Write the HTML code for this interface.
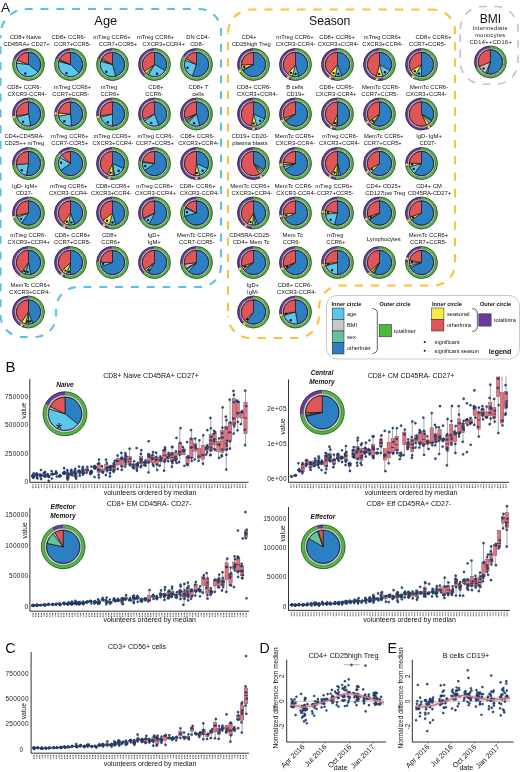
<!DOCTYPE html>
<html><head><meta charset="utf-8"><style>
html,body{margin:0;padding:0;background:#fff;}
svg{display:block;}
.d{fill:#2b4a7c;stroke:#0f2448;stroke-width:.3px}
.tk{stroke:#6a6a6a;stroke-width:1.25px;stroke-dasharray:1.05 .4;fill:none}
.b{fill:#ef6f80;stroke:#3a3a3a;stroke-width:.35px}
.w{stroke:#4a4a4a;stroke-width:.5px}
.m{stroke:#111;stroke-width:.65px}
.pw{stroke:#111;stroke-width:.65px;stroke-linejoin:round}
</style></head><body>
<svg width="520" height="772" viewBox="0 0 520 772" font-family='"Liberation Sans", sans-serif'>
<rect width="520" height="772" fill="#fff"/>
<g style="will-change:transform">
<text x="1" y="11.5" font-size="13.7" text-anchor="start" font-weight="normal" font-style="normal" fill="#111" >A</text><path d="M0.5 35A26 26 0 0 1 26.5 9L199 9A22 22 0 0 1 221 31L221 266A21 21 0 0 1 200 287L78 287A22 22 0 0 0 56 309L56 316A21 21 0 0 1 35 337L22.5 337A22 22 0 0 1 0.5 315Z" fill="none" stroke="#56c2e6" stroke-width="2.1" stroke-dasharray="7.9 7.91" stroke-dashoffset="-7.21"/><text x="94.3" y="24.6" font-size="12.9" text-anchor="start" font-weight="normal" font-style="normal" fill="#111" >Age</text><path d="M228 33A23.5 23.5 0 0 1 251.5 9.5L433 9.5" fill="none" stroke="#fec23a" stroke-width="2.1" stroke-dasharray="8.3 8" stroke-dashoffset="-0.71"/><path d="M433 9.5A22 22 0 0 1 455 31.5L455 264A21.5 21.5 0 0 1 433.5 285.5L341 285.5A22 22 0 0 0 319 307.5L319 316A22 22 0 0 1 297 338L250 338A22 22 0 0 1 228 316" fill="none" stroke="#fec23a" stroke-width="2.1" stroke-dasharray="8.3 8" stroke-dashoffset="-12.36"/><path d="M228 316L228 33" fill="none" stroke="#fec23a" stroke-width="2.1" stroke-dasharray="8.3 8" stroke-dashoffset="-5"/><text x="309" y="24.8" font-size="12.2" text-anchor="start" font-weight="normal" font-style="normal" fill="#111" >Season</text><path d="M460.3 29A22.5 22.5 0 0 1 482.8 6.5L495.5 6.5A22.5 22.5 0 0 1 518 29L518 61.8A22.5 22.5 0 0 1 495.5 84.3L482.8 84.3A22.5 22.5 0 0 1 460.3 61.8Z" fill="none" stroke="#c2c2c2" stroke-width="1.6" stroke-dasharray="7.8 7.8"/><text x="490.3" y="22.5" font-size="12" text-anchor="middle" font-weight="normal" font-style="normal" fill="#111" >BMI</text><text x="490.3" y="30.4" font-size="5.6" text-anchor="middle" font-weight="normal" font-style="normal" fill="#111" letter-spacing="0.35">Intermediate</text><text x="490.3" y="37.4" font-size="5.6" text-anchor="middle" font-weight="normal" font-style="normal" fill="#111" letter-spacing="0.35">monocytes</text><text x="490.8" y="44.4" font-size="5.6" text-anchor="middle" font-weight="normal" font-style="normal" fill="#111" letter-spacing="0.4">CD14++CD16+</text><path d="M490.4 45.7A16.2 16.2 0 1 1 475.49 68.23L477.84 67.23A13.64 13.64 0 1 0 490.4 48.26Z" fill="#4cba3c"/><path d="M475.49 68.23A16.2 16.2 0 0 1 490.4 45.7L490.4 48.26A13.64 13.64 0 0 0 477.84 67.23Z" fill="#6b3a9e"/><circle cx="490.4" cy="61.9" r="16" fill="none" stroke="#1a1a1a" stroke-width="0.55"/><circle cx="490.4" cy="61.9" r="13.64" fill="#fff" stroke="#1a1a1a" stroke-width="0.5"/><circle cx="490.4" cy="61.9" r="12.83" fill="#fff" stroke="#8e8e8e" stroke-width="0.6"/><path class="pw" d="M490.4 61.9L490.4 49.72A12.18 12.18 0 1 1 487.25 73.67Z" fill="#2c7fc1"/><path class="pw" d="M490.4 61.9L487.25 73.67A12.18 12.18 0 0 1 485.64 73.11Z" fill="#5ac8ea"/><path class="pw" d="M490.4 61.9L485.64 73.11A12.18 12.18 0 0 1 479.19 66.66Z" fill="#c6c6c6"/><path class="pw" d="M490.4 61.9L479.19 66.66A12.18 12.18 0 0 1 490.4 49.72Z" fill="#e0555a"/><circle cx="490.4" cy="61.9" r="12.18" fill="none" stroke="#111" stroke-width="0.5"/><circle cx="483.56" cy="68.5" r="1.17" fill="#111"/><text x="25.5" y="39.2" font-size="5.8" text-anchor="middle" font-weight="normal" font-style="normal" fill="#111" >CD8+ Naive</text><text x="26.5" y="46.2" font-size="5.8" text-anchor="middle" font-weight="normal" font-style="normal" fill="#111" >CD45RA+ CD27+</text><path d="M28.5 48.3A16.2 16.2 0 1 1 13.38 58.69L15.77 59.61A13.64 13.64 0 1 0 28.5 50.86Z" fill="#4cba3c"/><path d="M13.38 58.69A16.2 16.2 0 0 1 28.5 48.3L28.5 50.86A13.64 13.64 0 0 0 15.77 59.61Z" fill="#6b3a9e"/><circle cx="28.5" cy="64.5" r="16" fill="none" stroke="#1a1a1a" stroke-width="0.55"/><circle cx="28.5" cy="64.5" r="13.64" fill="#fff" stroke="#1a1a1a" stroke-width="0.5"/><circle cx="28.5" cy="64.5" r="12.83" fill="#fff" stroke="#8e8e8e" stroke-width="0.6"/><path class="pw" d="M28.5 64.5L28.5 52.32A12.18 12.18 0 0 1 38.1 72Z" fill="#2c7fc1"/><path class="pw" d="M28.5 64.5L38.1 72A12.18 12.18 0 0 1 16.41 63.02Z" fill="#5ac8ea"/><path class="pw" d="M28.5 64.5L16.41 63.02A12.18 12.18 0 0 1 17.13 60.13Z" fill="#c6c6c6"/><path class="pw" d="M28.5 64.5L17.13 60.13A12.18 12.18 0 0 1 28.5 52.32Z" fill="#e0555a"/><circle cx="28.5" cy="64.5" r="12.18" fill="none" stroke="#111" stroke-width="0.5"/><circle cx="25.25" cy="73.43" r="1.17" fill="#111"/><text x="68.6" y="39.2" font-size="5.8" text-anchor="middle" font-weight="normal" font-style="normal" fill="#111" >CD8+ CCR6-</text><text x="72.4" y="46.2" font-size="5.8" text-anchor="middle" font-weight="normal" font-style="normal" fill="#111" >CCR7+CCR5-</text><path d="M70.5 48.3A16.2 16.2 0 1 1 55.28 58.96L57.68 59.83A13.64 13.64 0 1 0 70.5 50.86Z" fill="#4cba3c"/><path d="M55.28 58.96A16.2 16.2 0 0 1 70.5 48.3L70.5 50.86A13.64 13.64 0 0 0 57.68 59.83Z" fill="#6b3a9e"/><circle cx="70.5" cy="64.5" r="16" fill="none" stroke="#1a1a1a" stroke-width="0.55"/><circle cx="70.5" cy="64.5" r="13.64" fill="#fff" stroke="#1a1a1a" stroke-width="0.5"/><circle cx="70.5" cy="64.5" r="12.83" fill="#fff" stroke="#8e8e8e" stroke-width="0.6"/><path class="pw" d="M70.5 64.5L70.5 52.32A12.18 12.18 0 0 1 79.11 73.11Z" fill="#2c7fc1"/><path class="pw" d="M70.5 64.5L79.11 73.11A12.18 12.18 0 0 1 58.73 61.35Z" fill="#5ac8ea"/><path class="pw" d="M70.5 64.5L58.73 61.35A12.18 12.18 0 0 1 59.05 60.33Z" fill="#c6c6c6"/><path class="pw" d="M70.5 64.5L59.05 60.33A12.18 12.18 0 0 1 59.46 59.35Z" fill="#f4ea48"/><path class="pw" d="M70.5 64.5L59.46 59.35A12.18 12.18 0 0 1 70.5 52.32Z" fill="#e0555a"/><circle cx="70.5" cy="64.5" r="12.18" fill="none" stroke="#111" stroke-width="0.5"/><circle cx="66.48" cy="73.11" r="1.17" fill="#111"/><text x="111.9" y="39.2" font-size="5.8" text-anchor="middle" font-weight="normal" font-style="normal" fill="#111" >mTreg CCR6+</text><text x="118" y="46.2" font-size="5.8" text-anchor="middle" font-weight="normal" font-style="normal" fill="#111" >CCR7+CCR5+</text><path d="M112.5 48.3A16.2 16.2 0 1 1 97.48 58.43L99.85 59.39A13.64 13.64 0 1 0 112.5 50.86Z" fill="#4cba3c"/><path d="M97.48 58.43A16.2 16.2 0 0 1 112.5 48.3L112.5 50.86A13.64 13.64 0 0 0 99.85 59.39Z" fill="#6b3a9e"/><circle cx="112.5" cy="64.5" r="16" fill="none" stroke="#1a1a1a" stroke-width="0.55"/><circle cx="112.5" cy="64.5" r="13.64" fill="#fff" stroke="#1a1a1a" stroke-width="0.5"/><circle cx="112.5" cy="64.5" r="12.83" fill="#fff" stroke="#8e8e8e" stroke-width="0.6"/><path class="pw" d="M112.5 64.5L112.5 52.32A12.18 12.18 0 0 1 115.65 76.27Z" fill="#2c7fc1"/><path class="pw" d="M112.5 64.5L115.65 76.27A12.18 12.18 0 0 1 100.73 61.35Z" fill="#5ac8ea"/><path class="pw" d="M112.5 64.5L100.73 61.35A12.18 12.18 0 0 1 101.2 59.94Z" fill="#c6c6c6"/><path class="pw" d="M112.5 64.5L101.2 59.94A12.18 12.18 0 0 1 101.74 58.78Z" fill="#f4ea48"/><path class="pw" d="M112.5 64.5L101.74 58.78A12.18 12.18 0 0 1 112.5 52.32Z" fill="#e0555a"/><circle cx="112.5" cy="64.5" r="12.18" fill="none" stroke="#111" stroke-width="0.5"/><circle cx="106.39" cy="71.78" r="1.17" fill="#111"/><text x="155.6" y="39.2" font-size="5.8" text-anchor="middle" font-weight="normal" font-style="normal" fill="#111" >mTreg CCR6+</text><text x="163.7" y="46.2" font-size="5.8" text-anchor="middle" font-weight="normal" font-style="normal" fill="#111" >CXCR3+CCR4+</text><path d="M154.5 48.3A16.2 16.2 0 1 1 143.66 76.54L145.37 74.64A13.64 13.64 0 1 0 154.5 50.86Z" fill="#4cba3c"/><path d="M143.66 76.54A16.2 16.2 0 0 1 154.5 48.3L154.5 50.86A13.64 13.64 0 0 0 145.37 74.64Z" fill="#6b3a9e"/><circle cx="154.5" cy="64.5" r="16" fill="none" stroke="#1a1a1a" stroke-width="0.55"/><circle cx="154.5" cy="64.5" r="13.64" fill="#fff" stroke="#1a1a1a" stroke-width="0.5"/><circle cx="154.5" cy="64.5" r="12.83" fill="#fff" stroke="#8e8e8e" stroke-width="0.6"/><path class="pw" d="M154.5 64.5L154.5 52.32A12.18 12.18 0 0 1 165.05 70.59Z" fill="#2c7fc1"/><path class="pw" d="M154.5 64.5L165.05 70.59A12.18 12.18 0 0 1 148.41 75.05Z" fill="#5ac8ea"/><path class="pw" d="M154.5 64.5L148.41 75.05A12.18 12.18 0 0 1 146.35 73.55Z" fill="#66c49c"/><path class="pw" d="M154.5 64.5L146.35 73.55A12.18 12.18 0 0 1 144.52 71.49Z" fill="#f4ea48"/><path class="pw" d="M154.5 64.5L144.52 71.49A12.18 12.18 0 0 1 154.5 52.32Z" fill="#e0555a"/><circle cx="154.5" cy="64.5" r="12.18" fill="none" stroke="#111" stroke-width="0.5"/><circle cx="156.96" cy="73.68" r="1.17" fill="#111"/><text x="198" y="39.2" font-size="5.8" text-anchor="middle" font-weight="normal" font-style="normal" fill="#111" >DN CD4-</text><text x="196.9" y="46.2" font-size="5.8" text-anchor="middle" font-weight="normal" font-style="normal" fill="#111" >CD8-</text><path d="M196.5 48.3A16.2 16.2 0 1 1 182.47 56.4L184.69 57.68A13.64 13.64 0 1 0 196.5 50.86Z" fill="#4cba3c"/><path d="M182.47 56.4A16.2 16.2 0 0 1 196.5 48.3L196.5 50.86A13.64 13.64 0 0 0 184.69 57.68Z" fill="#6b3a9e"/><circle cx="196.5" cy="64.5" r="16" fill="none" stroke="#1a1a1a" stroke-width="0.55"/><circle cx="196.5" cy="64.5" r="13.64" fill="#fff" stroke="#1a1a1a" stroke-width="0.5"/><circle cx="196.5" cy="64.5" r="12.83" fill="#fff" stroke="#8e8e8e" stroke-width="0.6"/><path class="pw" d="M196.5 64.5L196.5 52.32A12.18 12.18 0 1 1 192.33 75.95Z" fill="#2c7fc1"/><path class="pw" d="M196.5 64.5L192.33 75.95A12.18 12.18 0 0 1 185.05 60.33Z" fill="#5ac8ea"/><path class="pw" d="M196.5 64.5L185.05 60.33A12.18 12.18 0 0 1 185.95 58.41Z" fill="#c6c6c6"/><path class="pw" d="M196.5 64.5L185.95 58.41A12.18 12.18 0 0 1 196.5 52.32Z" fill="#e0555a"/><circle cx="196.5" cy="64.5" r="12.18" fill="none" stroke="#111" stroke-width="0.5"/><circle cx="187.57" cy="67.75" r="1.17" fill="#111"/><text x="24.3" y="88.7" font-size="5.8" text-anchor="middle" font-weight="normal" font-style="normal" fill="#111" >CD8+ CCR6-</text><text x="27.1" y="95.7" font-size="5.8" text-anchor="middle" font-weight="normal" font-style="normal" fill="#111" >CXCR3-CCR4-</text><path d="M28.5 97.8A16.2 16.2 0 1 1 12.85 118.19L15.32 117.53A13.64 13.64 0 1 0 28.5 100.36Z" fill="#4cba3c"/><path d="M12.85 118.19A16.2 16.2 0 0 1 28.5 97.8L28.5 100.36A13.64 13.64 0 0 0 15.32 117.53Z" fill="#6b3a9e"/><circle cx="28.5" cy="114" r="16" fill="none" stroke="#1a1a1a" stroke-width="0.55"/><circle cx="28.5" cy="114" r="13.64" fill="#fff" stroke="#1a1a1a" stroke-width="0.5"/><circle cx="28.5" cy="114" r="12.83" fill="#fff" stroke="#8e8e8e" stroke-width="0.6"/><path class="pw" d="M28.5 114L28.5 101.82A12.18 12.18 0 0 1 30.62 126Z" fill="#2c7fc1"/><path class="pw" d="M28.5 114L30.62 126A12.18 12.18 0 0 1 16.73 117.15Z" fill="#5ac8ea"/><path class="pw" d="M28.5 114L16.73 117.15A12.18 12.18 0 0 1 16.44 115.7Z" fill="#f4ea48"/><path class="pw" d="M28.5 114L16.44 115.7A12.18 12.18 0 0 1 28.5 101.82Z" fill="#e0555a"/><circle cx="28.5" cy="114" r="12.18" fill="none" stroke="#111" stroke-width="0.5"/><circle cx="23.05" cy="121.78" r="1.17" fill="#111"/><circle cx="13.91" cy="117.1" r="1.21" fill="#f3e33a"/><text x="72.5" y="88.7" font-size="5.8" text-anchor="middle" font-weight="normal" font-style="normal" fill="#111" >mTreg CCR6+</text><text x="70.8" y="95.7" font-size="5.8" text-anchor="middle" font-weight="normal" font-style="normal" fill="#111" >CCR7+CCR5-</text><path d="M70.5 97.8A16.2 16.2 0 1 1 54.55 116.81L57.07 116.37A13.64 13.64 0 1 0 70.5 100.36Z" fill="#4cba3c"/><path d="M54.55 116.81A16.2 16.2 0 0 1 70.5 97.8L70.5 100.36A13.64 13.64 0 0 0 57.07 116.37Z" fill="#6b3a9e"/><circle cx="70.5" cy="114" r="16" fill="none" stroke="#1a1a1a" stroke-width="0.55"/><circle cx="70.5" cy="114" r="13.64" fill="#fff" stroke="#1a1a1a" stroke-width="0.5"/><circle cx="70.5" cy="114" r="12.83" fill="#fff" stroke="#8e8e8e" stroke-width="0.6"/><path class="pw" d="M70.5 114L70.5 101.82A12.18 12.18 0 0 1 71.56 126.14Z" fill="#2c7fc1"/><path class="pw" d="M70.5 114L71.56 126.14A12.18 12.18 0 0 1 58.5 116.12Z" fill="#5ac8ea"/><path class="pw" d="M70.5 114L58.5 116.12A12.18 12.18 0 0 1 58.36 112.94Z" fill="#f4ea48"/><path class="pw" d="M70.5 114L58.36 112.94A12.18 12.18 0 0 1 70.5 101.82Z" fill="#e0555a"/><circle cx="70.5" cy="114" r="12.18" fill="none" stroke="#111" stroke-width="0.5"/><circle cx="64.39" cy="121.28" r="1.17" fill="#111"/><circle cx="55.59" cy="113.48" r="1.21" fill="#f3e33a"/><text x="109" y="88.7" font-size="5.8" text-anchor="middle" font-weight="normal" font-style="normal" fill="#111" >mTreg</text><text x="110" y="95.7" font-size="5.8" text-anchor="middle" font-weight="normal" font-style="normal" fill="#111" >CCR6+</text><path d="M112.5 97.8A16.2 16.2 0 1 1 96.85 118.19L99.32 117.53A13.64 13.64 0 1 0 112.5 100.36Z" fill="#4cba3c"/><path d="M96.85 118.19A16.2 16.2 0 0 1 112.5 97.8L112.5 100.36A13.64 13.64 0 0 0 99.32 117.53Z" fill="#6b3a9e"/><circle cx="112.5" cy="114" r="16" fill="none" stroke="#1a1a1a" stroke-width="0.55"/><circle cx="112.5" cy="114" r="13.64" fill="#fff" stroke="#1a1a1a" stroke-width="0.5"/><circle cx="112.5" cy="114" r="12.83" fill="#fff" stroke="#8e8e8e" stroke-width="0.6"/><path class="pw" d="M112.5 114L112.5 101.82A12.18 12.18 0 0 1 112.5 126.18Z" fill="#2c7fc1"/><path class="pw" d="M112.5 114L112.5 126.18A12.18 12.18 0 0 1 100.73 117.15Z" fill="#5ac8ea"/><path class="pw" d="M112.5 114L100.73 117.15A12.18 12.18 0 0 1 100.44 115.7Z" fill="#f4ea48"/><path class="pw" d="M112.5 114L100.44 115.7A12.18 12.18 0 0 1 112.5 101.82Z" fill="#e0555a"/><circle cx="112.5" cy="114" r="12.18" fill="none" stroke="#111" stroke-width="0.5"/><circle cx="107.75" cy="122.23" r="1.17" fill="#111"/><circle cx="97.91" cy="117.1" r="1.21" fill="#f3e33a"/><text x="155.8" y="88.7" font-size="5.8" text-anchor="middle" font-weight="normal" font-style="normal" fill="#111" >CD8+</text><text x="154.2" y="95.7" font-size="5.8" text-anchor="middle" font-weight="normal" font-style="normal" fill="#111" >CCR6-</text><path d="M154.5 97.8A16.2 16.2 0 1 1 139.82 120.85L142.14 119.76A13.64 13.64 0 1 0 154.5 100.36Z" fill="#4cba3c"/><path d="M139.82 120.85A16.2 16.2 0 0 1 154.5 97.8L154.5 100.36A13.64 13.64 0 0 0 142.14 119.76Z" fill="#6b3a9e"/><circle cx="154.5" cy="114" r="16" fill="none" stroke="#1a1a1a" stroke-width="0.55"/><circle cx="154.5" cy="114" r="13.64" fill="#fff" stroke="#1a1a1a" stroke-width="0.5"/><circle cx="154.5" cy="114" r="12.83" fill="#fff" stroke="#8e8e8e" stroke-width="0.6"/><path class="pw" d="M154.5 114L154.5 101.82A12.18 12.18 0 0 1 158.67 125.45Z" fill="#2c7fc1"/><path class="pw" d="M154.5 114L158.67 125.45A12.18 12.18 0 0 1 144.52 120.99Z" fill="#5ac8ea"/><path class="pw" d="M154.5 114L144.52 120.99A12.18 12.18 0 0 1 143.46 119.15Z" fill="#c6c6c6"/><path class="pw" d="M154.5 114L143.46 119.15A12.18 12.18 0 0 1 154.5 101.82Z" fill="#e0555a"/><circle cx="154.5" cy="114" r="12.18" fill="none" stroke="#111" stroke-width="0.5"/><circle cx="151.25" cy="122.93" r="1.17" fill="#111"/><text x="198.5" y="88.7" font-size="5.8" text-anchor="middle" font-weight="normal" font-style="normal" fill="#111" >CD8+ T</text><text x="198" y="95.7" font-size="5.8" text-anchor="middle" font-weight="normal" font-style="normal" fill="#111" >cells</text><path d="M196.5 97.8A16.2 16.2 0 1 1 182.2 121.61L184.46 120.4A13.64 13.64 0 1 0 196.5 100.36Z" fill="#4cba3c"/><path d="M182.2 121.61A16.2 16.2 0 0 1 196.5 97.8L196.5 100.36A13.64 13.64 0 0 0 184.46 120.4Z" fill="#6b3a9e"/><circle cx="196.5" cy="114" r="16" fill="none" stroke="#1a1a1a" stroke-width="0.55"/><circle cx="196.5" cy="114" r="13.64" fill="#fff" stroke="#1a1a1a" stroke-width="0.5"/><circle cx="196.5" cy="114" r="12.83" fill="#fff" stroke="#8e8e8e" stroke-width="0.6"/><path class="pw" d="M196.5 114L196.5 101.82A12.18 12.18 0 0 1 199.65 125.77Z" fill="#2c7fc1"/><path class="pw" d="M196.5 114L199.65 125.77A12.18 12.18 0 0 1 187.89 122.61Z" fill="#5ac8ea"/><path class="pw" d="M196.5 114L187.89 122.61A12.18 12.18 0 0 1 186.52 120.99Z" fill="#66c49c"/><path class="pw" d="M196.5 114L186.52 120.99A12.18 12.18 0 0 1 185.74 119.72Z" fill="#c6c6c6"/><path class="pw" d="M196.5 114L185.74 119.72A12.18 12.18 0 0 1 185.05 118.17Z" fill="#f4ea48"/><path class="pw" d="M196.5 114L185.05 118.17A12.18 12.18 0 0 1 196.5 101.82Z" fill="#e0555a"/><circle cx="196.5" cy="114" r="12.18" fill="none" stroke="#111" stroke-width="0.5"/><circle cx="194.04" cy="123.18" r="1.17" fill="#111"/><text x="24.3" y="138.2" font-size="5.8" text-anchor="middle" font-weight="normal" font-style="normal" fill="#111" >CD4+CD45RA-</text><text x="24.3" y="145.2" font-size="5.8" text-anchor="middle" font-weight="normal" font-style="normal" fill="#111" >CD25++ mTreg</text><path d="M28.5 147.3A16.2 16.2 0 1 1 12.36 164.91L14.91 164.69A13.64 13.64 0 1 0 28.5 149.86Z" fill="#4cba3c"/><path d="M12.36 164.91A16.2 16.2 0 0 1 28.5 147.3L28.5 149.86A13.64 13.64 0 0 0 14.91 164.69Z" fill="#6b3a9e"/><circle cx="28.5" cy="163.5" r="16" fill="none" stroke="#1a1a1a" stroke-width="0.55"/><circle cx="28.5" cy="163.5" r="13.64" fill="#fff" stroke="#1a1a1a" stroke-width="0.5"/><circle cx="28.5" cy="163.5" r="12.83" fill="#fff" stroke="#8e8e8e" stroke-width="0.6"/><path class="pw" d="M28.5 163.5L28.5 151.32A12.18 12.18 0 1 1 26.38 175.5Z" fill="#2c7fc1"/><path class="pw" d="M28.5 163.5L26.38 175.5A12.18 12.18 0 0 1 16.36 164.56Z" fill="#5ac8ea"/><path class="pw" d="M28.5 163.5L16.36 164.56A12.18 12.18 0 0 1 28.5 151.32Z" fill="#e0555a"/><circle cx="28.5" cy="163.5" r="12.18" fill="none" stroke="#111" stroke-width="0.5"/><circle cx="21.78" cy="170.22" r="1.17" fill="#111"/><text x="69.7" y="138.2" font-size="5.8" text-anchor="middle" font-weight="normal" font-style="normal" fill="#111" >mTreg CCR6+</text><text x="69.7" y="145.2" font-size="5.8" text-anchor="middle" font-weight="normal" font-style="normal" fill="#111" >CCR7-CCR5+</text><path d="M70.5 147.3A16.2 16.2 0 1 1 58.46 152.66L60.36 154.37A13.64 13.64 0 1 0 70.5 149.86Z" fill="#4cba3c"/><path d="M58.46 152.66A16.2 16.2 0 0 1 70.5 147.3L70.5 149.86A13.64 13.64 0 0 0 60.36 154.37Z" fill="#6b3a9e"/><circle cx="70.5" cy="163.5" r="16" fill="none" stroke="#1a1a1a" stroke-width="0.55"/><circle cx="70.5" cy="163.5" r="13.64" fill="#fff" stroke="#1a1a1a" stroke-width="0.5"/><circle cx="70.5" cy="163.5" r="12.83" fill="#fff" stroke="#8e8e8e" stroke-width="0.6"/><path class="pw" d="M70.5 163.5L70.5 151.32A12.18 12.18 0 1 1 60.52 170.49Z" fill="#2c7fc1"/><path class="pw" d="M70.5 163.5L60.52 170.49A12.18 12.18 0 0 1 59.95 157.41Z" fill="#5ac8ea"/><path class="pw" d="M70.5 163.5L59.95 157.41A12.18 12.18 0 0 1 61.45 155.35Z" fill="#c6c6c6"/><path class="pw" d="M70.5 163.5L61.45 155.35A12.18 12.18 0 0 1 70.5 151.32Z" fill="#e0555a"/><circle cx="70.5" cy="163.5" r="12.18" fill="none" stroke="#111" stroke-width="0.5"/><circle cx="61.03" cy="162.67" r="1.17" fill="#111"/><text x="112.2" y="138.2" font-size="5.8" text-anchor="middle" font-weight="normal" font-style="normal" fill="#111" >mTreg CCR6+</text><text x="112.8" y="145.2" font-size="5.8" text-anchor="middle" font-weight="normal" font-style="normal" fill="#111" >CXCR3+CCR4-</text><path d="M112.5 147.3A16.2 16.2 0 0 1 113.07 179.69L112.98 177.13A13.64 13.64 0 0 0 112.5 149.86Z" fill="#4cba3c"/><path d="M113.07 179.69A16.2 16.2 0 1 1 112.5 147.3L112.5 149.86A13.64 13.64 0 1 0 112.98 177.13Z" fill="#6b3a9e"/><circle cx="112.5" cy="163.5" r="16" fill="none" stroke="#1a1a1a" stroke-width="0.55"/><circle cx="112.5" cy="163.5" r="13.64" fill="#fff" stroke="#1a1a1a" stroke-width="0.5"/><circle cx="112.5" cy="163.5" r="12.83" fill="#fff" stroke="#8e8e8e" stroke-width="0.6"/><path class="pw" d="M112.5 163.5L112.5 151.32A12.18 12.18 0 0 1 123.54 168.65Z" fill="#2c7fc1"/><path class="pw" d="M112.5 163.5L123.54 168.65A12.18 12.18 0 0 1 114.62 175.5Z" fill="#5ac8ea"/><path class="pw" d="M112.5 163.5L114.62 175.5A12.18 12.18 0 0 1 112.93 175.67Z" fill="#66c49c"/><path class="pw" d="M112.5 163.5L112.93 175.67A12.18 12.18 0 0 1 107.35 174.54Z" fill="#f4ea48"/><path class="pw" d="M112.5 163.5L107.35 174.54A12.18 12.18 0 0 1 112.5 151.32Z" fill="#e0555a"/><circle cx="112.5" cy="163.5" r="12.18" fill="none" stroke="#111" stroke-width="0.5"/><circle cx="118.61" cy="170.78" r="1.17" fill="#111"/><circle cx="110.52" cy="172.79" r="1.17" fill="#111"/><circle cx="109.4" cy="178.09" r="1.21" fill="#f3e33a"/><text x="155.4" y="138.2" font-size="5.8" text-anchor="middle" font-weight="normal" font-style="normal" fill="#111" >mTreg CCR6-</text><text x="154.8" y="145.2" font-size="5.8" text-anchor="middle" font-weight="normal" font-style="normal" fill="#111" >CCR7+CCR5+</text><path d="M154.5 147.3A16.2 16.2 0 1 1 138.55 160.69L141.07 161.13A13.64 13.64 0 1 0 154.5 149.86Z" fill="#4cba3c"/><path d="M138.55 160.69A16.2 16.2 0 0 1 154.5 147.3L154.5 149.86A13.64 13.64 0 0 0 141.07 161.13Z" fill="#6b3a9e"/><circle cx="154.5" cy="163.5" r="16" fill="none" stroke="#1a1a1a" stroke-width="0.55"/><circle cx="154.5" cy="163.5" r="13.64" fill="#fff" stroke="#1a1a1a" stroke-width="0.5"/><circle cx="154.5" cy="163.5" r="12.83" fill="#fff" stroke="#8e8e8e" stroke-width="0.6"/><path class="pw" d="M154.5 163.5L154.5 151.32A12.18 12.18 0 1 1 144.52 170.49Z" fill="#2c7fc1"/><path class="pw" d="M154.5 163.5L144.52 170.49A12.18 12.18 0 0 1 142.36 162.44Z" fill="#5ac8ea"/><path class="pw" d="M154.5 163.5L142.36 162.44A12.18 12.18 0 0 1 142.5 161.38Z" fill="#c6c6c6"/><path class="pw" d="M154.5 163.5L142.5 161.38A12.18 12.18 0 0 1 154.5 151.32Z" fill="#e0555a"/><circle cx="154.5" cy="163.5" r="12.18" fill="none" stroke="#111" stroke-width="0.5"/><circle cx="145.32" cy="165.96" r="1.17" fill="#111"/><text x="197.4" y="138.2" font-size="5.8" text-anchor="middle" font-weight="normal" font-style="normal" fill="#111" >CD8+ CCR6-</text><text x="198.5" y="145.2" font-size="5.8" text-anchor="middle" font-weight="normal" font-style="normal" fill="#111" >CXCR3+CCR4-</text><path d="M196.5 147.3A16.2 16.2 0 0 1 200.69 179.15L200.03 176.68A13.64 13.64 0 0 0 196.5 149.86Z" fill="#4cba3c"/><path d="M200.69 179.15A16.2 16.2 0 1 1 196.5 147.3L196.5 149.86A13.64 13.64 0 1 0 200.03 176.68Z" fill="#6b3a9e"/><circle cx="196.5" cy="163.5" r="16" fill="none" stroke="#1a1a1a" stroke-width="0.55"/><circle cx="196.5" cy="163.5" r="13.64" fill="#fff" stroke="#1a1a1a" stroke-width="0.5"/><circle cx="196.5" cy="163.5" r="12.83" fill="#fff" stroke="#8e8e8e" stroke-width="0.6"/><path class="pw" d="M196.5 163.5L196.5 151.32A12.18 12.18 0 0 1 207.54 168.65Z" fill="#2c7fc1"/><path class="pw" d="M196.5 163.5L207.54 168.65A12.18 12.18 0 0 1 199.65 175.27Z" fill="#5ac8ea"/><path class="pw" d="M196.5 163.5L199.65 175.27A12.18 12.18 0 0 1 194.8 175.56Z" fill="#f4ea48"/><path class="pw" d="M196.5 163.5L194.8 175.56A12.18 12.18 0 0 1 196.5 151.32Z" fill="#e0555a"/><circle cx="196.5" cy="163.5" r="12.18" fill="none" stroke="#111" stroke-width="0.5"/><circle cx="202.61" cy="170.78" r="1.17" fill="#111"/><circle cx="196.83" cy="173" r="1.17" fill="#111"/><circle cx="196.5" cy="178.42" r="1.21" fill="#f3e33a"/><text x="24.9" y="187.7" font-size="5.8" text-anchor="middle" font-weight="normal" font-style="normal" fill="#111" >IgD- IgM+</text><text x="24.3" y="194.7" font-size="5.8" text-anchor="middle" font-weight="normal" font-style="normal" fill="#111" >CD27-</text><path d="M28.5 196.8A16.2 16.2 0 1 1 13.28 218.54L15.68 217.67A13.64 13.64 0 1 0 28.5 199.36Z" fill="#4cba3c"/><path d="M13.28 218.54A16.2 16.2 0 0 1 28.5 196.8L28.5 199.36A13.64 13.64 0 0 0 15.68 217.67Z" fill="#6b3a9e"/><circle cx="28.5" cy="213" r="16" fill="none" stroke="#1a1a1a" stroke-width="0.55"/><circle cx="28.5" cy="213" r="13.64" fill="#fff" stroke="#1a1a1a" stroke-width="0.5"/><circle cx="28.5" cy="213" r="12.83" fill="#fff" stroke="#8e8e8e" stroke-width="0.6"/><path class="pw" d="M28.5 213L28.5 200.82A12.18 12.18 0 1 1 21.51 222.98Z" fill="#2c7fc1"/><path class="pw" d="M28.5 213L21.51 222.98A12.18 12.18 0 0 1 17.05 217.17Z" fill="#5ac8ea"/><path class="pw" d="M28.5 213L17.05 217.17A12.18 12.18 0 0 1 16.58 215.53Z" fill="#f4ea48"/><path class="pw" d="M28.5 213L16.58 215.53A12.18 12.18 0 0 1 28.5 200.82Z" fill="#e0555a"/><circle cx="28.5" cy="213" r="12.18" fill="none" stroke="#111" stroke-width="0.5"/><circle cx="21.01" cy="218.85" r="1.17" fill="#111"/><circle cx="14.16" cy="217.11" r="1.21" fill="#f3e33a"/><text x="68.6" y="187.7" font-size="5.8" text-anchor="middle" font-weight="normal" font-style="normal" fill="#111" >mTreg CCR6+</text><text x="68.6" y="194.7" font-size="5.8" text-anchor="middle" font-weight="normal" font-style="normal" fill="#111" >CXCR3-CCR4-</text><path d="M70.5 196.8A16.2 16.2 0 1 1 67.69 228.95L68.13 226.43A13.64 13.64 0 1 0 70.5 199.36Z" fill="#4cba3c"/><path d="M67.69 228.95A16.2 16.2 0 0 1 70.5 196.8L70.5 199.36A13.64 13.64 0 0 0 68.13 226.43Z" fill="#6b3a9e"/><circle cx="70.5" cy="213" r="16" fill="none" stroke="#1a1a1a" stroke-width="0.55"/><circle cx="70.5" cy="213" r="13.64" fill="#fff" stroke="#1a1a1a" stroke-width="0.5"/><circle cx="70.5" cy="213" r="12.83" fill="#fff" stroke="#8e8e8e" stroke-width="0.6"/><path class="pw" d="M70.5 213L70.5 200.82A12.18 12.18 0 0 1 74.67 224.45Z" fill="#2c7fc1"/><path class="pw" d="M70.5 213L74.67 224.45A12.18 12.18 0 0 1 68.38 225Z" fill="#5ac8ea"/><path class="pw" d="M70.5 213L68.38 225A12.18 12.18 0 0 1 63.51 222.98Z" fill="#f4ea48"/><path class="pw" d="M70.5 213L63.51 222.98A12.18 12.18 0 0 1 70.5 200.82Z" fill="#e0555a"/><circle cx="70.5" cy="213" r="12.18" fill="none" stroke="#111" stroke-width="0.5"/><circle cx="71.33" cy="222.47" r="1.17" fill="#111"/><circle cx="66.79" cy="221.75" r="1.17" fill="#111"/><circle cx="64.19" cy="226.52" r="1.21" fill="#f3e33a"/><text x="112.8" y="187.7" font-size="5.8" text-anchor="middle" font-weight="normal" font-style="normal" fill="#111" >CD8+CCR6+</text><text x="111.4" y="194.7" font-size="5.8" text-anchor="middle" font-weight="normal" font-style="normal" fill="#111" >CXCR3+CCR4-</text><path d="M112.5 196.8A16.2 16.2 0 1 1 108.31 228.65L108.97 226.18A13.64 13.64 0 1 0 112.5 199.36Z" fill="#4cba3c"/><path d="M108.31 228.65A16.2 16.2 0 0 1 112.5 196.8L112.5 199.36A13.64 13.64 0 0 0 108.97 226.18Z" fill="#6b3a9e"/><circle cx="112.5" cy="213" r="16" fill="none" stroke="#1a1a1a" stroke-width="0.55"/><circle cx="112.5" cy="213" r="13.64" fill="#fff" stroke="#1a1a1a" stroke-width="0.5"/><circle cx="112.5" cy="213" r="12.83" fill="#fff" stroke="#8e8e8e" stroke-width="0.6"/><path class="pw" d="M112.5 213L112.5 200.82A12.18 12.18 0 0 1 115.65 224.77Z" fill="#2c7fc1"/><path class="pw" d="M112.5 213L115.65 224.77A12.18 12.18 0 0 1 109.35 224.77Z" fill="#5ac8ea"/><path class="pw" d="M112.5 213L109.35 224.77A12.18 12.18 0 0 1 102.9 220.5Z" fill="#f4ea48"/><path class="pw" d="M112.5 213L102.9 220.5A12.18 12.18 0 0 1 112.5 200.82Z" fill="#e0555a"/><circle cx="112.5" cy="213" r="12.18" fill="none" stroke="#111" stroke-width="0.5"/><circle cx="112.5" cy="222.5" r="1.17" fill="#111"/><circle cx="107.05" cy="220.78" r="1.17" fill="#111"/><circle cx="103.94" cy="225.22" r="1.21" fill="#f3e33a"/><text x="154.8" y="187.7" font-size="5.8" text-anchor="middle" font-weight="normal" font-style="normal" fill="#111" >mTreg CCR6+</text><text x="155.4" y="194.7" font-size="5.8" text-anchor="middle" font-weight="normal" font-style="normal" fill="#111" >CXCR3-CCR4+</text><path d="M154.5 196.8A16.2 16.2 0 1 1 139.82 219.85L142.14 218.76A13.64 13.64 0 1 0 154.5 199.36Z" fill="#4cba3c"/><path d="M139.82 219.85A16.2 16.2 0 0 1 154.5 196.8L154.5 199.36A13.64 13.64 0 0 0 142.14 218.76Z" fill="#6b3a9e"/><circle cx="154.5" cy="213" r="16" fill="none" stroke="#1a1a1a" stroke-width="0.55"/><circle cx="154.5" cy="213" r="13.64" fill="#fff" stroke="#1a1a1a" stroke-width="0.5"/><circle cx="154.5" cy="213" r="12.83" fill="#fff" stroke="#8e8e8e" stroke-width="0.6"/><path class="pw" d="M154.5 213L154.5 200.82A12.18 12.18 0 1 1 149.35 224.04Z" fill="#2c7fc1"/><path class="pw" d="M154.5 213L149.35 224.04A12.18 12.18 0 0 1 143.95 219.09Z" fill="#5ac8ea"/><path class="pw" d="M154.5 213L143.95 219.09A12.18 12.18 0 0 1 143.46 218.15Z" fill="#c6c6c6"/><path class="pw" d="M154.5 213L143.46 218.15A12.18 12.18 0 0 1 154.5 200.82Z" fill="#e0555a"/><circle cx="154.5" cy="213" r="12.18" fill="none" stroke="#111" stroke-width="0.5"/><circle cx="148.14" cy="220.06" r="1.17" fill="#111"/><text x="197.4" y="187.7" font-size="5.8" text-anchor="middle" font-weight="normal" font-style="normal" fill="#111" >CD8+ CCR6+</text><text x="199.5" y="194.7" font-size="5.8" text-anchor="middle" font-weight="normal" font-style="normal" fill="#111" >CXCR3-CCR4-</text><path d="M196.5 196.8A16.2 16.2 0 1 1 182.33 205.15L184.57 206.39A13.64 13.64 0 1 0 196.5 199.36Z" fill="#4cba3c"/><path d="M182.33 205.15A16.2 16.2 0 0 1 196.5 196.8L196.5 199.36A13.64 13.64 0 0 0 184.57 206.39Z" fill="#6b3a9e"/><circle cx="196.5" cy="213" r="16" fill="none" stroke="#1a1a1a" stroke-width="0.55"/><circle cx="196.5" cy="213" r="13.64" fill="#fff" stroke="#1a1a1a" stroke-width="0.5"/><circle cx="196.5" cy="213" r="12.83" fill="#fff" stroke="#8e8e8e" stroke-width="0.6"/><path class="pw" d="M196.5 213L196.5 200.82A12.18 12.18 0 1 1 184.73 216.15Z" fill="#2c7fc1"/><path class="pw" d="M196.5 213L184.73 216.15A12.18 12.18 0 0 1 185.46 207.85Z" fill="#5ac8ea"/><path class="pw" d="M196.5 213L185.46 207.85A12.18 12.18 0 0 1 185.85 207.09Z" fill="#c6c6c6"/><path class="pw" d="M196.5 213L185.85 207.09A12.18 12.18 0 0 1 196.5 200.82Z" fill="#e0555a"/><circle cx="196.5" cy="213" r="12.18" fill="none" stroke="#111" stroke-width="0.5"/><circle cx="187.03" cy="212.17" r="1.17" fill="#111"/><text x="28.2" y="237.2" font-size="5.8" text-anchor="middle" font-weight="normal" font-style="normal" fill="#111" >mTreg CCR6-</text><text x="28.7" y="244.2" font-size="5.8" text-anchor="middle" font-weight="normal" font-style="normal" fill="#111" >CXCR3+CCR4+</text><path d="M28.5 246.3A16.2 16.2 0 1 1 19.21 275.77L20.68 273.67A13.64 13.64 0 1 0 28.5 248.86Z" fill="#4cba3c"/><path d="M19.21 275.77A16.2 16.2 0 0 1 28.5 246.3L28.5 248.86A13.64 13.64 0 0 0 20.68 273.67Z" fill="#6b3a9e"/><circle cx="28.5" cy="262.5" r="16" fill="none" stroke="#1a1a1a" stroke-width="0.55"/><circle cx="28.5" cy="262.5" r="13.64" fill="#fff" stroke="#1a1a1a" stroke-width="0.5"/><circle cx="28.5" cy="262.5" r="12.83" fill="#fff" stroke="#8e8e8e" stroke-width="0.6"/><path class="pw" d="M28.5 262.5L28.5 250.32A12.18 12.18 0 0 1 30.62 274.5Z" fill="#2c7fc1"/><path class="pw" d="M28.5 262.5L30.62 274.5A12.18 12.18 0 0 1 25.35 274.27Z" fill="#5ac8ea"/><path class="pw" d="M28.5 262.5L25.35 274.27A12.18 12.18 0 0 1 21.51 272.48Z" fill="#66c49c"/><path class="pw" d="M28.5 262.5L21.51 272.48A12.18 12.18 0 0 1 28.5 250.32Z" fill="#e0555a"/><circle cx="28.5" cy="262.5" r="12.18" fill="none" stroke="#111" stroke-width="0.5"/><circle cx="27.67" cy="271.97" r="1.17" fill="#111"/><circle cx="24.48" cy="271.11" r="1.17" fill="#111"/><text x="72.5" y="237.2" font-size="5.8" text-anchor="middle" font-weight="normal" font-style="normal" fill="#111" >CD8+ CCR6+</text><text x="72.5" y="244.2" font-size="5.8" text-anchor="middle" font-weight="normal" font-style="normal" fill="#111" >CCR7+CCR5-</text><path d="M70.5 246.3A16.2 16.2 0 1 1 64.96 277.72L65.83 275.32A13.64 13.64 0 1 0 70.5 248.86Z" fill="#4cba3c"/><path d="M64.96 277.72A16.2 16.2 0 0 1 70.5 246.3L70.5 248.86A13.64 13.64 0 0 0 65.83 275.32Z" fill="#6b3a9e"/><circle cx="70.5" cy="262.5" r="16" fill="none" stroke="#1a1a1a" stroke-width="0.55"/><circle cx="70.5" cy="262.5" r="13.64" fill="#fff" stroke="#1a1a1a" stroke-width="0.5"/><circle cx="70.5" cy="262.5" r="12.83" fill="#fff" stroke="#8e8e8e" stroke-width="0.6"/><path class="pw" d="M70.5 262.5L70.5 250.32A12.18 12.18 0 0 1 70.5 274.68Z" fill="#2c7fc1"/><path class="pw" d="M70.5 262.5L70.5 274.68A12.18 12.18 0 0 1 66.33 273.95Z" fill="#5ac8ea"/><path class="pw" d="M70.5 262.5L66.33 273.95A12.18 12.18 0 0 1 61.89 271.11Z" fill="#f4ea48"/><path class="pw" d="M70.5 262.5L61.89 271.11A12.18 12.18 0 0 1 70.5 250.32Z" fill="#e0555a"/><circle cx="70.5" cy="262.5" r="12.18" fill="none" stroke="#111" stroke-width="0.5"/><circle cx="68.85" cy="271.86" r="1.17" fill="#111"/><circle cx="65.46" cy="270.56" r="1.17" fill="#111"/><circle cx="61.94" cy="274.72" r="1.21" fill="#f3e33a"/><text x="109.5" y="237.2" font-size="5.8" text-anchor="middle" font-weight="normal" font-style="normal" fill="#111" >CD8+</text><text x="110.8" y="244.2" font-size="5.8" text-anchor="middle" font-weight="normal" font-style="normal" fill="#111" >CCR6+</text><path d="M112.5 246.3A16.2 16.2 0 1 1 96.31 261.93L98.87 262.02A13.64 13.64 0 1 0 112.5 248.86Z" fill="#4cba3c"/><path d="M96.31 261.93A16.2 16.2 0 0 1 112.5 246.3L112.5 248.86A13.64 13.64 0 0 0 98.87 262.02Z" fill="#6b3a9e"/><circle cx="112.5" cy="262.5" r="16" fill="none" stroke="#1a1a1a" stroke-width="0.55"/><circle cx="112.5" cy="262.5" r="13.64" fill="#fff" stroke="#1a1a1a" stroke-width="0.5"/><circle cx="112.5" cy="262.5" r="12.83" fill="#fff" stroke="#8e8e8e" stroke-width="0.6"/><path class="pw" d="M112.5 262.5L112.5 250.32A12.18 12.18 0 1 1 101.05 266.67Z" fill="#2c7fc1"/><path class="pw" d="M112.5 262.5L101.05 266.67A12.18 12.18 0 0 1 100.33 262.07Z" fill="#5ac8ea"/><path class="pw" d="M112.5 262.5L100.33 262.07A12.18 12.18 0 0 1 112.5 250.32Z" fill="#e0555a"/><circle cx="112.5" cy="262.5" r="12.18" fill="none" stroke="#111" stroke-width="0.5"/><circle cx="103.09" cy="263.82" r="1.17" fill="#111"/><text x="153.6" y="237.2" font-size="5.8" text-anchor="middle" font-weight="normal" font-style="normal" fill="#111" >IgD+</text><text x="154.2" y="244.2" font-size="5.8" text-anchor="middle" font-weight="normal" font-style="normal" fill="#111" >IgM+</text><path d="M154.5 246.3A16.2 16.2 0 1 1 143.04 273.96L144.85 272.15A13.64 13.64 0 1 0 154.5 248.86Z" fill="#4cba3c"/><path d="M143.04 273.96A16.2 16.2 0 0 1 154.5 246.3L154.5 248.86A13.64 13.64 0 0 0 144.85 272.15Z" fill="#6b3a9e"/><circle cx="154.5" cy="262.5" r="16" fill="none" stroke="#1a1a1a" stroke-width="0.55"/><circle cx="154.5" cy="262.5" r="13.64" fill="#fff" stroke="#1a1a1a" stroke-width="0.5"/><circle cx="154.5" cy="262.5" r="12.83" fill="#fff" stroke="#8e8e8e" stroke-width="0.6"/><path class="pw" d="M154.5 262.5L154.5 250.32A12.18 12.18 0 1 1 148.41 273.05Z" fill="#2c7fc1"/><path class="pw" d="M154.5 262.5L148.41 273.05A12.18 12.18 0 0 1 145.89 271.11Z" fill="#5ac8ea"/><path class="pw" d="M154.5 262.5L145.89 271.11A12.18 12.18 0 0 1 144.52 269.49Z" fill="#f4ea48"/><path class="pw" d="M154.5 262.5L144.52 269.49A12.18 12.18 0 0 1 154.5 250.32Z" fill="#e0555a"/><circle cx="154.5" cy="262.5" r="12.18" fill="none" stroke="#111" stroke-width="0.5"/><circle cx="148.65" cy="269.99" r="1.17" fill="#111"/><text x="196.8" y="237.2" font-size="5.8" text-anchor="middle" font-weight="normal" font-style="normal" fill="#111" >MemTc CCR6+</text><text x="196.8" y="244.2" font-size="5.8" text-anchor="middle" font-weight="normal" font-style="normal" fill="#111" >CCR7-CCR5-</text><path d="M196.5 246.3A16.2 16.2 0 1 1 180.46 264.75L182.99 264.4A13.64 13.64 0 1 0 196.5 248.86Z" fill="#4cba3c"/><path d="M180.46 264.75A16.2 16.2 0 0 1 196.5 246.3L196.5 248.86A13.64 13.64 0 0 0 182.99 264.4Z" fill="#6b3a9e"/><circle cx="196.5" cy="262.5" r="16" fill="none" stroke="#1a1a1a" stroke-width="0.55"/><circle cx="196.5" cy="262.5" r="13.64" fill="#fff" stroke="#1a1a1a" stroke-width="0.5"/><circle cx="196.5" cy="262.5" r="12.83" fill="#fff" stroke="#8e8e8e" stroke-width="0.6"/><path class="pw" d="M196.5 262.5L196.5 250.32A12.18 12.18 0 1 1 188.67 271.83Z" fill="#2c7fc1"/><path class="pw" d="M196.5 262.5L188.67 271.83A12.18 12.18 0 0 1 186.52 269.49Z" fill="#5ac8ea"/><path class="pw" d="M196.5 262.5L186.52 269.49A12.18 12.18 0 0 1 185.95 268.59Z" fill="#66c49c"/><path class="pw" d="M196.5 262.5L185.95 268.59A12.18 12.18 0 0 1 184.44 264.2Z" fill="#c6c6c6"/><path class="pw" d="M196.5 262.5L184.44 264.2A12.18 12.18 0 0 1 196.5 250.32Z" fill="#e0555a"/><circle cx="196.5" cy="262.5" r="12.18" fill="none" stroke="#111" stroke-width="0.5"/><text x="30.3" y="286.7" font-size="5.8" text-anchor="middle" font-weight="normal" font-style="normal" fill="#111" >MemTc CCR6+</text><text x="29.7" y="293.7" font-size="5.8" text-anchor="middle" font-weight="normal" font-style="normal" fill="#111" >CXCR3+CCR4-</text><path d="M28.5 295.8A16.2 16.2 0 1 1 24.31 327.65L24.97 325.18A13.64 13.64 0 1 0 28.5 298.36Z" fill="#4cba3c"/><path d="M24.31 327.65A16.2 16.2 0 0 1 28.5 295.8L28.5 298.36A13.64 13.64 0 0 0 24.97 325.18Z" fill="#6b3a9e"/><circle cx="28.5" cy="312" r="16" fill="none" stroke="#1a1a1a" stroke-width="0.55"/><circle cx="28.5" cy="312" r="13.64" fill="#fff" stroke="#1a1a1a" stroke-width="0.5"/><circle cx="28.5" cy="312" r="12.83" fill="#fff" stroke="#8e8e8e" stroke-width="0.6"/><path class="pw" d="M28.5 312L28.5 299.82A12.18 12.18 0 0 1 32.67 323.45Z" fill="#2c7fc1"/><path class="pw" d="M28.5 312L32.67 323.45A12.18 12.18 0 0 1 28.5 324.18Z" fill="#5ac8ea"/><path class="pw" d="M28.5 312L28.5 324.18A12.18 12.18 0 0 1 25.35 323.77Z" fill="#66c49c"/><path class="pw" d="M28.5 312L25.35 323.77A12.18 12.18 0 0 1 21.51 321.98Z" fill="#f4ea48"/><path class="pw" d="M28.5 312L21.51 321.98A12.18 12.18 0 0 1 28.5 299.82Z" fill="#e0555a"/><circle cx="28.5" cy="312" r="12.18" fill="none" stroke="#111" stroke-width="0.5"/><circle cx="30.15" cy="321.36" r="1.17" fill="#111"/><circle cx="27.18" cy="321.41" r="1.17" fill="#111"/><circle cx="21.5" cy="325.17" r="1.21" fill="#f3e33a"/><text x="249" y="39.2" font-size="5.8" text-anchor="middle" font-weight="normal" font-style="normal" fill="#111" >CD4+</text><text x="251.2" y="46.2" font-size="5.8" text-anchor="middle" font-weight="normal" font-style="normal" fill="#111" >CD25high Treg</text><path d="M253.5 48.3A16.2 16.2 0 1 1 238.82 71.35L241.14 70.26A13.64 13.64 0 1 0 253.5 50.86Z" fill="#4cba3c"/><path d="M238.82 71.35A16.2 16.2 0 0 1 253.5 48.3L253.5 50.86A13.64 13.64 0 0 0 241.14 70.26Z" fill="#6b3a9e"/><circle cx="253.5" cy="64.5" r="16" fill="none" stroke="#1a1a1a" stroke-width="0.55"/><circle cx="253.5" cy="64.5" r="13.64" fill="#fff" stroke="#1a1a1a" stroke-width="0.5"/><circle cx="253.5" cy="64.5" r="12.83" fill="#fff" stroke="#8e8e8e" stroke-width="0.6"/><path class="pw" d="M253.5 64.5L253.5 52.32A12.18 12.18 0 1 1 242.95 70.59Z" fill="#2c7fc1"/><path class="pw" d="M253.5 64.5L242.95 70.59A12.18 12.18 0 0 1 242.46 69.65Z" fill="#5ac8ea"/><path class="pw" d="M253.5 64.5L242.46 69.65A12.18 12.18 0 0 1 241.33 64.93Z" fill="#f4ea48"/><path class="pw" d="M253.5 64.5L241.33 64.93A12.18 12.18 0 0 1 253.5 52.32Z" fill="#e0555a"/><circle cx="253.5" cy="64.5" r="12.18" fill="none" stroke="#111" stroke-width="0.5"/><circle cx="244.28" cy="66.8" r="1.17" fill="#111"/><circle cx="239.98" cy="70.81" r="1.21" fill="#f3e33a"/><text x="295" y="39.2" font-size="5.8" text-anchor="middle" font-weight="normal" font-style="normal" fill="#111" >mTreg CCR6+</text><text x="295.5" y="46.2" font-size="5.8" text-anchor="middle" font-weight="normal" font-style="normal" fill="#111" >CXCR3-CCR4-</text><path d="M295.5 48.3A16.2 16.2 0 1 1 291.31 80.15L291.97 77.68A13.64 13.64 0 1 0 295.5 50.86Z" fill="#4cba3c"/><path d="M291.31 80.15A16.2 16.2 0 0 1 295.5 48.3L295.5 50.86A13.64 13.64 0 0 0 291.97 77.68Z" fill="#6b3a9e"/><circle cx="295.5" cy="64.5" r="16" fill="none" stroke="#1a1a1a" stroke-width="0.55"/><circle cx="295.5" cy="64.5" r="13.64" fill="#fff" stroke="#1a1a1a" stroke-width="0.5"/><circle cx="295.5" cy="64.5" r="12.83" fill="#fff" stroke="#8e8e8e" stroke-width="0.6"/><path class="pw" d="M295.5 64.5L295.5 52.32A12.18 12.18 0 0 1 298.65 76.27Z" fill="#2c7fc1"/><path class="pw" d="M295.5 64.5L298.65 76.27A12.18 12.18 0 0 1 292.35 76.27Z" fill="#5ac8ea"/><path class="pw" d="M295.5 64.5L292.35 76.27A12.18 12.18 0 0 1 287.67 73.83Z" fill="#f4ea48"/><path class="pw" d="M295.5 64.5L287.67 73.83A12.18 12.18 0 0 1 295.5 52.32Z" fill="#e0555a"/><circle cx="295.5" cy="64.5" r="12.18" fill="none" stroke="#111" stroke-width="0.5"/><circle cx="295.5" cy="74" r="1.17" fill="#111"/><circle cx="291.04" cy="72.89" r="1.17" fill="#111"/><circle cx="288.04" cy="77.42" r="1.21" fill="#f3e33a"/><text x="337.1" y="39.2" font-size="5.8" text-anchor="middle" font-weight="normal" font-style="normal" fill="#111" >CD8+ CCR6+</text><text x="338.2" y="46.2" font-size="5.8" text-anchor="middle" font-weight="normal" font-style="normal" fill="#111" >CXCR3+CCR4-</text><path d="M337.5 48.3A16.2 16.2 0 1 1 334.69 80.45L335.13 77.93A13.64 13.64 0 1 0 337.5 50.86Z" fill="#4cba3c"/><path d="M334.69 80.45A16.2 16.2 0 0 1 337.5 48.3L337.5 50.86A13.64 13.64 0 0 0 335.13 77.93Z" fill="#6b3a9e"/><circle cx="337.5" cy="64.5" r="16" fill="none" stroke="#1a1a1a" stroke-width="0.55"/><circle cx="337.5" cy="64.5" r="13.64" fill="#fff" stroke="#1a1a1a" stroke-width="0.5"/><circle cx="337.5" cy="64.5" r="12.83" fill="#fff" stroke="#8e8e8e" stroke-width="0.6"/><path class="pw" d="M337.5 64.5L337.5 52.32A12.18 12.18 0 0 1 341.67 75.95Z" fill="#2c7fc1"/><path class="pw" d="M337.5 64.5L341.67 75.95A12.18 12.18 0 0 1 335.38 76.5Z" fill="#5ac8ea"/><path class="pw" d="M337.5 64.5L335.38 76.5A12.18 12.18 0 0 1 329.67 73.83Z" fill="#f4ea48"/><path class="pw" d="M337.5 64.5L329.67 73.83A12.18 12.18 0 0 1 337.5 52.32Z" fill="#e0555a"/><circle cx="337.5" cy="64.5" r="12.18" fill="none" stroke="#111" stroke-width="0.5"/><circle cx="338.33" cy="73.97" r="1.17" fill="#111"/><circle cx="333.48" cy="73.11" r="1.17" fill="#111"/><circle cx="330.04" cy="77.42" r="1.21" fill="#f3e33a"/><text x="382.5" y="39.2" font-size="5.8" text-anchor="middle" font-weight="normal" font-style="normal" fill="#111" >mTreg CCR6+</text><text x="382.6" y="46.2" font-size="5.8" text-anchor="middle" font-weight="normal" font-style="normal" fill="#111" >CXCR3+CCR4-</text><path d="M379.5 48.3A16.2 16.2 0 0 1 383.69 80.15L383.03 77.68A13.64 13.64 0 0 0 379.5 50.86Z" fill="#4cba3c"/><path d="M383.69 80.15A16.2 16.2 0 1 1 379.5 48.3L379.5 50.86A13.64 13.64 0 1 0 383.03 77.68Z" fill="#6b3a9e"/><circle cx="379.5" cy="64.5" r="16" fill="none" stroke="#1a1a1a" stroke-width="0.55"/><circle cx="379.5" cy="64.5" r="13.64" fill="#fff" stroke="#1a1a1a" stroke-width="0.5"/><circle cx="379.5" cy="64.5" r="12.83" fill="#fff" stroke="#8e8e8e" stroke-width="0.6"/><path class="pw" d="M379.5 64.5L379.5 52.32A12.18 12.18 0 0 1 390.05 70.59Z" fill="#2c7fc1"/><path class="pw" d="M379.5 64.5L390.05 70.59A12.18 12.18 0 0 1 382.65 76.27Z" fill="#5ac8ea"/><path class="pw" d="M379.5 64.5L382.65 76.27A12.18 12.18 0 0 1 376.35 76.27Z" fill="#f4ea48"/><path class="pw" d="M379.5 64.5L376.35 76.27A12.18 12.18 0 0 1 379.5 52.32Z" fill="#e0555a"/><circle cx="379.5" cy="64.5" r="12.18" fill="none" stroke="#111" stroke-width="0.5"/><circle cx="384.95" cy="72.28" r="1.17" fill="#111"/><circle cx="379.17" cy="74" r="1.17" fill="#111"/><circle cx="376.91" cy="79.19" r="1.21" fill="#f3e33a"/><text x="433.5" y="39.2" font-size="5.8" text-anchor="middle" font-weight="normal" font-style="normal" fill="#111" >CD8+ CCR6+</text><text x="427.4" y="46.2" font-size="5.8" text-anchor="middle" font-weight="normal" font-style="normal" fill="#111" >CCR7+CCR5-</text><path d="M421.5 48.3A16.2 16.2 0 1 1 413.4 78.53L414.68 76.31A13.64 13.64 0 1 0 421.5 50.86Z" fill="#4cba3c"/><path d="M413.4 78.53A16.2 16.2 0 0 1 421.5 48.3L421.5 50.86A13.64 13.64 0 0 0 414.68 76.31Z" fill="#6b3a9e"/><circle cx="421.5" cy="64.5" r="16" fill="none" stroke="#1a1a1a" stroke-width="0.55"/><circle cx="421.5" cy="64.5" r="13.64" fill="#fff" stroke="#1a1a1a" stroke-width="0.5"/><circle cx="421.5" cy="64.5" r="12.83" fill="#fff" stroke="#8e8e8e" stroke-width="0.6"/><path class="pw" d="M421.5 64.5L421.5 52.32A12.18 12.18 0 0 1 421.5 76.68Z" fill="#2c7fc1"/><path class="pw" d="M421.5 64.5L421.5 76.68A12.18 12.18 0 0 1 415.41 75.05Z" fill="#5ac8ea"/><path class="pw" d="M421.5 64.5L415.41 75.05A12.18 12.18 0 0 1 410.95 70.59Z" fill="#f4ea48"/><path class="pw" d="M421.5 64.5L410.95 70.59A12.18 12.18 0 0 1 421.5 52.32Z" fill="#e0555a"/><circle cx="421.5" cy="64.5" r="12.18" fill="none" stroke="#111" stroke-width="0.5"/><circle cx="419.04" cy="73.68" r="1.17" fill="#111"/><circle cx="414.78" cy="71.22" r="1.17" fill="#111"/><circle cx="412.94" cy="76.72" r="1.21" fill="#f3e33a"/><text x="254" y="88.7" font-size="5.8" text-anchor="middle" font-weight="normal" font-style="normal" fill="#111" >CD8+ CCR6-</text><text x="257.3" y="95.7" font-size="5.8" text-anchor="middle" font-weight="normal" font-style="normal" fill="#111" >CXCR3+CCR4-</text><path d="M253.5 97.8A16.2 16.2 0 0 1 257.69 129.65L257.03 127.18A13.64 13.64 0 0 0 253.5 100.36Z" fill="#4cba3c"/><path d="M257.69 129.65A16.2 16.2 0 1 1 253.5 97.8L253.5 100.36A13.64 13.64 0 1 0 257.03 127.18Z" fill="#6b3a9e"/><circle cx="253.5" cy="114" r="16" fill="none" stroke="#1a1a1a" stroke-width="0.55"/><circle cx="253.5" cy="114" r="13.64" fill="#fff" stroke="#1a1a1a" stroke-width="0.5"/><circle cx="253.5" cy="114" r="12.83" fill="#fff" stroke="#8e8e8e" stroke-width="0.6"/><path class="pw" d="M253.5 114L253.5 101.82A12.18 12.18 0 0 1 264.54 119.15Z" fill="#2c7fc1"/><path class="pw" d="M253.5 114L264.54 119.15A12.18 12.18 0 0 1 256.65 125.77Z" fill="#5ac8ea"/><path class="pw" d="M253.5 114L256.65 125.77A12.18 12.18 0 0 1 251.38 126Z" fill="#f4ea48"/><path class="pw" d="M253.5 114L251.38 126A12.18 12.18 0 0 1 253.5 101.82Z" fill="#e0555a"/><circle cx="253.5" cy="114" r="12.18" fill="none" stroke="#111" stroke-width="0.5"/><circle cx="260.22" cy="120.72" r="1.17" fill="#111"/><circle cx="253.5" cy="123.5" r="1.17" fill="#111"/><circle cx="253.5" cy="128.92" r="1.21" fill="#f3e33a"/><text x="294.9" y="88.7" font-size="5.8" text-anchor="middle" font-weight="normal" font-style="normal" fill="#111" >B cells</text><text x="295.5" y="95.7" font-size="5.8" text-anchor="middle" font-weight="normal" font-style="normal" fill="#111" >CD19+</text><path d="M295.5 97.8A16.2 16.2 0 1 1 281.47 122.1L283.69 120.82A13.64 13.64 0 1 0 295.5 100.36Z" fill="#4cba3c"/><path d="M281.47 122.1A16.2 16.2 0 0 1 295.5 97.8L295.5 100.36A13.64 13.64 0 0 0 283.69 120.82Z" fill="#6b3a9e"/><circle cx="295.5" cy="114" r="16" fill="none" stroke="#1a1a1a" stroke-width="0.55"/><circle cx="295.5" cy="114" r="13.64" fill="#fff" stroke="#1a1a1a" stroke-width="0.5"/><circle cx="295.5" cy="114" r="12.83" fill="#fff" stroke="#8e8e8e" stroke-width="0.6"/><path class="pw" d="M295.5 114L295.5 101.82A12.18 12.18 0 1 1 285.52 120.99Z" fill="#2c7fc1"/><path class="pw" d="M295.5 114L285.52 120.99A12.18 12.18 0 0 1 284.95 120.09Z" fill="#5ac8ea"/><path class="pw" d="M295.5 114L284.95 120.09A12.18 12.18 0 0 1 284.05 118.17Z" fill="#f4ea48"/><path class="pw" d="M295.5 114L284.05 118.17A12.18 12.18 0 0 1 295.5 101.82Z" fill="#e0555a"/><circle cx="295.5" cy="114" r="12.18" fill="none" stroke="#111" stroke-width="0.5"/><circle cx="282.33" cy="121" r="1.21" fill="#f3e33a"/><text x="336.5" y="88.7" font-size="5.8" text-anchor="middle" font-weight="normal" font-style="normal" fill="#111" >CD8+ CCR6-</text><text x="336" y="95.7" font-size="5.8" text-anchor="middle" font-weight="normal" font-style="normal" fill="#111" >CXCR3-CCR4+</text><path d="M337.5 97.8A16.2 16.2 0 1 1 336.09 130.14L336.31 127.59A13.64 13.64 0 1 0 337.5 100.36Z" fill="#4cba3c"/><path d="M336.09 130.14A16.2 16.2 0 0 1 337.5 97.8L337.5 100.36A13.64 13.64 0 0 0 336.31 127.59Z" fill="#6b3a9e"/><circle cx="337.5" cy="114" r="16" fill="none" stroke="#1a1a1a" stroke-width="0.55"/><circle cx="337.5" cy="114" r="13.64" fill="#fff" stroke="#1a1a1a" stroke-width="0.5"/><circle cx="337.5" cy="114" r="12.83" fill="#fff" stroke="#8e8e8e" stroke-width="0.6"/><path class="pw" d="M337.5 114L337.5 101.82A12.18 12.18 0 0 1 337.5 126.18Z" fill="#2c7fc1"/><path class="pw" d="M337.5 114L337.5 126.18A12.18 12.18 0 0 1 336.44 126.14Z" fill="#5ac8ea"/><path class="pw" d="M337.5 114L336.44 126.14A12.18 12.18 0 0 1 332.35 125.04Z" fill="#f4ea48"/><path class="pw" d="M337.5 114L332.35 125.04A12.18 12.18 0 0 1 337.5 101.82Z" fill="#e0555a"/><circle cx="337.5" cy="114" r="12.18" fill="none" stroke="#111" stroke-width="0.5"/><circle cx="335.04" cy="123.18" r="1.17" fill="#111"/><circle cx="331.19" cy="127.52" r="1.21" fill="#f3e33a"/><text x="380.9" y="88.7" font-size="5.8" text-anchor="middle" font-weight="normal" font-style="normal" fill="#111" >MemTc CCR6-</text><text x="379.8" y="95.7" font-size="5.8" text-anchor="middle" font-weight="normal" font-style="normal" fill="#111" >CCR7+CCR5-</text><path d="M379.5 97.8A16.2 16.2 0 1 1 370.21 127.27L371.68 125.17A13.64 13.64 0 1 0 379.5 100.36Z" fill="#4cba3c"/><path d="M370.21 127.27A16.2 16.2 0 0 1 379.5 97.8L379.5 100.36A13.64 13.64 0 0 0 371.68 125.17Z" fill="#6b3a9e"/><circle cx="379.5" cy="114" r="16" fill="none" stroke="#1a1a1a" stroke-width="0.55"/><circle cx="379.5" cy="114" r="13.64" fill="#fff" stroke="#1a1a1a" stroke-width="0.5"/><circle cx="379.5" cy="114" r="12.83" fill="#fff" stroke="#8e8e8e" stroke-width="0.6"/><path class="pw" d="M379.5 114L379.5 101.82A12.18 12.18 0 1 1 373.41 124.55Z" fill="#2c7fc1"/><path class="pw" d="M379.5 114L373.41 124.55A12.18 12.18 0 0 1 372.51 123.98Z" fill="#5ac8ea"/><path class="pw" d="M379.5 114L372.51 123.98A12.18 12.18 0 0 1 369.52 120.99Z" fill="#f4ea48"/><path class="pw" d="M379.5 114L369.52 120.99A12.18 12.18 0 0 1 379.5 101.82Z" fill="#e0555a"/><circle cx="379.5" cy="114" r="12.18" fill="none" stroke="#111" stroke-width="0.5"/><circle cx="372.78" cy="120.72" r="1.17" fill="#111"/><circle cx="367.28" cy="122.56" r="1.21" fill="#f3e33a"/><text x="429" y="88.7" font-size="5.8" text-anchor="middle" font-weight="normal" font-style="normal" fill="#111" >MemTc CCR6-</text><text x="426.3" y="95.7" font-size="5.8" text-anchor="middle" font-weight="normal" font-style="normal" fill="#111" >CXCR3+CCR4-</text><path d="M421.5 97.8A16.2 16.2 0 0 1 431.91 126.41L430.27 124.45A13.64 13.64 0 0 0 421.5 100.36Z" fill="#4cba3c"/><path d="M431.91 126.41A16.2 16.2 0 1 1 421.5 97.8L421.5 100.36A13.64 13.64 0 1 0 430.27 124.45Z" fill="#6b3a9e"/><circle cx="421.5" cy="114" r="16" fill="none" stroke="#1a1a1a" stroke-width="0.55"/><circle cx="421.5" cy="114" r="13.64" fill="#fff" stroke="#1a1a1a" stroke-width="0.5"/><circle cx="421.5" cy="114" r="12.83" fill="#fff" stroke="#8e8e8e" stroke-width="0.6"/><path class="pw" d="M421.5 114L421.5 101.82A12.18 12.18 0 0 1 432.05 120.09Z" fill="#2c7fc1"/><path class="pw" d="M421.5 114L432.05 120.09A12.18 12.18 0 0 1 431.48 120.99Z" fill="#5ac8ea"/><path class="pw" d="M421.5 114L431.48 120.99A12.18 12.18 0 0 1 429.33 123.33Z" fill="#66c49c"/><path class="pw" d="M421.5 114L429.33 123.33A12.18 12.18 0 0 1 426.65 125.04Z" fill="#f4ea48"/><path class="pw" d="M421.5 114L426.65 125.04A12.18 12.18 0 1 1 421.5 101.82Z" fill="#e0555a"/><circle cx="421.5" cy="114" r="12.18" fill="none" stroke="#111" stroke-width="0.5"/><circle cx="428.96" cy="126.92" r="1.21" fill="#f3e33a"/><text x="249.9" y="138.2" font-size="5.8" text-anchor="middle" font-weight="normal" font-style="normal" fill="#111" >CD19+ CD20-</text><text x="249.9" y="145.2" font-size="5.8" text-anchor="middle" font-weight="normal" font-style="normal" fill="#111" >plasma blasts</text><path d="M253.5 147.3A16.2 16.2 0 0 1 263.91 175.91L262.27 173.95A13.64 13.64 0 0 0 253.5 149.86Z" fill="#4cba3c"/><path d="M263.91 175.91A16.2 16.2 0 1 1 253.5 147.3L253.5 149.86A13.64 13.64 0 1 0 262.27 173.95Z" fill="#6b3a9e"/><circle cx="253.5" cy="163.5" r="16" fill="none" stroke="#1a1a1a" stroke-width="0.55"/><circle cx="253.5" cy="163.5" r="13.64" fill="#fff" stroke="#1a1a1a" stroke-width="0.5"/><circle cx="253.5" cy="163.5" r="12.83" fill="#fff" stroke="#8e8e8e" stroke-width="0.6"/><path class="pw" d="M253.5 163.5L253.5 151.32A12.18 12.18 0 0 1 263.83 169.96Z" fill="#2c7fc1"/><path class="pw" d="M253.5 163.5L263.83 169.96A12.18 12.18 0 0 1 262.55 171.65Z" fill="#5ac8ea"/><path class="pw" d="M253.5 163.5L262.55 171.65A12.18 12.18 0 0 1 261.33 172.83Z" fill="#c6c6c6"/><path class="pw" d="M253.5 163.5L261.33 172.83A12.18 12.18 0 0 1 259.59 174.05Z" fill="#f4ea48"/><path class="pw" d="M253.5 163.5L259.59 174.05A12.18 12.18 0 1 1 253.5 151.32Z" fill="#e0555a"/><circle cx="253.5" cy="163.5" r="12.18" fill="none" stroke="#111" stroke-width="0.5"/><circle cx="260.96" cy="176.42" r="1.21" fill="#f3e33a"/><text x="294.6" y="138.2" font-size="5.8" text-anchor="middle" font-weight="normal" font-style="normal" fill="#111" >MemTc CCR6+</text><text x="295.2" y="145.2" font-size="5.8" text-anchor="middle" font-weight="normal" font-style="normal" fill="#111" >CXCR3-CCR4-</text><path d="M295.5 147.3A16.2 16.2 0 1 1 279.36 164.91L281.91 164.69A13.64 13.64 0 1 0 295.5 149.86Z" fill="#4cba3c"/><path d="M279.36 164.91A16.2 16.2 0 0 1 295.5 147.3L295.5 149.86A13.64 13.64 0 0 0 281.91 164.69Z" fill="#6b3a9e"/><circle cx="295.5" cy="163.5" r="16" fill="none" stroke="#1a1a1a" stroke-width="0.55"/><circle cx="295.5" cy="163.5" r="13.64" fill="#fff" stroke="#1a1a1a" stroke-width="0.5"/><circle cx="295.5" cy="163.5" r="12.83" fill="#fff" stroke="#8e8e8e" stroke-width="0.6"/><path class="pw" d="M295.5 163.5L295.5 151.32A12.18 12.18 0 1 1 284.95 169.59Z" fill="#2c7fc1"/><path class="pw" d="M295.5 163.5L284.95 169.59A12.18 12.18 0 0 1 283.73 166.65Z" fill="#5ac8ea"/><path class="pw" d="M295.5 163.5L283.73 166.65A12.18 12.18 0 0 1 283.36 164.56Z" fill="#c6c6c6"/><path class="pw" d="M295.5 163.5L283.36 164.56A12.18 12.18 0 0 1 283.36 162.44Z" fill="#f4ea48"/><path class="pw" d="M295.5 163.5L283.36 162.44A12.18 12.18 0 0 1 295.5 151.32Z" fill="#e0555a"/><circle cx="295.5" cy="163.5" r="12.18" fill="none" stroke="#111" stroke-width="0.5"/><circle cx="280.64" cy="164.8" r="1.21" fill="#f3e33a"/><text x="339.9" y="138.2" font-size="5.8" text-anchor="middle" font-weight="normal" font-style="normal" fill="#111" >mTreg CCR6-</text><text x="339.3" y="145.2" font-size="5.8" text-anchor="middle" font-weight="normal" font-style="normal" fill="#111" >CXCR3+CCR4-</text><path d="M337.5 147.3A16.2 16.2 0 1 1 336.09 179.64L336.31 177.09A13.64 13.64 0 1 0 337.5 149.86Z" fill="#4cba3c"/><path d="M336.09 179.64A16.2 16.2 0 0 1 337.5 147.3L337.5 149.86A13.64 13.64 0 0 0 336.31 177.09Z" fill="#6b3a9e"/><circle cx="337.5" cy="163.5" r="16" fill="none" stroke="#1a1a1a" stroke-width="0.55"/><circle cx="337.5" cy="163.5" r="13.64" fill="#fff" stroke="#1a1a1a" stroke-width="0.5"/><circle cx="337.5" cy="163.5" r="12.83" fill="#fff" stroke="#8e8e8e" stroke-width="0.6"/><path class="pw" d="M337.5 163.5L337.5 151.32A12.18 12.18 0 0 1 340.65 175.27Z" fill="#2c7fc1"/><path class="pw" d="M337.5 163.5L340.65 175.27A12.18 12.18 0 0 1 338.56 175.64Z" fill="#5ac8ea"/><path class="pw" d="M337.5 163.5L338.56 175.64A12.18 12.18 0 0 1 336.44 175.64Z" fill="#66c49c"/><path class="pw" d="M337.5 163.5L336.44 175.64A12.18 12.18 0 0 1 331.41 174.05Z" fill="#f4ea48"/><path class="pw" d="M337.5 163.5L331.41 174.05A12.18 12.18 0 0 1 337.5 151.32Z" fill="#e0555a"/><circle cx="337.5" cy="163.5" r="12.18" fill="none" stroke="#111" stroke-width="0.5"/><circle cx="334.56" cy="172.54" r="1.17" fill="#111"/><circle cx="330.04" cy="176.42" r="1.21" fill="#f3e33a"/><text x="383.7" y="138.2" font-size="5.8" text-anchor="middle" font-weight="normal" font-style="normal" fill="#111" >MemTc CCR6+</text><text x="382.6" y="145.2" font-size="5.8" text-anchor="middle" font-weight="normal" font-style="normal" fill="#111" >CCR7+CCR5+</text><path d="M379.5 147.3A16.2 16.2 0 1 1 368.66 175.54L370.37 173.64A13.64 13.64 0 1 0 379.5 149.86Z" fill="#4cba3c"/><path d="M368.66 175.54A16.2 16.2 0 0 1 379.5 147.3L379.5 149.86A13.64 13.64 0 0 0 370.37 173.64Z" fill="#6b3a9e"/><circle cx="379.5" cy="163.5" r="16" fill="none" stroke="#1a1a1a" stroke-width="0.55"/><circle cx="379.5" cy="163.5" r="13.64" fill="#fff" stroke="#1a1a1a" stroke-width="0.5"/><circle cx="379.5" cy="163.5" r="12.83" fill="#fff" stroke="#8e8e8e" stroke-width="0.6"/><path class="pw" d="M379.5 163.5L379.5 151.32A12.18 12.18 0 1 1 371.35 172.55Z" fill="#2c7fc1"/><path class="pw" d="M379.5 163.5L371.35 172.55A12.18 12.18 0 0 1 368.95 169.59Z" fill="#f4ea48"/><path class="pw" d="M379.5 163.5L368.95 169.59A12.18 12.18 0 0 1 379.5 151.32Z" fill="#e0555a"/><circle cx="379.5" cy="163.5" r="12.18" fill="none" stroke="#111" stroke-width="0.5"/><circle cx="372.01" cy="169.35" r="1.17" fill="#111"/><circle cx="367.28" cy="172.06" r="1.21" fill="#f3e33a"/><text x="429" y="138.2" font-size="5.8" text-anchor="middle" font-weight="normal" font-style="normal" fill="#111" >IgD- IgM+</text><text x="427.9" y="145.2" font-size="5.8" text-anchor="middle" font-weight="normal" font-style="normal" fill="#111" >CD27-</text><path d="M421.5 147.3A16.2 16.2 0 1 1 405.85 167.69L408.32 167.03A13.64 13.64 0 1 0 421.5 149.86Z" fill="#4cba3c"/><path d="M405.85 167.69A16.2 16.2 0 0 1 421.5 147.3L421.5 149.86A13.64 13.64 0 0 0 408.32 167.03Z" fill="#6b3a9e"/><circle cx="421.5" cy="163.5" r="16" fill="none" stroke="#1a1a1a" stroke-width="0.55"/><circle cx="421.5" cy="163.5" r="13.64" fill="#fff" stroke="#1a1a1a" stroke-width="0.5"/><circle cx="421.5" cy="163.5" r="12.83" fill="#fff" stroke="#8e8e8e" stroke-width="0.6"/><path class="pw" d="M421.5 163.5L421.5 151.32A12.18 12.18 0 1 1 414.51 173.48Z" fill="#2c7fc1"/><path class="pw" d="M421.5 163.5L414.51 173.48A12.18 12.18 0 0 1 409.73 166.65Z" fill="#5ac8ea"/><path class="pw" d="M421.5 163.5L409.73 166.65A12.18 12.18 0 0 1 409.33 163.07Z" fill="#f4ea48"/><path class="pw" d="M421.5 163.5L409.33 163.07A12.18 12.18 0 0 1 421.5 151.32Z" fill="#e0555a"/><circle cx="421.5" cy="163.5" r="12.18" fill="none" stroke="#111" stroke-width="0.5"/><circle cx="413.72" cy="168.95" r="1.17" fill="#111"/><circle cx="412.03" cy="164.33" r="1.17" fill="#111"/><circle cx="406.64" cy="164.8" r="1.21" fill="#f3e33a"/><text x="250.1" y="187.7" font-size="5.8" text-anchor="middle" font-weight="normal" font-style="normal" fill="#111" >MemTc CCR6+</text><text x="251.8" y="194.7" font-size="5.8" text-anchor="middle" font-weight="normal" font-style="normal" fill="#111" >CXCR3+CCR4-</text><path d="M253.5 196.8A16.2 16.2 0 1 1 252.09 229.14L252.31 226.59A13.64 13.64 0 1 0 253.5 199.36Z" fill="#4cba3c"/><path d="M252.09 229.14A16.2 16.2 0 0 1 253.5 196.8L253.5 199.36A13.64 13.64 0 0 0 252.31 226.59Z" fill="#6b3a9e"/><circle cx="253.5" cy="213" r="16" fill="none" stroke="#1a1a1a" stroke-width="0.55"/><circle cx="253.5" cy="213" r="13.64" fill="#fff" stroke="#1a1a1a" stroke-width="0.5"/><circle cx="253.5" cy="213" r="12.83" fill="#fff" stroke="#8e8e8e" stroke-width="0.6"/><path class="pw" d="M253.5 213L253.5 200.82A12.18 12.18 0 0 1 257.67 224.45Z" fill="#2c7fc1"/><path class="pw" d="M253.5 213L257.67 224.45A12.18 12.18 0 0 1 255.62 225Z" fill="#5ac8ea"/><path class="pw" d="M253.5 213L255.62 225A12.18 12.18 0 0 1 252.44 225.14Z" fill="#66c49c"/><path class="pw" d="M253.5 213L252.44 225.14A12.18 12.18 0 0 1 247.41 223.55Z" fill="#f4ea48"/><path class="pw" d="M253.5 213L247.41 223.55A12.18 12.18 0 0 1 253.5 200.82Z" fill="#e0555a"/><circle cx="253.5" cy="213" r="12.18" fill="none" stroke="#111" stroke-width="0.5"/><circle cx="250.56" cy="222.04" r="1.17" fill="#111"/><circle cx="245.59" cy="225.65" r="1.21" fill="#f3e33a"/><text x="293.8" y="187.7" font-size="5.8" text-anchor="middle" font-weight="normal" font-style="normal" fill="#111" >MemTc CCR6-</text><text x="296" y="194.7" font-size="5.8" text-anchor="middle" font-weight="normal" font-style="normal" fill="#111" >CXCR3-CCR4-</text><path d="M295.5 196.8A16.2 16.2 0 1 1 280.82 219.85L283.14 218.76A13.64 13.64 0 1 0 295.5 199.36Z" fill="#4cba3c"/><path d="M280.82 219.85A16.2 16.2 0 0 1 295.5 196.8L295.5 199.36A13.64 13.64 0 0 0 283.14 218.76Z" fill="#6b3a9e"/><circle cx="295.5" cy="213" r="16" fill="none" stroke="#1a1a1a" stroke-width="0.55"/><circle cx="295.5" cy="213" r="13.64" fill="#fff" stroke="#1a1a1a" stroke-width="0.5"/><circle cx="295.5" cy="213" r="12.83" fill="#fff" stroke="#8e8e8e" stroke-width="0.6"/><path class="pw" d="M295.5 213L295.5 200.82A12.18 12.18 0 1 1 284.46 218.15Z" fill="#2c7fc1"/><path class="pw" d="M295.5 213L284.46 218.15A12.18 12.18 0 0 1 283.36 214.06Z" fill="#f4ea48"/><path class="pw" d="M295.5 213L283.36 214.06A12.18 12.18 0 0 1 295.5 200.82Z" fill="#e0555a"/><circle cx="295.5" cy="213" r="12.18" fill="none" stroke="#111" stroke-width="0.5"/><circle cx="286.32" cy="215.46" r="1.17" fill="#111"/><circle cx="280.91" cy="216.1" r="1.21" fill="#f3e33a"/><text x="333.9" y="187.7" font-size="5.8" text-anchor="middle" font-weight="normal" font-style="normal" fill="#111" >mTreg CCR6+</text><text x="335.2" y="194.7" font-size="5.8" text-anchor="middle" font-weight="normal" font-style="normal" fill="#111" >CCR7+CCR5-</text><path d="M337.5 196.8A16.2 16.2 0 1 1 321.36 214.41L323.91 214.19A13.64 13.64 0 1 0 337.5 199.36Z" fill="#4cba3c"/><path d="M321.36 214.41A16.2 16.2 0 0 1 337.5 196.8L337.5 199.36A13.64 13.64 0 0 0 323.91 214.19Z" fill="#6b3a9e"/><circle cx="337.5" cy="213" r="16" fill="none" stroke="#1a1a1a" stroke-width="0.55"/><circle cx="337.5" cy="213" r="13.64" fill="#fff" stroke="#1a1a1a" stroke-width="0.5"/><circle cx="337.5" cy="213" r="12.83" fill="#fff" stroke="#8e8e8e" stroke-width="0.6"/><path class="pw" d="M337.5 213L337.5 200.82A12.18 12.18 0 1 1 334.35 224.77Z" fill="#2c7fc1"/><path class="pw" d="M337.5 213L334.35 224.77A12.18 12.18 0 0 1 325.36 214.06Z" fill="#5ac8ea"/><path class="pw" d="M337.5 213L325.36 214.06A12.18 12.18 0 0 1 325.5 210.88Z" fill="#f4ea48"/><path class="pw" d="M337.5 213L325.5 210.88A12.18 12.18 0 0 1 337.5 200.82Z" fill="#e0555a"/><circle cx="337.5" cy="213" r="12.18" fill="none" stroke="#111" stroke-width="0.5"/><circle cx="330.78" cy="219.72" r="1.17" fill="#111"/><circle cx="328" cy="212.67" r="1.17" fill="#111"/><circle cx="322.64" cy="211.7" r="1.21" fill="#f3e33a"/><text x="383.7" y="187.7" font-size="5.8" text-anchor="middle" font-weight="normal" font-style="normal" fill="#111" >CD4+ CD25+</text><text x="385.3" y="194.7" font-size="5.8" text-anchor="middle" font-weight="normal" font-style="normal" fill="#111" >CD127low Treg</text><path d="M379.5 196.8A16.2 16.2 0 1 1 365.47 221.1L367.69 219.82A13.64 13.64 0 1 0 379.5 199.36Z" fill="#4cba3c"/><path d="M365.47 221.1A16.2 16.2 0 0 1 379.5 196.8L379.5 199.36A13.64 13.64 0 0 0 367.69 219.82Z" fill="#6b3a9e"/><circle cx="379.5" cy="213" r="16" fill="none" stroke="#1a1a1a" stroke-width="0.55"/><circle cx="379.5" cy="213" r="13.64" fill="#fff" stroke="#1a1a1a" stroke-width="0.5"/><circle cx="379.5" cy="213" r="12.83" fill="#fff" stroke="#8e8e8e" stroke-width="0.6"/><path class="pw" d="M379.5 213L379.5 200.82A12.18 12.18 0 1 1 369.52 219.99Z" fill="#2c7fc1"/><path class="pw" d="M379.5 213L369.52 219.99A12.18 12.18 0 0 1 368.95 219.09Z" fill="#5ac8ea"/><path class="pw" d="M379.5 213L368.95 219.09A12.18 12.18 0 0 1 367.91 216.76Z" fill="#f4ea48"/><path class="pw" d="M379.5 213L367.91 216.76A12.18 12.18 0 0 1 379.5 200.82Z" fill="#e0555a"/><circle cx="379.5" cy="213" r="12.18" fill="none" stroke="#111" stroke-width="0.5"/><circle cx="370.82" cy="216.86" r="1.17" fill="#111"/><circle cx="365.98" cy="219.31" r="1.21" fill="#f3e33a"/><text x="429" y="187.7" font-size="5.8" text-anchor="middle" font-weight="normal" font-style="normal" fill="#111" >CD4+ CM</text><text x="429.6" y="194.7" font-size="5.8" text-anchor="middle" font-weight="normal" font-style="normal" fill="#111" >CD45RA-CD27+</text><path d="M421.5 196.8A16.2 16.2 0 1 1 408.23 222.29L410.33 220.82A13.64 13.64 0 1 0 421.5 199.36Z" fill="#4cba3c"/><path d="M408.23 222.29A16.2 16.2 0 0 1 421.5 196.8L421.5 199.36A13.64 13.64 0 0 0 410.33 220.82Z" fill="#6b3a9e"/><circle cx="421.5" cy="213" r="16" fill="none" stroke="#1a1a1a" stroke-width="0.55"/><circle cx="421.5" cy="213" r="13.64" fill="#fff" stroke="#1a1a1a" stroke-width="0.5"/><circle cx="421.5" cy="213" r="12.83" fill="#fff" stroke="#8e8e8e" stroke-width="0.6"/><path class="pw" d="M421.5 213L421.5 200.82A12.18 12.18 0 1 1 411.52 219.99Z" fill="#2c7fc1"/><path class="pw" d="M421.5 213L411.52 219.99A12.18 12.18 0 0 1 410.05 217.17Z" fill="#f4ea48"/><path class="pw" d="M421.5 213L410.05 217.17A12.18 12.18 0 0 1 421.5 200.82Z" fill="#e0555a"/><circle cx="421.5" cy="213" r="12.18" fill="none" stroke="#111" stroke-width="0.5"/><circle cx="413.03" cy="217.31" r="1.17" fill="#111"/><circle cx="408.58" cy="220.46" r="1.21" fill="#f3e33a"/><text x="250.1" y="237.2" font-size="5.8" text-anchor="middle" font-weight="normal" font-style="normal" fill="#111" >CD45RA-CD25-</text><text x="251.2" y="244.2" font-size="5.8" text-anchor="middle" font-weight="normal" font-style="normal" fill="#111" >CD4+ Mem Tc</text><path d="M253.5 246.3A16.2 16.2 0 1 1 239.47 270.6L241.69 269.32A13.64 13.64 0 1 0 253.5 248.86Z" fill="#4cba3c"/><path d="M239.47 270.6A16.2 16.2 0 0 1 253.5 246.3L253.5 248.86A13.64 13.64 0 0 0 241.69 269.32Z" fill="#6b3a9e"/><circle cx="253.5" cy="262.5" r="16" fill="none" stroke="#1a1a1a" stroke-width="0.55"/><circle cx="253.5" cy="262.5" r="13.64" fill="#fff" stroke="#1a1a1a" stroke-width="0.5"/><circle cx="253.5" cy="262.5" r="12.83" fill="#fff" stroke="#8e8e8e" stroke-width="0.6"/><path class="pw" d="M253.5 262.5L253.5 250.32A12.18 12.18 0 1 1 244.17 270.33Z" fill="#2c7fc1"/><path class="pw" d="M253.5 262.5L244.17 270.33A12.18 12.18 0 0 1 242.95 268.59Z" fill="#c6c6c6"/><path class="pw" d="M253.5 262.5L242.95 268.59A12.18 12.18 0 0 1 241.91 266.26Z" fill="#f4ea48"/><path class="pw" d="M253.5 262.5L241.91 266.26A12.18 12.18 0 0 1 253.5 250.32Z" fill="#e0555a"/><circle cx="253.5" cy="262.5" r="12.18" fill="none" stroke="#111" stroke-width="0.5"/><circle cx="244.82" cy="266.36" r="1.17" fill="#111"/><circle cx="239.98" cy="268.81" r="1.21" fill="#f3e33a"/><text x="292.7" y="237.2" font-size="5.8" text-anchor="middle" font-weight="normal" font-style="normal" fill="#111" >Mem Tc</text><text x="291.6" y="244.2" font-size="5.8" text-anchor="middle" font-weight="normal" font-style="normal" fill="#111" >CCR6-</text><path d="M295.5 246.3A16.2 16.2 0 1 1 281.47 270.6L283.69 269.32A13.64 13.64 0 1 0 295.5 248.86Z" fill="#4cba3c"/><path d="M281.47 270.6A16.2 16.2 0 0 1 295.5 246.3L295.5 248.86A13.64 13.64 0 0 0 283.69 269.32Z" fill="#6b3a9e"/><circle cx="295.5" cy="262.5" r="16" fill="none" stroke="#1a1a1a" stroke-width="0.55"/><circle cx="295.5" cy="262.5" r="13.64" fill="#fff" stroke="#1a1a1a" stroke-width="0.5"/><circle cx="295.5" cy="262.5" r="12.83" fill="#fff" stroke="#8e8e8e" stroke-width="0.6"/><path class="pw" d="M295.5 262.5L295.5 250.32A12.18 12.18 0 1 1 285.52 269.49Z" fill="#2c7fc1"/><path class="pw" d="M295.5 262.5L285.52 269.49A12.18 12.18 0 0 1 284.95 268.59Z" fill="#c6c6c6"/><path class="pw" d="M295.5 262.5L284.95 268.59A12.18 12.18 0 0 1 284.05 266.67Z" fill="#f4ea48"/><path class="pw" d="M295.5 262.5L284.05 266.67A12.18 12.18 0 0 1 295.5 250.32Z" fill="#e0555a"/><circle cx="295.5" cy="262.5" r="12.18" fill="none" stroke="#111" stroke-width="0.5"/><circle cx="286.89" cy="266.52" r="1.17" fill="#111"/><circle cx="281.98" cy="268.81" r="1.21" fill="#f3e33a"/><text x="335.2" y="237.2" font-size="5.8" text-anchor="middle" font-weight="normal" font-style="normal" fill="#111" >mTreg</text><text x="335.9" y="244.2" font-size="5.8" text-anchor="middle" font-weight="normal" font-style="normal" fill="#111" >CCR6+</text><path d="M337.5 246.3A16.2 16.2 0 1 1 321.85 266.69L324.32 266.03A13.64 13.64 0 1 0 337.5 248.86Z" fill="#4cba3c"/><path d="M321.85 266.69A16.2 16.2 0 0 1 337.5 246.3L337.5 248.86A13.64 13.64 0 0 0 324.32 266.03Z" fill="#6b3a9e"/><circle cx="337.5" cy="262.5" r="16" fill="none" stroke="#1a1a1a" stroke-width="0.55"/><circle cx="337.5" cy="262.5" r="13.64" fill="#fff" stroke="#1a1a1a" stroke-width="0.5"/><circle cx="337.5" cy="262.5" r="12.83" fill="#fff" stroke="#8e8e8e" stroke-width="0.6"/><path class="pw" d="M337.5 262.5L337.5 250.32A12.18 12.18 0 0 1 337.5 274.68Z" fill="#2c7fc1"/><path class="pw" d="M337.5 262.5L337.5 274.68A12.18 12.18 0 0 1 325.73 265.65Z" fill="#5ac8ea"/><path class="pw" d="M337.5 262.5L325.73 265.65A12.18 12.18 0 0 1 325.36 263.56Z" fill="#f4ea48"/><path class="pw" d="M337.5 262.5L325.36 263.56A12.18 12.18 0 0 1 337.5 250.32Z" fill="#e0555a"/><circle cx="337.5" cy="262.5" r="12.18" fill="none" stroke="#111" stroke-width="0.5"/><circle cx="332.05" cy="270.28" r="1.17" fill="#111"/><circle cx="328.14" cy="264.15" r="1.17" fill="#111"/><circle cx="322.81" cy="265.09" r="1.21" fill="#f3e33a"/><text x="383.7" y="241" font-size="5.8" text-anchor="middle" font-weight="normal" font-style="normal" fill="#111" >Lymphocytes</text><path d="M379.5 246.3A16.2 16.2 0 1 1 369.53 275.27L371.1 273.25A13.64 13.64 0 1 0 379.5 248.86Z" fill="#4cba3c"/><path d="M369.53 275.27A16.2 16.2 0 0 1 379.5 246.3L379.5 248.86A13.64 13.64 0 0 0 371.1 273.25Z" fill="#6b3a9e"/><circle cx="379.5" cy="262.5" r="16" fill="none" stroke="#1a1a1a" stroke-width="0.55"/><circle cx="379.5" cy="262.5" r="13.64" fill="#fff" stroke="#1a1a1a" stroke-width="0.5"/><circle cx="379.5" cy="262.5" r="12.83" fill="#fff" stroke="#8e8e8e" stroke-width="0.6"/><path class="pw" d="M379.5 262.5L379.5 250.32A12.18 12.18 0 1 1 374.35 273.54Z" fill="#2c7fc1"/><path class="pw" d="M379.5 262.5L374.35 273.54A12.18 12.18 0 0 1 373.41 273.05Z" fill="#5ac8ea"/><path class="pw" d="M379.5 262.5L373.41 273.05A12.18 12.18 0 0 1 372 272.1Z" fill="#c6c6c6"/><path class="pw" d="M379.5 262.5L372 272.1A12.18 12.18 0 0 1 370.45 270.65Z" fill="#f4ea48"/><path class="pw" d="M379.5 262.5L370.45 270.65A12.18 12.18 0 0 1 379.5 250.32Z" fill="#e0555a"/><circle cx="379.5" cy="262.5" r="12.18" fill="none" stroke="#111" stroke-width="0.5"/><circle cx="369.52" cy="273.59" r="1.21" fill="#f3e33a"/><text x="428.5" y="237.2" font-size="5.8" text-anchor="middle" font-weight="normal" font-style="normal" fill="#111" >MemTc CCR6+</text><text x="428.5" y="244.2" font-size="5.8" text-anchor="middle" font-weight="normal" font-style="normal" fill="#111" >CCR7+CCR5-</text><path d="M421.5 246.3A16.2 16.2 0 1 1 405.31 263.07L407.87 262.98A13.64 13.64 0 1 0 421.5 248.86Z" fill="#4cba3c"/><path d="M405.31 263.07A16.2 16.2 0 0 1 421.5 246.3L421.5 248.86A13.64 13.64 0 0 0 407.87 262.98Z" fill="#6b3a9e"/><circle cx="421.5" cy="262.5" r="16" fill="none" stroke="#1a1a1a" stroke-width="0.55"/><circle cx="421.5" cy="262.5" r="13.64" fill="#fff" stroke="#1a1a1a" stroke-width="0.5"/><circle cx="421.5" cy="262.5" r="12.83" fill="#fff" stroke="#8e8e8e" stroke-width="0.6"/><path class="pw" d="M421.5 262.5L421.5 250.32A12.18 12.18 0 1 1 410.46 267.65Z" fill="#2c7fc1"/><path class="pw" d="M421.5 262.5L410.46 267.65A12.18 12.18 0 0 1 409.73 265.65Z" fill="#5ac8ea"/><path class="pw" d="M421.5 262.5L409.73 265.65A12.18 12.18 0 0 1 409.33 262.93Z" fill="#c6c6c6"/><path class="pw" d="M421.5 262.5L409.33 262.93A12.18 12.18 0 0 1 409.5 260.38Z" fill="#f4ea48"/><path class="pw" d="M421.5 262.5L409.5 260.38A12.18 12.18 0 0 1 421.5 250.32Z" fill="#e0555a"/><circle cx="421.5" cy="262.5" r="12.18" fill="none" stroke="#111" stroke-width="0.5"/><circle cx="412.02" cy="261.84" r="1.17" fill="#111"/><circle cx="407.09" cy="258.64" r="1.21" fill="#f3e33a"/><text x="252.8" y="286.7" font-size="5.8" text-anchor="middle" font-weight="normal" font-style="normal" fill="#111" >IgD+</text><text x="252.9" y="293.7" font-size="5.8" text-anchor="middle" font-weight="normal" font-style="normal" fill="#111" >IgM-</text><path d="M253.5 295.8A16.2 16.2 0 1 1 244.21 325.27L245.68 323.17A13.64 13.64 0 1 0 253.5 298.36Z" fill="#4cba3c"/><path d="M244.21 325.27A16.2 16.2 0 0 1 253.5 295.8L253.5 298.36A13.64 13.64 0 0 0 245.68 323.17Z" fill="#6b3a9e"/><circle cx="253.5" cy="312" r="16" fill="none" stroke="#1a1a1a" stroke-width="0.55"/><circle cx="253.5" cy="312" r="13.64" fill="#fff" stroke="#1a1a1a" stroke-width="0.5"/><circle cx="253.5" cy="312" r="12.83" fill="#fff" stroke="#8e8e8e" stroke-width="0.6"/><path class="pw" d="M253.5 312L253.5 299.82A12.18 12.18 0 1 1 246.51 321.98Z" fill="#2c7fc1"/><path class="pw" d="M253.5 312L246.51 321.98A12.18 12.18 0 0 1 244.89 320.61Z" fill="#f4ea48"/><path class="pw" d="M253.5 312L244.89 320.61A12.18 12.18 0 0 1 253.5 299.82Z" fill="#e0555a"/><circle cx="253.5" cy="312" r="12.18" fill="none" stroke="#111" stroke-width="0.5"/><circle cx="247.39" cy="319.28" r="1.17" fill="#111"/><circle cx="244.31" cy="323.76" r="1.21" fill="#f3e33a"/><text x="295" y="286.7" font-size="5.8" text-anchor="middle" font-weight="normal" font-style="normal" fill="#111" >CD8+ CCR6-</text><text x="296.7" y="293.7" font-size="5.8" text-anchor="middle" font-weight="normal" font-style="normal" fill="#111" >CXCR3-CCR4-</text><path d="M295.5 295.8A16.2 16.2 0 1 1 279.85 316.19L282.32 315.53A13.64 13.64 0 1 0 295.5 298.36Z" fill="#4cba3c"/><path d="M279.85 316.19A16.2 16.2 0 0 1 295.5 295.8L295.5 298.36A13.64 13.64 0 0 0 282.32 315.53Z" fill="#6b3a9e"/><circle cx="295.5" cy="312" r="16" fill="none" stroke="#1a1a1a" stroke-width="0.55"/><circle cx="295.5" cy="312" r="13.64" fill="#fff" stroke="#1a1a1a" stroke-width="0.5"/><circle cx="295.5" cy="312" r="12.83" fill="#fff" stroke="#8e8e8e" stroke-width="0.6"/><path class="pw" d="M295.5 312L295.5 299.82A12.18 12.18 0 0 1 297.62 324Z" fill="#2c7fc1"/><path class="pw" d="M295.5 312L297.62 324A12.18 12.18 0 0 1 283.73 315.15Z" fill="#5ac8ea"/><path class="pw" d="M295.5 312L283.73 315.15A12.18 12.18 0 0 1 283.44 313.7Z" fill="#f4ea48"/><path class="pw" d="M295.5 312L283.44 313.7A12.18 12.18 0 0 1 295.5 299.82Z" fill="#e0555a"/><circle cx="295.5" cy="312" r="12.18" fill="none" stroke="#111" stroke-width="0.5"/><circle cx="290.75" cy="320.23" r="1.17" fill="#111"/><circle cx="286.21" cy="313.98" r="1.17" fill="#111"/><circle cx="280.91" cy="315.1" r="1.21" fill="#f3e33a"/><path d="M326.5 306A10.5 10.5 0 0 1 337 295.5L509 295.5A10.5 10.5 0 0 1 519.5 306L519.5 348.5A10.5 10.5 0 0 1 509 359L337 359A10.5 10.5 0 0 1 326.5 348.5Z" fill="#fff" stroke="#bbb" stroke-width="0.8"/><text x="331.5" y="305.6" font-size="5.6" text-anchor="start" font-weight="bold" font-style="normal" fill="#111" >Inner circle</text><text x="379.5" y="305.6" font-size="5.6" text-anchor="start" font-weight="bold" font-style="normal" fill="#111" >Outer circle</text><text x="432" y="305.6" font-size="5.6" text-anchor="start" font-weight="bold" font-style="normal" fill="#111" >Inner circle</text><text x="480" y="305.6" font-size="5.6" text-anchor="start" font-weight="bold" font-style="normal" fill="#111" >Outer circle</text><rect x="332.2" y="308" width="11.8" height="11.5" fill="#5ac8ea" stroke="#222" stroke-width="0.5"/><text x="347" y="315.7" font-size="5.6" text-anchor="start" font-weight="normal" font-style="normal" fill="#111" >age</text><rect x="332.2" y="319.5" width="11.8" height="11.5" fill="#c6c6c6" stroke="#222" stroke-width="0.5"/><text x="347" y="327.2" font-size="5.6" text-anchor="start" font-weight="normal" font-style="normal" fill="#111" >BMI</text><rect x="332.2" y="331" width="11.8" height="11.5" fill="#66c49c" stroke="#222" stroke-width="0.5"/><text x="347" y="338.7" font-size="5.6" text-anchor="start" font-weight="normal" font-style="normal" fill="#111" >sex</text><rect x="332.2" y="342.5" width="11.8" height="11.5" fill="#2c7fc1" stroke="#222" stroke-width="0.5"/><text x="347" y="350.2" font-size="5.6" text-anchor="start" font-weight="normal" font-style="normal" fill="#111" >otherInter</text><path d="M372.6 308.5Q377.3 309 377.3 313L377.3 349Q377.3 353 372.6 353.5" fill="none" stroke="#222" stroke-width="0.7"/><rect x="379.2" y="324.5" width="12.4" height="12.3" fill="#4cba3c" stroke="#222" stroke-width="0.5"/><text x="394" y="332.6" font-size="5.6" text-anchor="start" font-weight="normal" font-style="normal" fill="#111" >totalInter</text><rect x="431.6" y="308" width="12.3" height="11.5" fill="#f4ea48" stroke="#222" stroke-width="0.5"/><text x="447" y="315.7" font-size="5.6" text-anchor="start" font-weight="normal" font-style="normal" fill="#111" >seasonal</text><rect x="431.6" y="319.5" width="12.3" height="11.5" fill="#e0555a" stroke="#222" stroke-width="0.5"/><text x="447" y="327.2" font-size="5.6" text-anchor="start" font-weight="normal" font-style="normal" fill="#111" >otherIntra</text><path d="M472.3 308.5Q477.3 309 477.3 313L477.3 327Q477.3 331 472.3 331.5" fill="none" stroke="#222" stroke-width="0.7"/><rect x="478.8" y="313.8" width="12.3" height="12.3" fill="#6b3a9e" stroke="#222" stroke-width="0.5"/><text x="494" y="322" font-size="5.6" text-anchor="start" font-weight="normal" font-style="normal" fill="#111" >totalIntra</text><circle cx="424.7" cy="342" r="1" fill="#111"/><text x="434.6" y="344" font-size="5.6" text-anchor="start" font-weight="normal" font-style="normal" fill="#111" >significant</text><circle cx="424.7" cy="350.8" r="1" fill="#111"/><circle cx="428.8" cy="350.8" r="0.9" fill="#f3e33a"/><text x="434.6" y="352.8" font-size="5.6" text-anchor="start" font-weight="normal" font-style="normal" fill="#111" >significant season</text><text x="488.8" y="353.5" font-size="7" text-anchor="start" font-weight="bold" font-style="normal" fill="#111" >legend</text><text x="5.6" y="372.1" font-size="15" text-anchor="start" font-weight="normal" font-style="normal" fill="#111" >B</text><clipPath id="c105"><rect x="29.8" y="376" width="220.7" height="106.3"/></clipPath><g clip-path="url(#c105)"><path class="w" d="M33 473.32V475.23M33 476.99V477.5"/><path class="w" d="M36.86 473.55V474.04M36.86 476.27V478.39"/><path class="w" d="M40.73 474.65V474.74M40.73 476.13V476.41"/><path class="w" d="M44.59 471.97V472.9M44.59 476.3V476.55"/><path class="w" d="M48.45 474.15V475.62M48.45 477.12V477.12"/><path class="w" d="M52.32 471.05V473.15M52.32 475.19V474.07"/><path class="w" d="M56.18 473.12V473.12M56.18 473.77V473.77"/><path class="w" d="M60.05 475.06V475.52M60.05 476.33V476.68"/><path class="w" d="M63.91 471.85V471.99M63.91 473.43V473.66"/><path class="w" d="M67.77 470.21V473.6M67.77 478.04V479.71"/><path class="w" d="M71.64 469.87V470.96M71.64 474.48V475.28"/><path class="w" d="M75.5 468.97V471.62M75.5 476.58V478.71"/><path class="w" d="M79.36 470.73V470.78M79.36 472.79V475.7"/><path class="w" d="M83.23 467V469.27M83.23 473.14V474.63"/><path class="w" d="M87.09 466.9V468.47M87.09 471.4V472.75"/><path class="w" d="M90.95 471.02V471.34M90.95 472.99V474.05"/><path class="w" d="M94.82 465.94V466.74M94.82 468.33V468.47"/><path class="w" d="M98.68 459.6V463.54M98.68 472.56V477.59"/><path class="w" d="M102.55 466.25V468.9M102.55 472.15V472.76"/><path class="w" d="M106.41 459.72V464.14M106.41 470.3V475.14"/><path class="w" d="M110.27 466.09V466.89M110.27 470.86V476.39"/><path class="w" d="M114.14 460.75V463.59M114.14 470.53V471.79"/><path class="w" d="M118 455.51V458.23M118 465.02V469.09"/><path class="w" d="M121.86 452.99V457.56M121.86 466.46V469.95"/><path class="w" d="M125.73 453.03V456.04M125.73 462.46V466.69"/><path class="w" d="M129.59 448.77V456.4M129.59 464.68V465.25"/><path class="w" d="M133.45 461.29V463.95M133.45 467.72V468.27"/><path class="w" d="M137.32 462.93V463.5M137.32 467.45V470.85"/><path class="w" d="M141.18 450.2V456.57M141.18 463.83V467.13"/><path class="w" d="M145.05 460.3V462.2M145.05 464.39V465.66"/><path class="w" d="M148.91 454.1V454.64M148.91 462.26V472.46"/><path class="w" d="M152.77 452.15V455.74M152.77 462.96V466.02"/><path class="w" d="M156.64 452.76V457.06M156.64 464.73V470.06"/><path class="w" d="M160.5 456.51V457.6M160.5 461.9V465.77"/><path class="w" d="M164.36 447.48V449.52M164.36 461.36V470.76"/><path class="w" d="M168.23 452.85V454.35M168.23 458.87V461.27"/><path class="w" d="M172.09 446.83V452.23M172.09 461.75V466.77"/><path class="w" d="M175.95 451.35V452.75M175.95 460.26V462.93"/><path class="w" d="M179.82 428.1V442.92M179.82 454.87V462.22"/><path class="w" d="M183.68 447.12V449.07M183.68 454.91V451.27"/><path class="w" d="M187.55 456.21V456.21M187.55 464.19V465.17"/><path class="w" d="M191.41 430.1V438.73M191.41 457.95V460.94"/><path class="w" d="M195.27 438.56V443.82M195.27 451.11V459.59"/><path class="w" d="M199.14 440.28V448.36M199.14 458.64V460.85"/><path class="w" d="M203 435.31V445.24M203 459.46V463.75"/><path class="w" d="M206.86 445.26V446.15M206.86 450.61V454.58"/><path class="w" d="M210.73 417.87V434.72M210.73 451.28V455.2"/><path class="w" d="M214.59 430.87V432.99M214.59 445.08V449.92"/><path class="w" d="M218.45 438.36V441.53M218.45 451.33V457.96"/><path class="w" d="M222.32 407.39V430.44M222.32 452.54V456.37"/><path class="w" d="M226.18 416.63V426.28M226.18 450.74V469.61"/><path class="w" d="M230.05 399.64V422.6M230.05 441.44V448.69"/><path class="w" d="M233.91 390.9V398.53M233.91 424.97V433.65"/><path class="w" d="M237.77 400.55V401.69M237.77 417.56V430.38"/><path class="w" d="M241.64 411.05V411.64M241.64 418.21V424.18"/><path class="w" d="M245.5 390.63V402.2M245.5 433.65V445.23"/><rect class="b" x="31.35" y="475.23" width="3.3" height="1.76"/><path class="m" d="M31.35 475.75h3.3"/><rect class="b" x="35.21" y="474.04" width="3.3" height="2.23"/><path class="m" d="M35.21 474.27h3.3"/><rect class="b" x="39.08" y="474.74" width="3.3" height="1.39"/><path class="m" d="M39.08 475.63h3.3"/><rect class="b" x="42.94" y="472.9" width="3.3" height="3.4"/><path class="m" d="M42.94 475.27h3.3"/><rect class="b" x="46.8" y="475.62" width="3.3" height="1.5"/><path class="m" d="M46.8 476.09h3.3"/><rect class="b" x="50.67" y="473.15" width="3.3" height="2.04"/><path class="m" d="M50.67 473.96h3.3"/><rect class="b" x="54.53" y="473.12" width="3.3" height="0.8"/><path class="m" d="M54.53 473.19h3.3"/><rect class="b" x="58.4" y="475.52" width="3.3" height="0.81"/><path class="m" d="M58.4 475.98h3.3"/><rect class="b" x="62.26" y="471.99" width="3.3" height="1.44"/><path class="m" d="M62.26 472.84h3.3"/><rect class="b" x="66.12" y="473.6" width="3.3" height="4.43"/><path class="m" d="M66.12 475.61h3.3"/><rect class="b" x="69.99" y="470.96" width="3.3" height="3.52"/><path class="m" d="M69.99 472.82h3.3"/><rect class="b" x="73.85" y="471.62" width="3.3" height="4.96"/><path class="m" d="M73.85 473.56h3.3"/><rect class="b" x="77.71" y="470.78" width="3.3" height="2.01"/><path class="m" d="M77.71 471.31h3.3"/><rect class="b" x="81.58" y="469.27" width="3.3" height="3.86"/><path class="m" d="M81.58 472.26h3.3"/><rect class="b" x="85.44" y="468.47" width="3.3" height="2.93"/><path class="m" d="M85.44 470.05h3.3"/><rect class="b" x="89.3" y="471.34" width="3.3" height="1.65"/><path class="m" d="M89.3 472.15h3.3"/><rect class="b" x="93.17" y="466.74" width="3.3" height="1.6"/><path class="m" d="M93.17 468.19h3.3"/><rect class="b" x="97.03" y="463.54" width="3.3" height="9.02"/><path class="m" d="M97.03 469.8h3.3"/><rect class="b" x="100.9" y="468.9" width="3.3" height="3.26"/><path class="m" d="M100.9 471.54h3.3"/><rect class="b" x="104.76" y="464.14" width="3.3" height="6.15"/><path class="m" d="M104.76 468.2h3.3"/><rect class="b" x="108.62" y="466.89" width="3.3" height="3.97"/><path class="m" d="M108.62 467.39h3.3"/><rect class="b" x="112.49" y="463.59" width="3.3" height="6.94"/><path class="m" d="M112.49 466.66h3.3"/><rect class="b" x="116.35" y="458.23" width="3.3" height="6.79"/><path class="m" d="M116.35 460.95h3.3"/><rect class="b" x="120.21" y="457.56" width="3.3" height="8.9"/><path class="m" d="M120.21 458.94h3.3"/><rect class="b" x="124.08" y="456.04" width="3.3" height="6.41"/><path class="m" d="M124.08 459.53h3.3"/><rect class="b" x="127.94" y="456.4" width="3.3" height="8.27"/><path class="m" d="M127.94 461.72h3.3"/><rect class="b" x="131.8" y="463.95" width="3.3" height="3.77"/><path class="m" d="M131.8 466.18h3.3"/><rect class="b" x="135.67" y="463.5" width="3.3" height="3.95"/><path class="m" d="M135.67 464.77h3.3"/><rect class="b" x="139.53" y="456.57" width="3.3" height="7.26"/><path class="m" d="M139.53 459.69h3.3"/><rect class="b" x="143.4" y="462.2" width="3.3" height="2.19"/><path class="m" d="M143.4 462.55h3.3"/><rect class="b" x="147.26" y="454.64" width="3.3" height="7.62"/><path class="m" d="M147.26 456.71h3.3"/><rect class="b" x="151.12" y="455.74" width="3.3" height="7.23"/><path class="m" d="M151.12 458.51h3.3"/><rect class="b" x="154.99" y="457.06" width="3.3" height="7.67"/><path class="m" d="M154.99 459.78h3.3"/><rect class="b" x="158.85" y="457.6" width="3.3" height="4.3"/><path class="m" d="M158.85 459.29h3.3"/><rect class="b" x="162.71" y="449.52" width="3.3" height="11.84"/><path class="m" d="M162.71 455.25h3.3"/><rect class="b" x="166.58" y="454.35" width="3.3" height="4.52"/><path class="m" d="M166.58 456.46h3.3"/><rect class="b" x="170.44" y="452.23" width="3.3" height="9.52"/><path class="m" d="M170.44 457.59h3.3"/><rect class="b" x="174.3" y="452.75" width="3.3" height="7.51"/><path class="m" d="M174.3 458.57h3.3"/><rect class="b" x="178.17" y="442.92" width="3.3" height="11.95"/><path class="m" d="M178.17 451.95h3.3"/><rect class="b" x="182.03" y="449.07" width="3.3" height="5.84"/><path class="m" d="M182.03 450.5h3.3"/><rect class="b" x="185.9" y="456.21" width="3.3" height="7.99"/><path class="m" d="M185.9 457.73h3.3"/><rect class="b" x="189.76" y="438.73" width="3.3" height="19.21"/><path class="m" d="M189.76 447.51h3.3"/><rect class="b" x="193.62" y="443.82" width="3.3" height="7.29"/><path class="m" d="M193.62 446.92h3.3"/><rect class="b" x="197.49" y="448.36" width="3.3" height="10.28"/><path class="m" d="M197.49 456.44h3.3"/><rect class="b" x="201.35" y="445.24" width="3.3" height="14.22"/><path class="m" d="M201.35 455.17h3.3"/><rect class="b" x="205.21" y="446.15" width="3.3" height="4.46"/><path class="m" d="M205.21 448.15h3.3"/><rect class="b" x="209.08" y="434.72" width="3.3" height="16.56"/><path class="m" d="M209.08 443.95h3.3"/><rect class="b" x="212.94" y="432.99" width="3.3" height="12.09"/><path class="m" d="M212.94 439.39h3.3"/><rect class="b" x="216.8" y="441.53" width="3.3" height="9.8"/><path class="m" d="M216.8 444.7h3.3"/><rect class="b" x="220.67" y="430.44" width="3.3" height="22.11"/><path class="m" d="M220.67 437.56h3.3"/><rect class="b" x="224.53" y="426.28" width="3.3" height="24.46"/><path class="m" d="M224.53 443.19h3.3"/><rect class="b" x="228.4" y="422.6" width="3.3" height="18.84"/><path class="m" d="M228.4 432.37h3.3"/><rect class="b" x="232.26" y="398.53" width="3.3" height="26.44"/><path class="m" d="M232.26 418.49h3.3"/><rect class="b" x="236.12" y="401.69" width="3.3" height="15.87"/><path class="m" d="M236.12 413.09h3.3"/><rect class="b" x="239.99" y="411.64" width="3.3" height="6.57"/><path class="m" d="M239.99 412.24h3.3"/><rect class="b" x="243.85" y="402.2" width="3.3" height="31.45"/><path class="m" d="M243.85 417.92h3.3"/><circle class="d" cx="32.94" cy="477.5" r="1.15"/><circle class="d" cx="33.61" cy="477.27" r="1.15"/><circle class="d" cx="33.67" cy="476.71" r="1.15"/><circle class="d" cx="32.56" cy="475.75" r="1.15"/><circle class="d" cx="33.78" cy="475.58" r="1.15"/><circle class="d" cx="33.18" cy="474.88" r="1.15"/><circle class="d" cx="33.74" cy="473.32" r="1.15"/><circle class="d" cx="37.47" cy="478.39" r="1.15"/><circle class="d" cx="36.97" cy="477.42" r="1.15"/><circle class="d" cx="37.07" cy="475.12" r="1.15"/><circle class="d" cx="36.85" cy="474.27" r="1.15"/><circle class="d" cx="37.06" cy="474.1" r="1.15"/><circle class="d" cx="36.67" cy="473.98" r="1.15"/><circle class="d" cx="36.53" cy="473.55" r="1.15"/><circle class="d" cx="41.09" cy="479.01" r="1.15"/><circle class="d" cx="40.65" cy="476.41" r="1.15"/><circle class="d" cx="40.86" cy="475.84" r="1.15"/><circle class="d" cx="41.29" cy="475.63" r="1.15"/><circle class="d" cx="40.98" cy="474.83" r="1.15"/><circle class="d" cx="40.05" cy="474.65" r="1.15"/><circle class="d" cx="40.94" cy="470.07" r="1.15"/><circle class="d" cx="45.07" cy="476.55" r="1.15"/><circle class="d" cx="44.49" cy="476.3" r="1.15"/><circle class="d" cx="44.79" cy="475.27" r="1.15"/><circle class="d" cx="43.93" cy="472.9" r="1.15"/><circle class="d" cx="45.01" cy="471.97" r="1.15"/><circle class="d" cx="48.75" cy="480.78" r="1.15"/><circle class="d" cx="49" cy="477.12" r="1.15"/><circle class="d" cx="48.51" cy="476.09" r="1.15"/><circle class="d" cx="48.41" cy="475.62" r="1.15"/><circle class="d" cx="47.67" cy="474.15" r="1.15"/><circle class="d" cx="51.89" cy="478.57" r="1.15"/><circle class="d" cx="52.76" cy="474.07" r="1.15"/><circle class="d" cx="52.08" cy="473.85" r="1.15"/><circle class="d" cx="51.54" cy="471.05" r="1.15"/><circle class="d" cx="56.85" cy="476.58" r="1.15"/><circle class="d" cx="55.44" cy="473.77" r="1.15"/><circle class="d" cx="56.48" cy="473.19" r="1.15"/><circle class="d" cx="56.28" cy="473.12" r="1.15"/><circle class="d" cx="55.94" cy="471.47" r="1.15"/><circle class="d" cx="59.29" cy="476.68" r="1.15"/><circle class="d" cx="60.56" cy="475.98" r="1.15"/><circle class="d" cx="59.73" cy="475.06" r="1.15"/><circle class="d" cx="64.37" cy="473.66" r="1.15"/><circle class="d" cx="63.2" cy="473.48" r="1.15"/><circle class="d" cx="64.7" cy="473.28" r="1.15"/><circle class="d" cx="64.29" cy="472.39" r="1.15"/><circle class="d" cx="64.39" cy="471.85" r="1.15"/><circle class="d" cx="64.09" cy="468.26" r="1.15"/><circle class="d" cx="67.72" cy="479.71" r="1.15"/><circle class="d" cx="67.12" cy="478.04" r="1.15"/><circle class="d" cx="67.79" cy="478.04" r="1.15"/><circle class="d" cx="68.03" cy="477.18" r="1.15"/><circle class="d" cx="68.08" cy="474.04" r="1.15"/><circle class="d" cx="68.54" cy="473.98" r="1.15"/><circle class="d" cx="67.39" cy="472.48" r="1.15"/><circle class="d" cx="67.31" cy="470.21" r="1.15"/><circle class="d" cx="72.23" cy="475.28" r="1.15"/><circle class="d" cx="70.96" cy="474.48" r="1.15"/><circle class="d" cx="71.81" cy="472.82" r="1.15"/><circle class="d" cx="71.24" cy="470.96" r="1.15"/><circle class="d" cx="71.32" cy="469.87" r="1.15"/><circle class="d" cx="76.11" cy="478.71" r="1.15"/><circle class="d" cx="76.18" cy="476.79" r="1.15"/><circle class="d" cx="75.14" cy="476.51" r="1.15"/><circle class="d" cx="75.38" cy="474.12" r="1.15"/><circle class="d" cx="74.86" cy="473" r="1.15"/><circle class="d" cx="75.1" cy="472.09" r="1.15"/><circle class="d" cx="74.99" cy="470.22" r="1.15"/><circle class="d" cx="75.15" cy="468.97" r="1.15"/><circle class="d" cx="79.78" cy="475.7" r="1.15"/><circle class="d" cx="79.91" cy="473.17" r="1.15"/><circle class="d" cx="79.29" cy="471.66" r="1.15"/><circle class="d" cx="79.27" cy="470.96" r="1.15"/><circle class="d" cx="78.9" cy="470.73" r="1.15"/><circle class="d" cx="79.09" cy="466.68" r="1.15"/><circle class="d" cx="82.97" cy="474.63" r="1.15"/><circle class="d" cx="83.43" cy="473.28" r="1.15"/><circle class="d" cx="83.37" cy="473" r="1.15"/><circle class="d" cx="82.72" cy="472.26" r="1.15"/><circle class="d" cx="82.63" cy="470.14" r="1.15"/><circle class="d" cx="82.63" cy="468.41" r="1.15"/><circle class="d" cx="82.93" cy="467" r="1.15"/><circle class="d" cx="86.59" cy="472.75" r="1.15"/><circle class="d" cx="87.62" cy="470.05" r="1.15"/><circle class="d" cx="87.28" cy="466.9" r="1.15"/><circle class="d" cx="90.32" cy="474.05" r="1.15"/><circle class="d" cx="90.42" cy="473.46" r="1.15"/><circle class="d" cx="90.88" cy="472.83" r="1.15"/><circle class="d" cx="91.55" cy="472.43" r="1.15"/><circle class="d" cx="91.45" cy="471.88" r="1.15"/><circle class="d" cx="91.71" cy="471.45" r="1.15"/><circle class="d" cx="91.1" cy="471.02" r="1.15"/><circle class="d" cx="91.36" cy="466.63" r="1.15"/><circle class="d" cx="94.55" cy="477.09" r="1.15"/><circle class="d" cx="95" cy="468.47" r="1.15"/><circle class="d" cx="94.65" cy="468.19" r="1.15"/><circle class="d" cx="95.02" cy="468.19" r="1.15"/><circle class="d" cx="95.46" cy="466.93" r="1.15"/><circle class="d" cx="94.13" cy="466.55" r="1.15"/><circle class="d" cx="94.7" cy="465.94" r="1.15"/><circle class="d" cx="98.97" cy="477.59" r="1.15"/><circle class="d" cx="98.67" cy="474.97" r="1.15"/><circle class="d" cx="99.11" cy="470.15" r="1.15"/><circle class="d" cx="98.14" cy="469.8" r="1.15"/><circle class="d" cx="98.25" cy="463.79" r="1.15"/><circle class="d" cx="98.87" cy="463.29" r="1.15"/><circle class="d" cx="99.07" cy="459.6" r="1.15"/><circle class="d" cx="102.97" cy="472.76" r="1.15"/><circle class="d" cx="102.35" cy="471.54" r="1.15"/><circle class="d" cx="101.99" cy="466.25" r="1.15"/><circle class="d" cx="105.87" cy="475.14" r="1.15"/><circle class="d" cx="107.14" cy="470.83" r="1.15"/><circle class="d" cx="106.89" cy="468.7" r="1.15"/><circle class="d" cx="106.97" cy="467.7" r="1.15"/><circle class="d" cx="106.76" cy="462.96" r="1.15"/><circle class="d" cx="106.03" cy="459.72" r="1.15"/><circle class="d" cx="109.93" cy="476.39" r="1.15"/><circle class="d" cx="109.93" cy="473.21" r="1.15"/><circle class="d" cx="110.29" cy="470.08" r="1.15"/><circle class="d" cx="110.17" cy="467.69" r="1.15"/><circle class="d" cx="110.51" cy="467.09" r="1.15"/><circle class="d" cx="109.6" cy="466.98" r="1.15"/><circle class="d" cx="109.89" cy="466.63" r="1.15"/><circle class="d" cx="111.02" cy="466.09" r="1.15"/><circle class="d" cx="113.64" cy="471.79" r="1.15"/><circle class="d" cx="113.75" cy="471.04" r="1.15"/><circle class="d" cx="113.9" cy="470.02" r="1.15"/><circle class="d" cx="113.56" cy="466.66" r="1.15"/><circle class="d" cx="114.09" cy="464.6" r="1.15"/><circle class="d" cx="114.26" cy="462.59" r="1.15"/><circle class="d" cx="114.93" cy="460.75" r="1.15"/><circle class="d" cx="117.67" cy="469.09" r="1.15"/><circle class="d" cx="117.29" cy="460.95" r="1.15"/><circle class="d" cx="117.58" cy="455.51" r="1.15"/><circle class="d" cx="121.75" cy="469.95" r="1.15"/><circle class="d" cx="121.72" cy="466.46" r="1.15"/><circle class="d" cx="121.8" cy="458.94" r="1.15"/><circle class="d" cx="121.64" cy="457.56" r="1.15"/><circle class="d" cx="121.28" cy="452.99" r="1.15"/><circle class="d" cx="125.14" cy="466.69" r="1.15"/><circle class="d" cx="125.64" cy="464.17" r="1.15"/><circle class="d" cx="125.59" cy="461.89" r="1.15"/><circle class="d" cx="125.17" cy="460.37" r="1.15"/><circle class="d" cx="125.21" cy="458.68" r="1.15"/><circle class="d" cx="126.21" cy="456.42" r="1.15"/><circle class="d" cx="125.44" cy="454.9" r="1.15"/><circle class="d" cx="125.38" cy="453.03" r="1.15"/><circle class="d" cx="129.95" cy="465.25" r="1.15"/><circle class="d" cx="130.23" cy="464.49" r="1.15"/><circle class="d" cx="130.17" cy="458.95" r="1.15"/><circle class="d" cx="129.63" cy="448.77" r="1.15"/><circle class="d" cx="133.83" cy="468.27" r="1.15"/><circle class="d" cx="132.97" cy="467.53" r="1.15"/><circle class="d" cx="133.33" cy="464.84" r="1.15"/><circle class="d" cx="134.17" cy="461.29" r="1.15"/><circle class="d" cx="136.97" cy="470.85" r="1.15"/><circle class="d" cx="136.71" cy="468.98" r="1.15"/><circle class="d" cx="137.41" cy="465.91" r="1.15"/><circle class="d" cx="136.79" cy="464.77" r="1.15"/><circle class="d" cx="137.44" cy="464.06" r="1.15"/><circle class="d" cx="137.98" cy="462.93" r="1.15"/><circle class="d" cx="136.58" cy="448.09" r="1.15"/><circle class="d" cx="140.77" cy="467.13" r="1.15"/><circle class="d" cx="141.42" cy="465.75" r="1.15"/><circle class="d" cx="141.04" cy="461.91" r="1.15"/><circle class="d" cx="141" cy="459.69" r="1.15"/><circle class="d" cx="140.85" cy="459.15" r="1.15"/><circle class="d" cx="140.92" cy="453.98" r="1.15"/><circle class="d" cx="141.33" cy="450.2" r="1.15"/><circle class="d" cx="145.52" cy="465.66" r="1.15"/><circle class="d" cx="144.38" cy="464.99" r="1.15"/><circle class="d" cx="145.03" cy="462.61" r="1.15"/><circle class="d" cx="145.76" cy="462.48" r="1.15"/><circle class="d" cx="144.45" cy="462.11" r="1.15"/><circle class="d" cx="145.66" cy="460.3" r="1.15"/><circle class="d" cx="148.5" cy="472.46" r="1.15"/><circle class="d" cx="148.38" cy="462.44" r="1.15"/><circle class="d" cx="148.89" cy="462.09" r="1.15"/><circle class="d" cx="149.46" cy="456.71" r="1.15"/><circle class="d" cx="148.72" cy="455.17" r="1.15"/><circle class="d" cx="148.59" cy="454.1" r="1.15"/><circle class="d" cx="148.73" cy="441.23" r="1.15"/><circle class="d" cx="153.56" cy="466.02" r="1.15"/><circle class="d" cx="152.87" cy="464.34" r="1.15"/><circle class="d" cx="152.37" cy="458.83" r="1.15"/><circle class="d" cx="152.38" cy="458.2" r="1.15"/><circle class="d" cx="152.47" cy="454.92" r="1.15"/><circle class="d" cx="152.98" cy="452.15" r="1.15"/><circle class="d" cx="157.21" cy="470.06" r="1.15"/><circle class="d" cx="157.31" cy="464.73" r="1.15"/><circle class="d" cx="156.2" cy="459.78" r="1.15"/><circle class="d" cx="156.25" cy="457.06" r="1.15"/><circle class="d" cx="156.02" cy="452.76" r="1.15"/><circle class="d" cx="159.7" cy="465.77" r="1.15"/><circle class="d" cx="160.67" cy="460.61" r="1.15"/><circle class="d" cx="161.06" cy="457.97" r="1.15"/><circle class="d" cx="160.32" cy="456.51" r="1.15"/><circle class="d" cx="164.04" cy="470.76" r="1.15"/><circle class="d" cx="164.57" cy="461.8" r="1.15"/><circle class="d" cx="165.08" cy="460.05" r="1.15"/><circle class="d" cx="164.03" cy="450.46" r="1.15"/><circle class="d" cx="165.1" cy="449.2" r="1.15"/><circle class="d" cx="165.03" cy="447.48" r="1.15"/><circle class="d" cx="168.13" cy="461.27" r="1.15"/><circle class="d" cx="167.55" cy="458.07" r="1.15"/><circle class="d" cx="168.98" cy="454.85" r="1.15"/><circle class="d" cx="168.57" cy="452.85" r="1.15"/><circle class="d" cx="171.9" cy="466.77" r="1.15"/><circle class="d" cx="172.48" cy="463.05" r="1.15"/><circle class="d" cx="171.83" cy="461.32" r="1.15"/><circle class="d" cx="172.87" cy="460.62" r="1.15"/><circle class="d" cx="171.46" cy="454.56" r="1.15"/><circle class="d" cx="172.17" cy="453.9" r="1.15"/><circle class="d" cx="172.37" cy="447.21" r="1.15"/><circle class="d" cx="171.98" cy="446.83" r="1.15"/><circle class="d" cx="176.69" cy="462.93" r="1.15"/><circle class="d" cx="175.42" cy="460.3" r="1.15"/><circle class="d" cx="175.81" cy="460.17" r="1.15"/><circle class="d" cx="175.52" cy="456.97" r="1.15"/><circle class="d" cx="175.97" cy="451.35" r="1.15"/><circle class="d" cx="176.45" cy="437.91" r="1.15"/><circle class="d" cx="179.03" cy="462.22" r="1.15"/><circle class="d" cx="179.79" cy="454.87" r="1.15"/><circle class="d" cx="179.37" cy="451.95" r="1.15"/><circle class="d" cx="180.26" cy="442.92" r="1.15"/><circle class="d" cx="180.54" cy="428.1" r="1.15"/><circle class="d" cx="184.37" cy="465.84" r="1.15"/><circle class="d" cx="183.9" cy="451.27" r="1.15"/><circle class="d" cx="183.79" cy="449.72" r="1.15"/><circle class="d" cx="182.92" cy="447.12" r="1.15"/><circle class="d" cx="187.64" cy="465.17" r="1.15"/><circle class="d" cx="187.27" cy="464.19" r="1.15"/><circle class="d" cx="188.24" cy="457.73" r="1.15"/><circle class="d" cx="188.18" cy="456.21" r="1.15"/><circle class="d" cx="187.11" cy="442.15" r="1.15"/><circle class="d" cx="191.79" cy="460.94" r="1.15"/><circle class="d" cx="191.45" cy="457.95" r="1.15"/><circle class="d" cx="191.12" cy="447.51" r="1.15"/><circle class="d" cx="191.33" cy="438.73" r="1.15"/><circle class="d" cx="191.03" cy="430.1" r="1.15"/><circle class="d" cx="194.69" cy="459.59" r="1.15"/><circle class="d" cx="195.92" cy="448.28" r="1.15"/><circle class="d" cx="195.12" cy="445.57" r="1.15"/><circle class="d" cx="195.11" cy="438.56" r="1.15"/><circle class="d" cx="198.52" cy="460.85" r="1.15"/><circle class="d" cx="198.69" cy="456.44" r="1.15"/><circle class="d" cx="199.45" cy="440.28" r="1.15"/><circle class="d" cx="202.95" cy="463.75" r="1.15"/><circle class="d" cx="202.69" cy="455.17" r="1.15"/><circle class="d" cx="203.29" cy="435.31" r="1.15"/><circle class="d" cx="206.18" cy="454.58" r="1.15"/><circle class="d" cx="207.11" cy="452.25" r="1.15"/><circle class="d" cx="206.39" cy="448.96" r="1.15"/><circle class="d" cx="206.36" cy="448.15" r="1.15"/><circle class="d" cx="207.61" cy="447.05" r="1.15"/><circle class="d" cx="207.24" cy="445.26" r="1.15"/><circle class="d" cx="207.33" cy="430.19" r="1.15"/><circle class="d" cx="210.33" cy="455.2" r="1.15"/><circle class="d" cx="210.52" cy="454.92" r="1.15"/><circle class="d" cx="210.86" cy="450.06" r="1.15"/><circle class="d" cx="211.04" cy="447.42" r="1.15"/><circle class="d" cx="210.68" cy="440.49" r="1.15"/><circle class="d" cx="211.22" cy="436.85" r="1.15"/><circle class="d" cx="210.84" cy="428.33" r="1.15"/><circle class="d" cx="210.39" cy="417.87" r="1.15"/><circle class="d" cx="215.3" cy="449.92" r="1.15"/><circle class="d" cx="214.15" cy="448.84" r="1.15"/><circle class="d" cx="214.11" cy="441.33" r="1.15"/><circle class="d" cx="214.09" cy="439.39" r="1.15"/><circle class="d" cx="213.82" cy="433.83" r="1.15"/><circle class="d" cx="215.2" cy="432.15" r="1.15"/><circle class="d" cx="214.07" cy="430.87" r="1.15"/><circle class="d" cx="219.17" cy="457.96" r="1.15"/><circle class="d" cx="219.18" cy="444.7" r="1.15"/><circle class="d" cx="219.13" cy="438.36" r="1.15"/><circle class="d" cx="221.83" cy="456.37" r="1.15"/><circle class="d" cx="221.57" cy="455.52" r="1.15"/><circle class="d" cx="222.31" cy="449.57" r="1.15"/><circle class="d" cx="222.07" cy="437.56" r="1.15"/><circle class="d" cx="221.98" cy="433.1" r="1.15"/><circle class="d" cx="222.41" cy="427.77" r="1.15"/><circle class="d" cx="222.65" cy="407.39" r="1.15"/><circle class="d" cx="226.29" cy="469.61" r="1.15"/><circle class="d" cx="226.36" cy="454.82" r="1.15"/><circle class="d" cx="226.69" cy="449.38" r="1.15"/><circle class="d" cx="226.81" cy="445.52" r="1.15"/><circle class="d" cx="226.92" cy="440.87" r="1.15"/><circle class="d" cx="226.34" cy="428.32" r="1.15"/><circle class="d" cx="226.52" cy="420.18" r="1.15"/><circle class="d" cx="225.74" cy="416.63" r="1.15"/><circle class="d" cx="229.86" cy="448.69" r="1.15"/><circle class="d" cx="229.83" cy="441.44" r="1.15"/><circle class="d" cx="229.35" cy="432.37" r="1.15"/><circle class="d" cx="230.38" cy="422.6" r="1.15"/><circle class="d" cx="229.68" cy="399.64" r="1.15"/><circle class="d" cx="233.67" cy="433.65" r="1.15"/><circle class="d" cx="234.15" cy="426.24" r="1.15"/><circle class="d" cx="234.62" cy="423.7" r="1.15"/><circle class="d" cx="233.28" cy="418.49" r="1.15"/><circle class="d" cx="233.95" cy="402.13" r="1.15"/><circle class="d" cx="233.87" cy="394.92" r="1.15"/><circle class="d" cx="233.49" cy="390.9" r="1.15"/><circle class="d" cx="237.58" cy="430.38" r="1.15"/><circle class="d" cx="237.79" cy="421.96" r="1.15"/><circle class="d" cx="237.87" cy="413.16" r="1.15"/><circle class="d" cx="237.69" cy="413.09" r="1.15"/><circle class="d" cx="238.52" cy="401.85" r="1.15"/><circle class="d" cx="237.1" cy="401.52" r="1.15"/><circle class="d" cx="237.06" cy="400.55" r="1.15"/><circle class="d" cx="240.86" cy="424.18" r="1.15"/><circle class="d" cx="242.06" cy="412.24" r="1.15"/><circle class="d" cx="242.08" cy="411.05" r="1.15"/><circle class="d" cx="245.12" cy="445.23" r="1.15"/><circle class="d" cx="244.87" cy="429.79" r="1.15"/><circle class="d" cx="246.27" cy="406.06" r="1.15"/><circle class="d" cx="245.27" cy="390.63" r="1.15"/></g><path d="M29.8 379V482.3H248.5" fill="none" stroke="#1a1a1a" stroke-width="0.9"/><text x="28.3" y="483.75" font-size="6.5" text-anchor="end" font-weight="normal" font-style="normal" fill="#222" letter-spacing="0.28">0</text><text x="28.3" y="455.52" font-size="6.5" text-anchor="end" font-weight="normal" font-style="normal" fill="#222" letter-spacing="0.28">250000</text><text x="28.3" y="427.28" font-size="6.5" text-anchor="end" font-weight="normal" font-style="normal" fill="#222" letter-spacing="0.28">500000</text><text x="28.3" y="399.05" font-size="6.5" text-anchor="end" font-weight="normal" font-style="normal" fill="#222" letter-spacing="0.28">750000</text><path class="tk" d="M33 484.2v4.3M35.8 484.2v3.9M38.59 484.2v4.3M41.39 484.2v3.4M44.18 484.2v3.4M46.98 484.2v4.3M49.78 484.2v3.4M52.57 484.2v4.3M55.37 484.2v3.9M58.16 484.2v4.3M60.96 484.2v4.3M63.76 484.2v3.9M66.55 484.2v3.4M69.35 484.2v4.3M72.14 484.2v4.3M74.94 484.2v4.3M77.74 484.2v3.4M80.53 484.2v3.4M83.33 484.2v4.3M86.12 484.2v3.9M88.92 484.2v3.4M91.72 484.2v3.4M94.51 484.2v4.3M97.31 484.2v3.9M100.11 484.2v3.4M102.9 484.2v3.9M105.7 484.2v4.3M108.49 484.2v3.9M111.29 484.2v3.9M114.09 484.2v3.9M116.88 484.2v3.4M119.68 484.2v4.3M122.47 484.2v4.3M125.27 484.2v3.9M128.07 484.2v3.4M130.86 484.2v3.9M133.66 484.2v3.4M136.45 484.2v3.9M139.25 484.2v3.9M142.05 484.2v3.4M144.84 484.2v3.4M147.64 484.2v4.3M150.43 484.2v3.9M153.23 484.2v3.4M156.03 484.2v3.9M158.82 484.2v4.3M161.62 484.2v4.3M164.41 484.2v3.9M167.21 484.2v3.4M170.01 484.2v3.9M172.8 484.2v4.3M175.6 484.2v3.4M178.39 484.2v4.3M181.19 484.2v3.9M183.99 484.2v3.4M186.78 484.2v3.4M189.58 484.2v3.9M192.38 484.2v3.4M195.17 484.2v3.4M197.97 484.2v3.9M200.76 484.2v4.3M203.56 484.2v3.4M206.36 484.2v4.3M209.15 484.2v4.3M211.95 484.2v3.9M214.74 484.2v3.4M217.54 484.2v3.9M220.34 484.2v3.4M223.13 484.2v3.9M225.93 484.2v4.3M228.72 484.2v4.3M231.52 484.2v4.3M234.32 484.2v3.4M237.11 484.2v3.9M239.91 484.2v3.9M242.7 484.2v3.9M245.5 484.2v3.9"/><text x="151" y="378.2" font-size="7.0" text-anchor="middle" font-weight="normal" font-style="normal" fill="#111" >CD8+ Naive CD45RA+ CD27+</text><text x="150" y="495" font-size="7.0" text-anchor="middle" font-weight="normal" font-style="normal" fill="#111" >volunteers ordered by median</text><text x="26.5" y="410.6" font-size="6.8" text-anchor="middle" fill="#111"  transform="rotate(-90 26.5 410.6)">value</text><text x="65" y="386.5" font-size="6.6" text-anchor="middle" font-weight="bold" font-style="italic" fill="#111" >Naive</text><path d="M65 391.6A22.2 22.2 0 1 1 45.05 404.07L48.2 405.61A18.69 18.69 0 1 0 65 395.11Z" fill="#4cba3c"/><path d="M45.05 404.07A22.2 22.2 0 0 1 65 391.6L65 395.11A18.69 18.69 0 0 0 48.2 405.61Z" fill="#6b3a9e"/><circle cx="65" cy="413.8" r="22" fill="none" stroke="#1a1a1a" stroke-width="0.55"/><circle cx="65" cy="413.8" r="18.69" fill="#fff" stroke="#1a1a1a" stroke-width="0.5"/><circle cx="65" cy="413.8" r="17.58" fill="#fff" stroke="#8e8e8e" stroke-width="0.6"/><path class="pw" d="M65 413.8L65 397.11A16.69 16.69 0 0 1 77.97 424.31Z" fill="#2c7fc1"/><path class="pw" d="M65 413.8L77.97 424.31A16.69 16.69 0 0 1 49.04 408.92Z" fill="#5ac8ea"/><path class="pw" d="M65 413.8L49.04 408.92A16.69 16.69 0 0 1 50 406.48Z" fill="#c6c6c6"/><path class="pw" d="M65 413.8L50 406.48A16.69 16.69 0 0 1 65 397.11Z" fill="#e0555a"/><circle cx="65" cy="413.8" r="16.69" fill="none" stroke="#111" stroke-width="0.5"/><text x="59.13" y="434.53" font-size="16" text-anchor="middle" fill="#111">*</text><clipPath id="c205"><rect x="288.5" y="376.5" width="222.5" height="105.8"/></clipPath><g clip-path="url(#c205)"><path class="w" d="M294.91 475.06V475.24M294.91 475.5V475.59"/><path class="w" d="M298.82 469.2V469.2M298.82 470.76V471.44"/><path class="w" d="M302.73 463.26V464.16M302.73 471.87V473.24"/><path class="w" d="M306.64 460.05V460.54M306.64 464.13V466.01"/><path class="w" d="M310.55 462.2V462.7M310.55 467.62V469.96"/><path class="w" d="M314.45 458.6V461.01M314.45 465.69V466.09"/><path class="w" d="M318.36 456.45V459.94M318.36 464.68V467.53"/><path class="w" d="M322.27 460.59V461.76M322.27 464.93V463.21"/><path class="w" d="M326.18 453.03V455.55M326.18 466.89V472.89"/><path class="w" d="M330.09 446.76V453.73M330.09 460.3V461.41"/><path class="w" d="M334 454.71V459.4M334 464.07V467.25"/><path class="w" d="M337.91 453.99V454.67M337.91 458.82V460.86"/><path class="w" d="M341.82 456.74V456.74M341.82 458.81V458.81"/><path class="w" d="M345.73 446.08V452.93M345.73 460.95V465.05"/><path class="w" d="M349.64 463.14V463.52M349.64 466.59V471"/><path class="w" d="M353.55 447.06V450.19M353.55 456.88V457.28"/><path class="w" d="M357.45 437.84V446.3M357.45 459.63V465.63"/><path class="w" d="M361.36 443.51V448.21M361.36 460.38V464.89"/><path class="w" d="M365.27 442.75V448.32M365.27 452.8V456.64"/><path class="w" d="M369.18 449.15V449.15M369.18 453.05V454.46"/><path class="w" d="M373.09 436.4V444.27M373.09 456.6V457.98"/><path class="w" d="M377 452.95V451.98M377 453.14V453.47"/><path class="w" d="M380.91 435.42V439.58M380.91 446.53V452.98"/><path class="w" d="M384.82 454.54V448.64M384.82 460.02V471.19"/><path class="w" d="M388.73 431.94V442.23M388.73 457.91V463.31"/><path class="w" d="M392.64 428.04V438.53M392.64 453.08V453.51"/><path class="w" d="M396.55 428.16V436.35M396.55 450.94V453.03"/><path class="w" d="M400.45 452.78V452.78M400.45 456.03V459.21"/><path class="w" d="M404.36 429.75V432.11M404.36 444.8V455.13"/><path class="w" d="M408.27 439.52V442.42M408.27 447.78V449.08"/><path class="w" d="M412.18 421.43V438.91M412.18 451.71V457.93"/><path class="w" d="M416.09 435.36V435.85M416.09 442.14V447.72"/><path class="w" d="M420 430.21V432.04M420 443.8V447.53"/><path class="w" d="M423.91 417.62V431.76M423.91 445.3V454.93"/><path class="w" d="M427.82 436.35V439.93M427.82 444.56V448.92"/><path class="w" d="M431.73 413.09V427.84M431.73 443.97V445.35"/><path class="w" d="M435.64 424.88V433.5M435.64 442.7V445.34"/><path class="w" d="M439.55 427.29V429.52M439.55 440.32V454.1"/><path class="w" d="M443.45 438.83V438.83M443.45 441.08V441.08"/><path class="w" d="M447.36 419.01V435.14M447.36 449.28V465.3"/><path class="w" d="M451.27 405.99V424.52M451.27 442.35V444.63"/><path class="w" d="M455.18 425.95V432M455.18 441.48V452.98"/><path class="w" d="M459.09 406.06V418.9M459.09 433.64V436.57"/><path class="w" d="M463 420.84V423.03M463 432.71V441.85"/><path class="w" d="M466.91 419.26V419.41M466.91 423.76V425.05"/><path class="w" d="M470.82 418.02V419.09M470.82 423.6V423.91"/><path class="w" d="M474.73 406.16V406.32M474.73 415.33V424.91"/><path class="w" d="M478.64 407.62V411.5M478.64 429.32V436.56"/><path class="w" d="M482.55 406.1V409.17M482.55 415.21V419.36"/><path class="w" d="M486.45 406.73V411.9M486.45 417.39V417.71"/><path class="w" d="M490.36 384.72V402.53M490.36 415.72V424.21"/><path class="w" d="M494.27 398.99V407.73M494.27 418.5V421.62"/><path class="w" d="M498.18 355.44V362.09M498.18 396.55V433.09"/><path class="w" d="M502.09 364.39V392.48M502.09 422.97V425.38"/><path class="w" d="M506 375.84V391.29M506 408.58V414.77"/><rect class="b" x="293.26" y="475.24" width="3.3" height="0.8"/><path class="m" d="M293.26 475.41h3.3"/><rect class="b" x="297.17" y="469.2" width="3.3" height="1.56"/><path class="m" d="M297.17 470.42h3.3"/><rect class="b" x="301.08" y="464.16" width="3.3" height="7.72"/><path class="m" d="M301.08 467.94h3.3"/><rect class="b" x="304.99" y="460.54" width="3.3" height="3.59"/><path class="m" d="M304.99 463.96h3.3"/><rect class="b" x="308.9" y="462.7" width="3.3" height="4.92"/><path class="m" d="M308.9 464.3h3.3"/><rect class="b" x="312.8" y="461.01" width="3.3" height="4.68"/><path class="m" d="M312.8 463.34h3.3"/><rect class="b" x="316.71" y="459.94" width="3.3" height="4.74"/><path class="m" d="M316.71 462.38h3.3"/><rect class="b" x="320.62" y="461.76" width="3.3" height="3.18"/><path class="m" d="M320.62 462.68h3.3"/><rect class="b" x="324.53" y="455.55" width="3.3" height="11.34"/><path class="m" d="M324.53 458.28h3.3"/><rect class="b" x="328.44" y="453.73" width="3.3" height="6.57"/><path class="m" d="M328.44 457.63h3.3"/><rect class="b" x="332.35" y="459.4" width="3.3" height="4.67"/><path class="m" d="M332.35 460.44h3.3"/><rect class="b" x="336.26" y="454.67" width="3.3" height="4.15"/><path class="m" d="M336.26 457.49h3.3"/><rect class="b" x="340.17" y="456.74" width="3.3" height="2.07"/><path class="m" d="M340.17 457.8h3.3"/><rect class="b" x="344.08" y="452.93" width="3.3" height="8.03"/><path class="m" d="M344.08 455.72h3.3"/><rect class="b" x="347.99" y="463.52" width="3.3" height="3.07"/><path class="m" d="M347.99 464.38h3.3"/><rect class="b" x="351.9" y="450.19" width="3.3" height="6.69"/><path class="m" d="M351.9 454.26h3.3"/><rect class="b" x="355.8" y="446.3" width="3.3" height="13.33"/><path class="m" d="M355.8 450.87h3.3"/><rect class="b" x="359.71" y="448.21" width="3.3" height="12.17"/><path class="m" d="M359.71 455.78h3.3"/><rect class="b" x="363.62" y="448.32" width="3.3" height="4.48"/><path class="m" d="M363.62 451.89h3.3"/><rect class="b" x="367.53" y="449.15" width="3.3" height="3.9"/><path class="m" d="M367.53 450.32h3.3"/><rect class="b" x="371.44" y="444.27" width="3.3" height="12.34"/><path class="m" d="M371.44 449.03h3.3"/><rect class="b" x="375.35" y="451.98" width="3.3" height="1.16"/><path class="m" d="M375.35 452.99h3.3"/><rect class="b" x="379.26" y="439.58" width="3.3" height="6.95"/><path class="m" d="M379.26 442.8h3.3"/><rect class="b" x="383.17" y="448.64" width="3.3" height="11.37"/><path class="m" d="M383.17 455.42h3.3"/><rect class="b" x="387.08" y="442.23" width="3.3" height="15.68"/><path class="m" d="M387.08 452.51h3.3"/><rect class="b" x="390.99" y="438.53" width="3.3" height="14.55"/><path class="m" d="M390.99 447.48h3.3"/><rect class="b" x="394.9" y="436.35" width="3.3" height="14.59"/><path class="m" d="M394.9 444.66h3.3"/><rect class="b" x="398.8" y="452.78" width="3.3" height="3.24"/><path class="m" d="M398.8 455.19h3.3"/><rect class="b" x="402.71" y="432.11" width="3.3" height="12.69"/><path class="m" d="M402.71 434.47h3.3"/><rect class="b" x="406.62" y="442.42" width="3.3" height="5.35"/><path class="m" d="M406.62 444.57h3.3"/><rect class="b" x="410.53" y="438.91" width="3.3" height="12.79"/><path class="m" d="M410.53 444.29h3.3"/><rect class="b" x="414.44" y="435.85" width="3.3" height="6.29"/><path class="m" d="M414.44 438.28h3.3"/><rect class="b" x="418.35" y="432.04" width="3.3" height="11.76"/><path class="m" d="M418.35 442.64h3.3"/><rect class="b" x="422.26" y="431.76" width="3.3" height="13.54"/><path class="m" d="M422.26 439.19h3.3"/><rect class="b" x="426.17" y="439.93" width="3.3" height="4.63"/><path class="m" d="M426.17 442.11h3.3"/><rect class="b" x="430.08" y="427.84" width="3.3" height="16.13"/><path class="m" d="M430.08 442.59h3.3"/><rect class="b" x="433.99" y="433.5" width="3.3" height="9.2"/><path class="m" d="M433.99 437.77h3.3"/><rect class="b" x="437.9" y="429.52" width="3.3" height="10.79"/><path class="m" d="M437.9 437.5h3.3"/><rect class="b" x="441.8" y="438.83" width="3.3" height="2.25"/><path class="m" d="M441.8 438.94h3.3"/><rect class="b" x="445.71" y="435.14" width="3.3" height="14.14"/><path class="m" d="M445.71 443.77h3.3"/><rect class="b" x="449.62" y="424.52" width="3.3" height="17.83"/><path class="m" d="M449.62 437.01h3.3"/><rect class="b" x="453.53" y="432" width="3.3" height="9.48"/><path class="m" d="M453.53 433.6h3.3"/><rect class="b" x="457.44" y="418.9" width="3.3" height="14.74"/><path class="m" d="M457.44 432.54h3.3"/><rect class="b" x="461.35" y="423.03" width="3.3" height="9.68"/><path class="m" d="M461.35 427.33h3.3"/><rect class="b" x="465.26" y="419.41" width="3.3" height="4.35"/><path class="m" d="M465.26 419.88h3.3"/><rect class="b" x="469.17" y="419.09" width="3.3" height="4.51"/><path class="m" d="M469.17 422.49h3.3"/><rect class="b" x="473.08" y="406.32" width="3.3" height="9"/><path class="m" d="M473.08 407.66h3.3"/><rect class="b" x="476.99" y="411.5" width="3.3" height="17.82"/><path class="m" d="M476.99 419.85h3.3"/><rect class="b" x="480.9" y="409.17" width="3.3" height="6.04"/><path class="m" d="M480.9 413.09h3.3"/><rect class="b" x="484.8" y="411.9" width="3.3" height="5.49"/><path class="m" d="M484.8 417.08h3.3"/><rect class="b" x="488.71" y="402.53" width="3.3" height="13.19"/><path class="m" d="M488.71 408.7h3.3"/><rect class="b" x="492.62" y="407.73" width="3.3" height="10.77"/><path class="m" d="M492.62 414.06h3.3"/><rect class="b" x="496.53" y="362.09" width="3.3" height="34.46"/><path class="m" d="M496.53 378.54h3.3"/><rect class="b" x="500.44" y="392.48" width="3.3" height="30.5"/><path class="m" d="M500.44 420.56h3.3"/><rect class="b" x="504.35" y="391.29" width="3.3" height="17.29"/><path class="m" d="M504.35 403.3h3.3"/><circle class="d" cx="291.73" cy="476.81" r="1.15"/><circle class="d" cx="291.13" cy="476.11" r="1.15"/><circle class="d" cx="295.25" cy="475.59" r="1.15"/><circle class="d" cx="295.71" cy="475.41" r="1.15"/><circle class="d" cx="295.68" cy="475.06" r="1.15"/><circle class="d" cx="299.52" cy="471.44" r="1.15"/><circle class="d" cx="299.58" cy="470.76" r="1.15"/><circle class="d" cx="298.9" cy="470.42" r="1.15"/><circle class="d" cx="299.17" cy="469.2" r="1.15"/><circle class="d" cx="298.43" cy="463.35" r="1.15"/><circle class="d" cx="302.34" cy="473.24" r="1.15"/><circle class="d" cx="302.41" cy="471.42" r="1.15"/><circle class="d" cx="302.53" cy="464.45" r="1.15"/><circle class="d" cx="302.58" cy="463.26" r="1.15"/><circle class="d" cx="306.09" cy="466.01" r="1.15"/><circle class="d" cx="306.71" cy="464.13" r="1.15"/><circle class="d" cx="306.27" cy="463.96" r="1.15"/><circle class="d" cx="306.8" cy="460.54" r="1.15"/><circle class="d" cx="306.37" cy="460.05" r="1.15"/><circle class="d" cx="310.62" cy="469.96" r="1.15"/><circle class="d" cx="310.34" cy="467.62" r="1.15"/><circle class="d" cx="311.22" cy="464.3" r="1.15"/><circle class="d" cx="310.49" cy="462.7" r="1.15"/><circle class="d" cx="310.51" cy="462.2" r="1.15"/><circle class="d" cx="314.03" cy="466.09" r="1.15"/><circle class="d" cx="314.97" cy="465.69" r="1.15"/><circle class="d" cx="313.88" cy="463.34" r="1.15"/><circle class="d" cx="315.15" cy="461.01" r="1.15"/><circle class="d" cx="315.22" cy="458.6" r="1.15"/><circle class="d" cx="318.93" cy="467.53" r="1.15"/><circle class="d" cx="317.69" cy="465.02" r="1.15"/><circle class="d" cx="317.83" cy="464.57" r="1.15"/><circle class="d" cx="319.12" cy="463.48" r="1.15"/><circle class="d" cx="318.8" cy="461.28" r="1.15"/><circle class="d" cx="318.38" cy="460.58" r="1.15"/><circle class="d" cx="319.09" cy="458.03" r="1.15"/><circle class="d" cx="318.58" cy="456.45" r="1.15"/><circle class="d" cx="321.57" cy="470.1" r="1.15"/><circle class="d" cx="321.54" cy="463.21" r="1.15"/><circle class="d" cx="322.03" cy="462.15" r="1.15"/><circle class="d" cx="321.92" cy="460.59" r="1.15"/><circle class="d" cx="325.39" cy="472.89" r="1.15"/><circle class="d" cx="326.23" cy="469.09" r="1.15"/><circle class="d" cx="326.72" cy="466.15" r="1.15"/><circle class="d" cx="325.92" cy="460.34" r="1.15"/><circle class="d" cx="326.71" cy="456.21" r="1.15"/><circle class="d" cx="325.54" cy="456.12" r="1.15"/><circle class="d" cx="326.61" cy="453.85" r="1.15"/><circle class="d" cx="325.51" cy="453.03" r="1.15"/><circle class="d" cx="330.54" cy="461.41" r="1.15"/><circle class="d" cx="329.61" cy="460.8" r="1.15"/><circle class="d" cx="329.38" cy="460.13" r="1.15"/><circle class="d" cx="329.54" cy="458.67" r="1.15"/><circle class="d" cx="330.2" cy="456.58" r="1.15"/><circle class="d" cx="329.34" cy="455.12" r="1.15"/><circle class="d" cx="330.4" cy="449.56" r="1.15"/><circle class="d" cx="329.35" cy="446.76" r="1.15"/><circle class="d" cx="333.4" cy="467.25" r="1.15"/><circle class="d" cx="334.04" cy="464.07" r="1.15"/><circle class="d" cx="333.26" cy="460.44" r="1.15"/><circle class="d" cx="334.53" cy="459.4" r="1.15"/><circle class="d" cx="333.9" cy="454.71" r="1.15"/><circle class="d" cx="338.69" cy="460.86" r="1.15"/><circle class="d" cx="338.21" cy="459" r="1.15"/><circle class="d" cx="337.55" cy="458.64" r="1.15"/><circle class="d" cx="337.84" cy="457.49" r="1.15"/><circle class="d" cx="338.19" cy="454.84" r="1.15"/><circle class="d" cx="337.59" cy="454.49" r="1.15"/><circle class="d" cx="338.04" cy="453.99" r="1.15"/><circle class="d" cx="342.03" cy="462" r="1.15"/><circle class="d" cx="341.12" cy="458.81" r="1.15"/><circle class="d" cx="342.41" cy="457.8" r="1.15"/><circle class="d" cx="341.45" cy="456.74" r="1.15"/><circle class="d" cx="342.02" cy="450.32" r="1.15"/><circle class="d" cx="345.49" cy="465.05" r="1.15"/><circle class="d" cx="345.75" cy="461.49" r="1.15"/><circle class="d" cx="346.34" cy="460.41" r="1.15"/><circle class="d" cx="345.43" cy="455.72" r="1.15"/><circle class="d" cx="345.02" cy="453.95" r="1.15"/><circle class="d" cx="346.35" cy="451.9" r="1.15"/><circle class="d" cx="345.91" cy="446.08" r="1.15"/><circle class="d" cx="349.96" cy="471" r="1.15"/><circle class="d" cx="349.53" cy="465.12" r="1.15"/><circle class="d" cx="350.34" cy="463.64" r="1.15"/><circle class="d" cx="348.98" cy="463.14" r="1.15"/><circle class="d" cx="354.03" cy="457.28" r="1.15"/><circle class="d" cx="353.9" cy="457.25" r="1.15"/><circle class="d" cx="353.09" cy="456.76" r="1.15"/><circle class="d" cx="354.05" cy="454.79" r="1.15"/><circle class="d" cx="352.91" cy="453.73" r="1.15"/><circle class="d" cx="352.91" cy="450.26" r="1.15"/><circle class="d" cx="353.61" cy="449.97" r="1.15"/><circle class="d" cx="353.72" cy="447.06" r="1.15"/><circle class="d" cx="357.31" cy="465.63" r="1.15"/><circle class="d" cx="357.08" cy="462.81" r="1.15"/><circle class="d" cx="357.74" cy="458.57" r="1.15"/><circle class="d" cx="356.77" cy="452.44" r="1.15"/><circle class="d" cx="358.02" cy="449.3" r="1.15"/><circle class="d" cx="357.95" cy="448.27" r="1.15"/><circle class="d" cx="357.7" cy="440.39" r="1.15"/><circle class="d" cx="357.81" cy="437.84" r="1.15"/><circle class="d" cx="361.56" cy="464.89" r="1.15"/><circle class="d" cx="360.61" cy="462.94" r="1.15"/><circle class="d" cx="360.92" cy="457.82" r="1.15"/><circle class="d" cx="362.03" cy="455.78" r="1.15"/><circle class="d" cx="360.95" cy="451.62" r="1.15"/><circle class="d" cx="360.98" cy="444.81" r="1.15"/><circle class="d" cx="361.85" cy="443.51" r="1.15"/><circle class="d" cx="365.83" cy="456.64" r="1.15"/><circle class="d" cx="364.75" cy="453.4" r="1.15"/><circle class="d" cx="364.5" cy="452.6" r="1.15"/><circle class="d" cx="365.93" cy="452.24" r="1.15"/><circle class="d" cx="365.27" cy="451.54" r="1.15"/><circle class="d" cx="365.63" cy="448.41" r="1.15"/><circle class="d" cx="364.92" cy="448.06" r="1.15"/><circle class="d" cx="366" cy="442.75" r="1.15"/><circle class="d" cx="369.61" cy="454.46" r="1.15"/><circle class="d" cx="369.72" cy="453.05" r="1.15"/><circle class="d" cx="368.39" cy="450.32" r="1.15"/><circle class="d" cx="368.62" cy="449.15" r="1.15"/><circle class="d" cx="369.44" cy="440.46" r="1.15"/><circle class="d" cx="373.26" cy="457.98" r="1.15"/><circle class="d" cx="373.38" cy="457.84" r="1.15"/><circle class="d" cx="373.24" cy="456.19" r="1.15"/><circle class="d" cx="373.7" cy="449.24" r="1.15"/><circle class="d" cx="373.78" cy="448.83" r="1.15"/><circle class="d" cx="372.83" cy="446.86" r="1.15"/><circle class="d" cx="373.66" cy="436.48" r="1.15"/><circle class="d" cx="372.58" cy="436.4" r="1.15"/><circle class="d" cx="376.74" cy="453.47" r="1.15"/><circle class="d" cx="377.69" cy="453.03" r="1.15"/><circle class="d" cx="377.42" cy="452.95" r="1.15"/><circle class="d" cx="377.64" cy="449.06" r="1.15"/><circle class="d" cx="380.78" cy="452.98" r="1.15"/><circle class="d" cx="381.1" cy="446.53" r="1.15"/><circle class="d" cx="381.2" cy="442.8" r="1.15"/><circle class="d" cx="381.02" cy="439.58" r="1.15"/><circle class="d" cx="381.42" cy="435.42" r="1.15"/><circle class="d" cx="385.5" cy="471.19" r="1.15"/><circle class="d" cx="384.46" cy="456.29" r="1.15"/><circle class="d" cx="384.93" cy="454.54" r="1.15"/><circle class="d" cx="384.73" cy="430.94" r="1.15"/><circle class="d" cx="388.67" cy="463.31" r="1.15"/><circle class="d" cx="389.02" cy="452.51" r="1.15"/><circle class="d" cx="389.34" cy="431.94" r="1.15"/><circle class="d" cx="393.04" cy="453.51" r="1.15"/><circle class="d" cx="393.06" cy="452.94" r="1.15"/><circle class="d" cx="393.4" cy="442.03" r="1.15"/><circle class="d" cx="392.82" cy="428.04" r="1.15"/><circle class="d" cx="397.07" cy="453.03" r="1.15"/><circle class="d" cx="397.15" cy="450.24" r="1.15"/><circle class="d" cx="396.74" cy="439.08" r="1.15"/><circle class="d" cx="396.97" cy="428.16" r="1.15"/><circle class="d" cx="399.81" cy="459.21" r="1.15"/><circle class="d" cx="400.74" cy="456.03" r="1.15"/><circle class="d" cx="400.99" cy="455.19" r="1.15"/><circle class="d" cx="400.71" cy="452.78" r="1.15"/><circle class="d" cx="401.15" cy="425.68" r="1.15"/><circle class="d" cx="403.64" cy="455.13" r="1.15"/><circle class="d" cx="404.23" cy="434.47" r="1.15"/><circle class="d" cx="404.8" cy="429.75" r="1.15"/><circle class="d" cx="407.66" cy="449.08" r="1.15"/><circle class="d" cx="407.68" cy="448.25" r="1.15"/><circle class="d" cx="407.77" cy="446.35" r="1.15"/><circle class="d" cx="407.9" cy="442.8" r="1.15"/><circle class="d" cx="408.45" cy="442.3" r="1.15"/><circle class="d" cx="408.16" cy="439.52" r="1.15"/><circle class="d" cx="411.85" cy="457.93" r="1.15"/><circle class="d" cx="412.16" cy="455.46" r="1.15"/><circle class="d" cx="412.79" cy="447.95" r="1.15"/><circle class="d" cx="412.81" cy="444.29" r="1.15"/><circle class="d" cx="412.05" cy="440.78" r="1.15"/><circle class="d" cx="411.69" cy="437.04" r="1.15"/><circle class="d" cx="412.34" cy="421.43" r="1.15"/><circle class="d" cx="415.4" cy="447.72" r="1.15"/><circle class="d" cx="415.71" cy="443.1" r="1.15"/><circle class="d" cx="416.05" cy="439.24" r="1.15"/><circle class="d" cx="416.87" cy="437.31" r="1.15"/><circle class="d" cx="416.56" cy="435.36" r="1.15"/><circle class="d" cx="415.39" cy="423.23" r="1.15"/><circle class="d" cx="419.31" cy="447.53" r="1.15"/><circle class="d" cx="420.11" cy="444.22" r="1.15"/><circle class="d" cx="419.72" cy="443.37" r="1.15"/><circle class="d" cx="420.57" cy="442.64" r="1.15"/><circle class="d" cx="419.82" cy="432.7" r="1.15"/><circle class="d" cx="420.44" cy="431.37" r="1.15"/><circle class="d" cx="419.62" cy="430.21" r="1.15"/><circle class="d" cx="424.05" cy="454.93" r="1.15"/><circle class="d" cx="423.38" cy="445.63" r="1.15"/><circle class="d" cx="423.64" cy="444.32" r="1.15"/><circle class="d" cx="424.62" cy="434.06" r="1.15"/><circle class="d" cx="424.07" cy="430.99" r="1.15"/><circle class="d" cx="423.28" cy="417.62" r="1.15"/><circle class="d" cx="428.55" cy="448.92" r="1.15"/><circle class="d" cx="427.64" cy="443.1" r="1.15"/><circle class="d" cx="427.55" cy="441.12" r="1.15"/><circle class="d" cx="427.25" cy="436.35" r="1.15"/><circle class="d" cx="432.25" cy="445.35" r="1.15"/><circle class="d" cx="432.52" cy="442.59" r="1.15"/><circle class="d" cx="431.81" cy="413.09" r="1.15"/><circle class="d" cx="435.39" cy="458.71" r="1.15"/><circle class="d" cx="435.27" cy="445.34" r="1.15"/><circle class="d" cx="436.08" cy="441.82" r="1.15"/><circle class="d" cx="435.54" cy="439.58" r="1.15"/><circle class="d" cx="435.44" cy="435.95" r="1.15"/><circle class="d" cx="435.08" cy="435.57" r="1.15"/><circle class="d" cx="436.37" cy="427.29" r="1.15"/><circle class="d" cx="434.89" cy="424.88" r="1.15"/><circle class="d" cx="439.14" cy="454.1" r="1.15"/><circle class="d" cx="438.85" cy="440.83" r="1.15"/><circle class="d" cx="440.24" cy="438.77" r="1.15"/><circle class="d" cx="439.88" cy="436.23" r="1.15"/><circle class="d" cx="439.02" cy="427.29" r="1.15"/><circle class="d" cx="440.01" cy="406.19" r="1.15"/><circle class="d" cx="442.67" cy="446.71" r="1.15"/><circle class="d" cx="442.98" cy="441.08" r="1.15"/><circle class="d" cx="443.73" cy="438.94" r="1.15"/><circle class="d" cx="443.5" cy="438.83" r="1.15"/><circle class="d" cx="443.01" cy="425.75" r="1.15"/><circle class="d" cx="446.9" cy="465.3" r="1.15"/><circle class="d" cx="447.52" cy="450.59" r="1.15"/><circle class="d" cx="446.97" cy="448.85" r="1.15"/><circle class="d" cx="446.94" cy="447.93" r="1.15"/><circle class="d" cx="447.04" cy="439.61" r="1.15"/><circle class="d" cx="446.78" cy="435.44" r="1.15"/><circle class="d" cx="447.29" cy="434.23" r="1.15"/><circle class="d" cx="447.59" cy="419.01" r="1.15"/><circle class="d" cx="451.3" cy="444.63" r="1.15"/><circle class="d" cx="451.47" cy="443.43" r="1.15"/><circle class="d" cx="451.44" cy="439.11" r="1.15"/><circle class="d" cx="450.86" cy="434.9" r="1.15"/><circle class="d" cx="451.42" cy="421.06" r="1.15"/><circle class="d" cx="452.01" cy="405.99" r="1.15"/><circle class="d" cx="455.41" cy="452.98" r="1.15"/><circle class="d" cx="455.3" cy="443.89" r="1.15"/><circle class="d" cx="455.25" cy="434.26" r="1.15"/><circle class="d" cx="455.42" cy="432.95" r="1.15"/><circle class="d" cx="454.5" cy="431.69" r="1.15"/><circle class="d" cx="455.8" cy="425.95" r="1.15"/><circle class="d" cx="458.98" cy="436.57" r="1.15"/><circle class="d" cx="458.96" cy="434.21" r="1.15"/><circle class="d" cx="459.72" cy="433.06" r="1.15"/><circle class="d" cx="459.6" cy="432.54" r="1.15"/><circle class="d" cx="459.41" cy="423.25" r="1.15"/><circle class="d" cx="458.91" cy="414.54" r="1.15"/><circle class="d" cx="458.59" cy="406.06" r="1.15"/><circle class="d" cx="463.14" cy="454.35" r="1.15"/><circle class="d" cx="462.77" cy="441.85" r="1.15"/><circle class="d" cx="463.68" cy="429.66" r="1.15"/><circle class="d" cx="463.21" cy="428.36" r="1.15"/><circle class="d" cx="462.98" cy="426.3" r="1.15"/><circle class="d" cx="463.09" cy="423.75" r="1.15"/><circle class="d" cx="463.79" cy="420.84" r="1.15"/><circle class="d" cx="463.66" cy="398.74" r="1.15"/><circle class="d" cx="466.89" cy="452.17" r="1.15"/><circle class="d" cx="467.49" cy="425.05" r="1.15"/><circle class="d" cx="467.14" cy="419.9" r="1.15"/><circle class="d" cx="466.64" cy="419.87" r="1.15"/><circle class="d" cx="467.1" cy="419.26" r="1.15"/><circle class="d" cx="466.89" cy="403.3" r="1.15"/><circle class="d" cx="470.74" cy="444.8" r="1.15"/><circle class="d" cx="470.1" cy="423.91" r="1.15"/><circle class="d" cx="471.36" cy="422.67" r="1.15"/><circle class="d" cx="470.86" cy="422.3" r="1.15"/><circle class="d" cx="470.56" cy="418.02" r="1.15"/><circle class="d" cx="470.42" cy="405.24" r="1.15"/><circle class="d" cx="474.22" cy="424.91" r="1.15"/><circle class="d" cx="475.49" cy="417.6" r="1.15"/><circle class="d" cx="474.03" cy="408.51" r="1.15"/><circle class="d" cx="474.13" cy="406.82" r="1.15"/><circle class="d" cx="473.98" cy="406.16" r="1.15"/><circle class="d" cx="474.36" cy="390.41" r="1.15"/><circle class="d" cx="478.81" cy="436.56" r="1.15"/><circle class="d" cx="478.12" cy="426.91" r="1.15"/><circle class="d" cx="479.28" cy="412.79" r="1.15"/><circle class="d" cx="478.9" cy="407.62" r="1.15"/><circle class="d" cx="483.03" cy="419.36" r="1.15"/><circle class="d" cx="482.55" cy="415.6" r="1.15"/><circle class="d" cx="482.94" cy="414.82" r="1.15"/><circle class="d" cx="482.99" cy="413.09" r="1.15"/><circle class="d" cx="482.11" cy="409.24" r="1.15"/><circle class="d" cx="483.03" cy="409.1" r="1.15"/><circle class="d" cx="482.46" cy="406.1" r="1.15"/><circle class="d" cx="486.54" cy="417.71" r="1.15"/><circle class="d" cx="486.31" cy="417.08" r="1.15"/><circle class="d" cx="486.67" cy="406.73" r="1.15"/><circle class="d" cx="489.65" cy="424.21" r="1.15"/><circle class="d" cx="490.66" cy="418.54" r="1.15"/><circle class="d" cx="489.91" cy="412.9" r="1.15"/><circle class="d" cx="491.12" cy="408.7" r="1.15"/><circle class="d" cx="490.18" cy="407.08" r="1.15"/><circle class="d" cx="489.61" cy="397.97" r="1.15"/><circle class="d" cx="490.32" cy="384.72" r="1.15"/><circle class="d" cx="494.74" cy="421.62" r="1.15"/><circle class="d" cx="494.09" cy="417.47" r="1.15"/><circle class="d" cx="494.94" cy="410.64" r="1.15"/><circle class="d" cx="494.15" cy="398.99" r="1.15"/><circle class="d" cx="498.3" cy="433.09" r="1.15"/><circle class="d" cx="498.67" cy="405.21" r="1.15"/><circle class="d" cx="497.88" cy="387.9" r="1.15"/><circle class="d" cx="498.15" cy="378.54" r="1.15"/><circle class="d" cx="502.48" cy="425.38" r="1.15"/><circle class="d" cx="502.26" cy="420.56" r="1.15"/><circle class="d" cx="505.31" cy="414.77" r="1.15"/><circle class="d" cx="505.73" cy="413.45" r="1.15"/><circle class="d" cx="506.47" cy="406.96" r="1.15"/><circle class="d" cx="506.67" cy="405.24" r="1.15"/><circle class="d" cx="506.68" cy="401.36" r="1.15"/><circle class="d" cx="506.37" cy="393.34" r="1.15"/><circle class="d" cx="505.54" cy="385.14" r="1.15"/></g><path d="M288.5 379.5V482.3H509" fill="none" stroke="#1a1a1a" stroke-width="0.9"/><text x="286.8" y="480.55" font-size="6.5" text-anchor="end" font-weight="normal" font-style="normal" fill="#222" letter-spacing="0.28">0e+00</text><text x="286.8" y="445.7" font-size="6.5" text-anchor="end" font-weight="normal" font-style="normal" fill="#222" letter-spacing="0.28">1e+05</text><text x="286.8" y="410.85" font-size="6.5" text-anchor="end" font-weight="normal" font-style="normal" fill="#222" letter-spacing="0.28">2e+05</text><path class="tk" d="M291 484.2v3.9M293.79 484.2v3.4M296.58 484.2v3.9M299.38 484.2v3.4M302.17 484.2v3.9M304.96 484.2v3.9M307.75 484.2v3.9M310.55 484.2v4.3M313.34 484.2v4.3M316.13 484.2v3.4M318.92 484.2v4.3M321.71 484.2v3.9M324.51 484.2v3.9M327.3 484.2v4.3M330.09 484.2v3.9M332.88 484.2v3.4M335.68 484.2v4.3M338.47 484.2v3.9M341.26 484.2v4.3M344.05 484.2v4.3M346.84 484.2v4.3M349.64 484.2v3.4M352.43 484.2v3.4M355.22 484.2v3.9M358.01 484.2v4.3M360.81 484.2v4.3M363.6 484.2v3.4M366.39 484.2v4.3M369.18 484.2v3.4M371.97 484.2v4.3M374.77 484.2v4.3M377.56 484.2v3.4M380.35 484.2v4.3M383.14 484.2v4.3M385.94 484.2v4.3M388.73 484.2v4.3M391.52 484.2v4.3M394.31 484.2v4.3M397.1 484.2v4.3M399.9 484.2v3.4M402.69 484.2v3.9M405.48 484.2v3.9M408.27 484.2v4.3M411.06 484.2v3.9M413.86 484.2v3.9M416.65 484.2v3.4M419.44 484.2v4.3M422.23 484.2v3.9M425.03 484.2v3.9M427.82 484.2v3.9M430.61 484.2v4.3M433.4 484.2v3.9M436.19 484.2v4.3M438.99 484.2v3.9M441.78 484.2v3.9M444.57 484.2v3.9M447.36 484.2v4.3M450.16 484.2v4.3M452.95 484.2v4.3M455.74 484.2v3.4M458.53 484.2v3.4M461.32 484.2v3.9M464.12 484.2v3.4M466.91 484.2v3.9M469.7 484.2v3.9M472.49 484.2v3.9M475.29 484.2v3.9M478.08 484.2v3.4M480.87 484.2v3.4M483.66 484.2v4.3M486.45 484.2v3.4M489.25 484.2v3.9M492.04 484.2v4.3M494.83 484.2v3.4M497.62 484.2v3.9M500.42 484.2v4.3M503.21 484.2v3.9M506 484.2v3.9"/><text x="411" y="378.2" font-size="7.0" text-anchor="middle" font-weight="normal" font-style="normal" fill="#111" >CD8+ CM CD45RA- CD27+</text><text x="411" y="495" font-size="7.0" text-anchor="middle" font-weight="normal" font-style="normal" fill="#111" >volunteers ordered by median</text><text x="285.1" y="426.3" font-size="6.8" text-anchor="middle" fill="#111"  transform="rotate(-90 285.1 426.3)">value</text><text x="322" y="374.5" font-size="6.6" text-anchor="middle" font-weight="bold" font-style="italic" fill="#111" >Central</text><text x="322" y="383.7" font-size="6.6" text-anchor="middle" font-weight="bold" font-style="italic" fill="#111" >Memory</text><path d="M322.3 390.1A22.2 22.2 0 1 1 300.22 414.62L303.71 414.25A18.69 18.69 0 1 0 322.3 393.61Z" fill="#4cba3c"/><path d="M300.22 414.62A22.2 22.2 0 0 1 322.3 390.1L322.3 393.61A18.69 18.69 0 0 0 303.71 414.25Z" fill="#6b3a9e"/><circle cx="322.3" cy="412.3" r="22" fill="none" stroke="#1a1a1a" stroke-width="0.55"/><circle cx="322.3" cy="412.3" r="18.69" fill="#fff" stroke="#1a1a1a" stroke-width="0.5"/><circle cx="322.3" cy="412.3" r="17.58" fill="#fff" stroke="#8e8e8e" stroke-width="0.6"/><path class="pw" d="M322.3 412.3L322.3 395.61A16.69 16.69 0 1 1 306.1 416.34Z" fill="#2c7fc1"/><path class="pw" d="M322.3 412.3L306.1 416.34A16.69 16.69 0 0 1 305.91 415.49Z" fill="#5ac8ea"/><path class="pw" d="M322.3 412.3L305.91 415.49A16.69 16.69 0 0 1 305.7 414.05Z" fill="#66c49c"/><path class="pw" d="M322.3 412.3L305.7 414.05A16.69 16.69 0 0 1 305.61 412.59Z" fill="#f4ea48"/><path class="pw" d="M322.3 412.3L305.61 412.59A16.69 16.69 0 0 1 322.3 395.61Z" fill="#e0555a"/><circle cx="322.3" cy="412.3" r="16.69" fill="none" stroke="#111" stroke-width="0.5"/><clipPath id="c301"><rect x="29.9" y="504.8" width="221.1" height="106.4"/></clipPath><g clip-path="url(#c301)"><path class="w" d="M33 604.95V605.33M33 605.62V605.69"/><path class="w" d="M36.87 604.57V605.02M36.87 605.52V605.68"/><path class="w" d="M40.75 605.03V605.1M40.75 605.17V605.17"/><path class="w" d="M44.62 604.58V604.68M44.62 605.02V605.49"/><path class="w" d="M48.49 603.91V604.16M48.49 604.63V604.85"/><path class="w" d="M52.36 604.19V604.28M52.36 604.52V604.76"/><path class="w" d="M56.24 603.93V603.93M56.24 604.36V604.78"/><path class="w" d="M60.11 603.51V603.97M60.11 604.83V604.85"/><path class="w" d="M63.98 602.91V602.92M63.98 604.12V604.13"/><path class="w" d="M67.85 603.44V603.57M67.85 604V604.63"/><path class="w" d="M71.73 601.68V602.45M71.73 604.01V604.43"/><path class="w" d="M75.6 602.22V602.3M75.6 603.25V604.24"/><path class="w" d="M79.47 602.18V602.31M79.47 604.05V604.37"/><path class="w" d="M83.35 601.7V602.17M83.35 603.91V604.18"/><path class="w" d="M87.22 601.68V601.86M87.22 602.08V602.12"/><path class="w" d="M91.09 600.8V601.11M91.09 601.79V601.27"/><path class="w" d="M94.96 601.3V601.55M94.96 602.46V603.55"/><path class="w" d="M98.84 600.87V601.79M98.84 603.27V603.74"/><path class="w" d="M102.71 597.92V598.85M102.71 600.01V600.24"/><path class="w" d="M106.58 597.59V600.26M106.58 602.3V604.25"/><path class="w" d="M110.45 602.36V601.66M110.45 602.8V603.58"/><path class="w" d="M114.33 598.47V599.5M114.33 600.85V601.2"/><path class="w" d="M118.2 600.14V600.14M118.2 600.46V600.85"/><path class="w" d="M122.07 598.13V598.63M122.07 602.86V604.19"/><path class="w" d="M125.95 595.23V597.01M125.95 599.28V599.76"/><path class="w" d="M129.82 598.2V599.15M129.82 600.32V600.55"/><path class="w" d="M133.69 595.7V596.99M133.69 600.35V603.04"/><path class="w" d="M137.56 595.87V597.09M137.56 598.78V598.78"/><path class="w" d="M141.44 598.94V599.43M141.44 601.34V601.48"/><path class="w" d="M145.31 598.35V598.48M145.31 599.68V600.44"/><path class="w" d="M149.18 590.08V595.26M149.18 600.93V601.42"/><path class="w" d="M153.05 594.86V595.54M153.05 597.56V598.9"/><path class="w" d="M156.93 595.96V596.87M156.93 598.49V599.19"/><path class="w" d="M160.8 593.45V593.45M160.8 595.09V597.15"/><path class="w" d="M164.67 589.59V593.38M164.67 596.11V599.88"/><path class="w" d="M168.55 590.74V592.24M168.55 597.48V598.44"/><path class="w" d="M172.42 586.65V591.06M172.42 595.3V596.72"/><path class="w" d="M176.29 592.14V594.21M176.29 597.6V597.6"/><path class="w" d="M180.16 584.75V589.83M180.16 594.3V598.99"/><path class="w" d="M184.04 583.96V591.19M184.04 598.04V604.93"/><path class="w" d="M187.91 582.68V587.68M187.91 596.22V600.38"/><path class="w" d="M191.78 589.67V590.01M191.78 596.2V598.66"/><path class="w" d="M195.65 582V584.62M195.65 591.74V595.53"/><path class="w" d="M199.53 586.31V589.22M199.53 591.22V591.44"/><path class="w" d="M203.4 575.18V576.7M203.4 585.44V592.65"/><path class="w" d="M207.27 573.1V579.38M207.27 593.26V598.71"/><path class="w" d="M211.15 588.15V590.43M211.15 593.3V594.84"/><path class="w" d="M215.02 579.79V579.87M215.02 585.96V591.96"/><path class="w" d="M218.89 574.67V578.82M218.89 585.86V587.38"/><path class="w" d="M222.76 572.23V579.53M222.76 585.81V590.61"/><path class="w" d="M226.64 558.77V562.83M226.64 579.42V591.96"/><path class="w" d="M230.51 567.6V573.59M230.51 583.21V585.47"/><path class="w" d="M234.38 556.34V562.04M234.38 569.16V570.61"/><path class="w" d="M238.25 556.61V557.01M238.25 571.75V577.09"/><path class="w" d="M242.13 563.81V565.65M242.13 575.89V578.21"/><path class="w" d="M246 529.68V530.44M246 537.27V538.18"/><rect class="b" x="31.35" y="605.33" width="3.3" height="0.8"/><path class="m" d="M31.35 605.41h3.3"/><rect class="b" x="35.22" y="605.02" width="3.3" height="0.8"/><path class="m" d="M35.22 605.25h3.3"/><rect class="b" x="39.1" y="605.1" width="3.3" height="0.8"/><path class="m" d="M39.1 605.17h3.3"/><rect class="b" x="42.97" y="604.68" width="3.3" height="0.8"/><path class="m" d="M42.97 604.89h3.3"/><rect class="b" x="46.84" y="604.16" width="3.3" height="0.8"/><path class="m" d="M46.84 604.41h3.3"/><rect class="b" x="50.71" y="604.28" width="3.3" height="0.8"/><path class="m" d="M50.71 604.37h3.3"/><rect class="b" x="54.59" y="603.93" width="3.3" height="0.8"/><path class="m" d="M54.59 603.93h3.3"/><rect class="b" x="58.46" y="603.97" width="3.3" height="0.85"/><path class="m" d="M58.46 604.67h3.3"/><rect class="b" x="62.33" y="602.92" width="3.3" height="1.2"/><path class="m" d="M62.33 603.52h3.3"/><rect class="b" x="66.2" y="603.57" width="3.3" height="0.8"/><path class="m" d="M66.2 603.73h3.3"/><rect class="b" x="70.08" y="602.45" width="3.3" height="1.56"/><path class="m" d="M70.08 602.85h3.3"/><rect class="b" x="73.95" y="602.3" width="3.3" height="0.95"/><path class="m" d="M73.95 602.9h3.3"/><rect class="b" x="77.82" y="602.31" width="3.3" height="1.74"/><path class="m" d="M77.82 603.29h3.3"/><rect class="b" x="81.7" y="602.17" width="3.3" height="1.74"/><path class="m" d="M81.7 603.07h3.3"/><rect class="b" x="85.57" y="601.86" width="3.3" height="0.8"/><path class="m" d="M85.57 602.03h3.3"/><rect class="b" x="89.44" y="601.11" width="3.3" height="0.8"/><path class="m" d="M89.44 601.24h3.3"/><rect class="b" x="93.31" y="601.55" width="3.3" height="0.91"/><path class="m" d="M93.31 602.14h3.3"/><rect class="b" x="97.19" y="601.79" width="3.3" height="1.48"/><path class="m" d="M97.19 602.73h3.3"/><rect class="b" x="101.06" y="598.85" width="3.3" height="1.16"/><path class="m" d="M101.06 599.77h3.3"/><rect class="b" x="104.93" y="600.26" width="3.3" height="2.04"/><path class="m" d="M104.93 602.27h3.3"/><rect class="b" x="108.8" y="601.66" width="3.3" height="1.15"/><path class="m" d="M108.8 602.45h3.3"/><rect class="b" x="112.68" y="599.5" width="3.3" height="1.34"/><path class="m" d="M112.68 600.45h3.3"/><rect class="b" x="116.55" y="600.14" width="3.3" height="0.8"/><path class="m" d="M116.55 600.23h3.3"/><rect class="b" x="120.42" y="598.63" width="3.3" height="4.22"/><path class="m" d="M120.42 599.91h3.3"/><rect class="b" x="124.3" y="597.01" width="3.3" height="2.26"/><path class="m" d="M124.3 598.79h3.3"/><rect class="b" x="128.17" y="599.15" width="3.3" height="1.17"/><path class="m" d="M128.17 600.1h3.3"/><rect class="b" x="132.04" y="596.99" width="3.3" height="3.36"/><path class="m" d="M132.04 598.22h3.3"/><rect class="b" x="135.91" y="597.09" width="3.3" height="1.69"/><path class="m" d="M135.91 597.6h3.3"/><rect class="b" x="139.79" y="599.43" width="3.3" height="1.91"/><path class="m" d="M139.79 600.45h3.3"/><rect class="b" x="143.66" y="598.48" width="3.3" height="1.2"/><path class="m" d="M143.66 598.97h3.3"/><rect class="b" x="147.53" y="595.26" width="3.3" height="5.67"/><path class="m" d="M147.53 600.44h3.3"/><rect class="b" x="151.4" y="595.54" width="3.3" height="2.02"/><path class="m" d="M151.4 596.23h3.3"/><rect class="b" x="155.28" y="596.87" width="3.3" height="1.61"/><path class="m" d="M155.28 597.78h3.3"/><rect class="b" x="159.15" y="593.45" width="3.3" height="1.64"/><path class="m" d="M159.15 594.51h3.3"/><rect class="b" x="163.02" y="593.38" width="3.3" height="2.73"/><path class="m" d="M163.02 595.13h3.3"/><rect class="b" x="166.9" y="592.24" width="3.3" height="5.23"/><path class="m" d="M166.9 595.48h3.3"/><rect class="b" x="170.77" y="591.06" width="3.3" height="4.24"/><path class="m" d="M170.77 593.88h3.3"/><rect class="b" x="174.64" y="594.21" width="3.3" height="3.39"/><path class="m" d="M174.64 596.24h3.3"/><rect class="b" x="178.51" y="589.83" width="3.3" height="4.47"/><path class="m" d="M178.51 591.49h3.3"/><rect class="b" x="182.39" y="591.19" width="3.3" height="6.85"/><path class="m" d="M182.39 594.72h3.3"/><rect class="b" x="186.26" y="587.68" width="3.3" height="8.54"/><path class="m" d="M186.26 593.2h3.3"/><rect class="b" x="190.13" y="590.01" width="3.3" height="6.19"/><path class="m" d="M190.13 591.05h3.3"/><rect class="b" x="194" y="584.62" width="3.3" height="7.13"/><path class="m" d="M194 590.73h3.3"/><rect class="b" x="197.88" y="589.22" width="3.3" height="2"/><path class="m" d="M197.88 589.85h3.3"/><rect class="b" x="201.75" y="576.7" width="3.3" height="8.73"/><path class="m" d="M201.75 578.23h3.3"/><rect class="b" x="205.62" y="579.38" width="3.3" height="13.88"/><path class="m" d="M205.62 585.19h3.3"/><rect class="b" x="209.5" y="590.43" width="3.3" height="2.87"/><path class="m" d="M209.5 592.01h3.3"/><rect class="b" x="213.37" y="579.87" width="3.3" height="6.08"/><path class="m" d="M213.37 579.96h3.3"/><rect class="b" x="217.24" y="578.82" width="3.3" height="7.04"/><path class="m" d="M217.24 581.22h3.3"/><rect class="b" x="221.11" y="579.53" width="3.3" height="6.28"/><path class="m" d="M221.11 581.93h3.3"/><rect class="b" x="224.99" y="562.83" width="3.3" height="16.59"/><path class="m" d="M224.99 566.89h3.3"/><rect class="b" x="228.86" y="573.59" width="3.3" height="9.62"/><path class="m" d="M228.86 576.16h3.3"/><rect class="b" x="232.73" y="562.04" width="3.3" height="7.12"/><path class="m" d="M232.73 566.64h3.3"/><rect class="b" x="236.6" y="557.01" width="3.3" height="14.74"/><path class="m" d="M236.6 564.86h3.3"/><rect class="b" x="240.48" y="565.65" width="3.3" height="10.24"/><path class="m" d="M240.48 571.02h3.3"/><rect class="b" x="244.35" y="530.44" width="3.3" height="6.83"/><path class="m" d="M244.35 533.62h3.3"/><circle class="d" cx="33.34" cy="605.69" r="1.15"/><circle class="d" cx="33.21" cy="605.68" r="1.15"/><circle class="d" cx="33.51" cy="605.42" r="1.15"/><circle class="d" cx="32.26" cy="605.4" r="1.15"/><circle class="d" cx="33.27" cy="605.31" r="1.15"/><circle class="d" cx="33.39" cy="604.95" r="1.15"/><circle class="d" cx="36.53" cy="605.68" r="1.15"/><circle class="d" cx="37.62" cy="605.52" r="1.15"/><circle class="d" cx="36.33" cy="605.25" r="1.15"/><circle class="d" cx="37.58" cy="605.02" r="1.15"/><circle class="d" cx="37.03" cy="604.57" r="1.15"/><circle class="d" cx="40" cy="605.17" r="1.15"/><circle class="d" cx="41.1" cy="605.17" r="1.15"/><circle class="d" cx="41.15" cy="605.03" r="1.15"/><circle class="d" cx="45.25" cy="605.49" r="1.15"/><circle class="d" cx="44.07" cy="605.06" r="1.15"/><circle class="d" cx="44.45" cy="604.92" r="1.15"/><circle class="d" cx="45.05" cy="604.86" r="1.15"/><circle class="d" cx="45.29" cy="604.62" r="1.15"/><circle class="d" cx="43.93" cy="604.58" r="1.15"/><circle class="d" cx="48.35" cy="604.85" r="1.15"/><circle class="d" cx="48.22" cy="604.41" r="1.15"/><circle class="d" cx="48.82" cy="603.91" r="1.15"/><circle class="d" cx="52.95" cy="604.76" r="1.15"/><circle class="d" cx="52.6" cy="604.44" r="1.15"/><circle class="d" cx="52.91" cy="604.31" r="1.15"/><circle class="d" cx="52.63" cy="604.19" r="1.15"/><circle class="d" cx="55.89" cy="604.78" r="1.15"/><circle class="d" cx="56.13" cy="603.93" r="1.15"/><circle class="d" cx="56.63" cy="603.93" r="1.15"/><circle class="d" cx="60.16" cy="604.85" r="1.15"/><circle class="d" cx="59.93" cy="604.83" r="1.15"/><circle class="d" cx="60.28" cy="604.67" r="1.15"/><circle class="d" cx="60.12" cy="603.97" r="1.15"/><circle class="d" cx="59.37" cy="603.51" r="1.15"/><circle class="d" cx="64.37" cy="604.13" r="1.15"/><circle class="d" cx="64.38" cy="604.12" r="1.15"/><circle class="d" cx="64.45" cy="602.92" r="1.15"/><circle class="d" cx="63.4" cy="602.91" r="1.15"/><circle class="d" cx="67.82" cy="604.63" r="1.15"/><circle class="d" cx="67.36" cy="604.02" r="1.15"/><circle class="d" cx="68.17" cy="603.98" r="1.15"/><circle class="d" cx="67.42" cy="603.73" r="1.15"/><circle class="d" cx="68.45" cy="603.7" r="1.15"/><circle class="d" cx="67.96" cy="603.44" r="1.15"/><circle class="d" cx="68.64" cy="602.31" r="1.15"/><circle class="d" cx="71.21" cy="604.43" r="1.15"/><circle class="d" cx="72.5" cy="604.32" r="1.15"/><circle class="d" cx="71.43" cy="603.91" r="1.15"/><circle class="d" cx="71.6" cy="602.88" r="1.15"/><circle class="d" cx="71.44" cy="602.82" r="1.15"/><circle class="d" cx="72.51" cy="602.48" r="1.15"/><circle class="d" cx="71.71" cy="602.35" r="1.15"/><circle class="d" cx="71.88" cy="601.68" r="1.15"/><circle class="d" cx="76.34" cy="604.24" r="1.15"/><circle class="d" cx="75.28" cy="603.38" r="1.15"/><circle class="d" cx="74.96" cy="603.12" r="1.15"/><circle class="d" cx="76.21" cy="602.9" r="1.15"/><circle class="d" cx="76.05" cy="602.38" r="1.15"/><circle class="d" cx="76.38" cy="602.22" r="1.15"/><circle class="d" cx="75.31" cy="600.79" r="1.15"/><circle class="d" cx="78.96" cy="604.37" r="1.15"/><circle class="d" cx="78.76" cy="604.06" r="1.15"/><circle class="d" cx="79.85" cy="604.05" r="1.15"/><circle class="d" cx="78.95" cy="603.41" r="1.15"/><circle class="d" cx="79.88" cy="603.18" r="1.15"/><circle class="d" cx="80.11" cy="602.32" r="1.15"/><circle class="d" cx="78.75" cy="602.29" r="1.15"/><circle class="d" cx="79.16" cy="602.18" r="1.15"/><circle class="d" cx="83.4" cy="604.18" r="1.15"/><circle class="d" cx="83.31" cy="603.82" r="1.15"/><circle class="d" cx="83.29" cy="602.33" r="1.15"/><circle class="d" cx="83.1" cy="601.7" r="1.15"/><circle class="d" cx="86.47" cy="602.47" r="1.15"/><circle class="d" cx="86.9" cy="602.12" r="1.15"/><circle class="d" cx="87.46" cy="602.04" r="1.15"/><circle class="d" cx="86.96" cy="602.03" r="1.15"/><circle class="d" cx="86.49" cy="601.93" r="1.15"/><circle class="d" cx="87.85" cy="601.8" r="1.15"/><circle class="d" cx="87.51" cy="601.68" r="1.15"/><circle class="d" cx="91.29" cy="603.37" r="1.15"/><circle class="d" cx="90.92" cy="601.27" r="1.15"/><circle class="d" cx="90.55" cy="601.22" r="1.15"/><circle class="d" cx="90.34" cy="600.8" r="1.15"/><circle class="d" cx="94.25" cy="603.55" r="1.15"/><circle class="d" cx="95.59" cy="602.53" r="1.15"/><circle class="d" cx="95.19" cy="602.25" r="1.15"/><circle class="d" cx="95.15" cy="602.02" r="1.15"/><circle class="d" cx="95.26" cy="601.39" r="1.15"/><circle class="d" cx="94.47" cy="601.3" r="1.15"/><circle class="d" cx="98.09" cy="603.74" r="1.15"/><circle class="d" cx="99.1" cy="603.4" r="1.15"/><circle class="d" cx="99.37" cy="603.23" r="1.15"/><circle class="d" cx="98.8" cy="603.01" r="1.15"/><circle class="d" cx="98.46" cy="602.45" r="1.15"/><circle class="d" cx="99.45" cy="602.09" r="1.15"/><circle class="d" cx="99.14" cy="600.87" r="1.15"/><circle class="d" cx="98.08" cy="599.47" r="1.15"/><circle class="d" cx="103.15" cy="600.24" r="1.15"/><circle class="d" cx="102.34" cy="599.77" r="1.15"/><circle class="d" cx="102.71" cy="597.92" r="1.15"/><circle class="d" cx="106.32" cy="604.25" r="1.15"/><circle class="d" cx="106.62" cy="602.3" r="1.15"/><circle class="d" cx="106.63" cy="602.27" r="1.15"/><circle class="d" cx="105.93" cy="600.26" r="1.15"/><circle class="d" cx="106.66" cy="597.59" r="1.15"/><circle class="d" cx="109.95" cy="603.58" r="1.15"/><circle class="d" cx="111.21" cy="602.54" r="1.15"/><circle class="d" cx="109.66" cy="602.36" r="1.15"/><circle class="d" cx="109.83" cy="599.54" r="1.15"/><circle class="d" cx="115.09" cy="601.2" r="1.15"/><circle class="d" cx="115.03" cy="600.85" r="1.15"/><circle class="d" cx="114.41" cy="600.45" r="1.15"/><circle class="d" cx="114.79" cy="599.5" r="1.15"/><circle class="d" cx="113.92" cy="598.47" r="1.15"/><circle class="d" cx="117.41" cy="600.85" r="1.15"/><circle class="d" cx="118.63" cy="600.52" r="1.15"/><circle class="d" cx="118.13" cy="600.31" r="1.15"/><circle class="d" cx="118.45" cy="600.15" r="1.15"/><circle class="d" cx="118.16" cy="600.14" r="1.15"/><circle class="d" cx="117.79" cy="598.94" r="1.15"/><circle class="d" cx="122.81" cy="604.19" r="1.15"/><circle class="d" cx="122.41" cy="603.54" r="1.15"/><circle class="d" cx="122.02" cy="600.82" r="1.15"/><circle class="d" cx="122.82" cy="599" r="1.15"/><circle class="d" cx="122.05" cy="598.51" r="1.15"/><circle class="d" cx="122.66" cy="598.13" r="1.15"/><circle class="d" cx="125.4" cy="599.76" r="1.15"/><circle class="d" cx="125.16" cy="598.79" r="1.15"/><circle class="d" cx="126.14" cy="595.23" r="1.15"/><circle class="d" cx="130.57" cy="600.55" r="1.15"/><circle class="d" cx="129.03" cy="600.1" r="1.15"/><circle class="d" cx="130.05" cy="598.2" r="1.15"/><circle class="d" cx="133.88" cy="603.04" r="1.15"/><circle class="d" cx="133.57" cy="601.9" r="1.15"/><circle class="d" cx="134.45" cy="598.8" r="1.15"/><circle class="d" cx="134.45" cy="598.22" r="1.15"/><circle class="d" cx="133.94" cy="597.48" r="1.15"/><circle class="d" cx="133.04" cy="596.5" r="1.15"/><circle class="d" cx="133.85" cy="595.7" r="1.15"/><circle class="d" cx="137.75" cy="601.81" r="1.15"/><circle class="d" cx="137.08" cy="598.78" r="1.15"/><circle class="d" cx="138.36" cy="597.6" r="1.15"/><circle class="d" cx="137.3" cy="597.09" r="1.15"/><circle class="d" cx="137.28" cy="595.87" r="1.15"/><circle class="d" cx="141.46" cy="601.48" r="1.15"/><circle class="d" cx="141.92" cy="601.3" r="1.15"/><circle class="d" cx="140.98" cy="599.59" r="1.15"/><circle class="d" cx="141.64" cy="598.94" r="1.15"/><circle class="d" cx="145.35" cy="600.44" r="1.15"/><circle class="d" cx="145.81" cy="599.43" r="1.15"/><circle class="d" cx="145.08" cy="598.52" r="1.15"/><circle class="d" cx="145.76" cy="598.35" r="1.15"/><circle class="d" cx="148.56" cy="601.42" r="1.15"/><circle class="d" cx="148.8" cy="600.44" r="1.15"/><circle class="d" cx="149.47" cy="590.08" r="1.15"/><circle class="d" cx="153.53" cy="598.9" r="1.15"/><circle class="d" cx="153.79" cy="596.23" r="1.15"/><circle class="d" cx="153.07" cy="594.86" r="1.15"/><circle class="d" cx="156.93" cy="599.19" r="1.15"/><circle class="d" cx="156.58" cy="597.78" r="1.15"/><circle class="d" cx="156.82" cy="595.96" r="1.15"/><circle class="d" cx="160.54" cy="597.15" r="1.15"/><circle class="d" cx="160.58" cy="595.09" r="1.15"/><circle class="d" cx="161" cy="594.51" r="1.15"/><circle class="d" cx="160.42" cy="593.45" r="1.15"/><circle class="d" cx="161.07" cy="590.45" r="1.15"/><circle class="d" cx="164.43" cy="599.88" r="1.15"/><circle class="d" cx="164.27" cy="596.94" r="1.15"/><circle class="d" cx="163.94" cy="595.83" r="1.15"/><circle class="d" cx="164.93" cy="595.16" r="1.15"/><circle class="d" cx="164.29" cy="595.1" r="1.15"/><circle class="d" cx="164.15" cy="594.64" r="1.15"/><circle class="d" cx="164.94" cy="589.59" r="1.15"/><circle class="d" cx="165.14" cy="587.19" r="1.15"/><circle class="d" cx="168.03" cy="598.44" r="1.15"/><circle class="d" cx="168.96" cy="597.87" r="1.15"/><circle class="d" cx="169.3" cy="596.28" r="1.15"/><circle class="d" cx="169.01" cy="594.69" r="1.15"/><circle class="d" cx="168.5" cy="591.42" r="1.15"/><circle class="d" cx="169.3" cy="590.74" r="1.15"/><circle class="d" cx="171.75" cy="596.72" r="1.15"/><circle class="d" cx="171.83" cy="596.66" r="1.15"/><circle class="d" cx="173.2" cy="593.95" r="1.15"/><circle class="d" cx="171.84" cy="593.88" r="1.15"/><circle class="d" cx="171.69" cy="593.54" r="1.15"/><circle class="d" cx="172.03" cy="588.59" r="1.15"/><circle class="d" cx="172.11" cy="586.65" r="1.15"/><circle class="d" cx="176.54" cy="597.6" r="1.15"/><circle class="d" cx="176.27" cy="597.6" r="1.15"/><circle class="d" cx="176.2" cy="594.89" r="1.15"/><circle class="d" cx="176.97" cy="592.14" r="1.15"/><circle class="d" cx="180.44" cy="598.99" r="1.15"/><circle class="d" cx="180.71" cy="595.72" r="1.15"/><circle class="d" cx="179.52" cy="593.83" r="1.15"/><circle class="d" cx="179.98" cy="591.96" r="1.15"/><circle class="d" cx="180.83" cy="591.02" r="1.15"/><circle class="d" cx="180.47" cy="590.99" r="1.15"/><circle class="d" cx="180.76" cy="586.36" r="1.15"/><circle class="d" cx="180.44" cy="584.75" r="1.15"/><circle class="d" cx="183.35" cy="604.93" r="1.15"/><circle class="d" cx="184.53" cy="598.78" r="1.15"/><circle class="d" cx="184.41" cy="595.81" r="1.15"/><circle class="d" cx="184.49" cy="593.63" r="1.15"/><circle class="d" cx="184.61" cy="590.37" r="1.15"/><circle class="d" cx="184.39" cy="583.96" r="1.15"/><circle class="d" cx="188.28" cy="600.38" r="1.15"/><circle class="d" cx="188.52" cy="596.83" r="1.15"/><circle class="d" cx="187.52" cy="596.01" r="1.15"/><circle class="d" cx="187.88" cy="594.81" r="1.15"/><circle class="d" cx="187.51" cy="591.6" r="1.15"/><circle class="d" cx="187.36" cy="588.13" r="1.15"/><circle class="d" cx="188.58" cy="586.34" r="1.15"/><circle class="d" cx="187.87" cy="582.68" r="1.15"/><circle class="d" cx="191.09" cy="598.66" r="1.15"/><circle class="d" cx="192.02" cy="596.2" r="1.15"/><circle class="d" cx="191.19" cy="591.05" r="1.15"/><circle class="d" cx="191.38" cy="590.01" r="1.15"/><circle class="d" cx="191.67" cy="589.67" r="1.15"/><circle class="d" cx="195.27" cy="595.53" r="1.15"/><circle class="d" cx="195.89" cy="591.74" r="1.15"/><circle class="d" cx="195.92" cy="590.73" r="1.15"/><circle class="d" cx="195.28" cy="584.62" r="1.15"/><circle class="d" cx="195.9" cy="582" r="1.15"/><circle class="d" cx="200" cy="596.28" r="1.15"/><circle class="d" cx="200.27" cy="591.44" r="1.15"/><circle class="d" cx="199.41" cy="591" r="1.15"/><circle class="d" cx="199.98" cy="589.85" r="1.15"/><circle class="d" cx="198.89" cy="589.29" r="1.15"/><circle class="d" cx="198.89" cy="589.15" r="1.15"/><circle class="d" cx="200.1" cy="586.31" r="1.15"/><circle class="d" cx="202.75" cy="592.65" r="1.15"/><circle class="d" cx="203.62" cy="578.23" r="1.15"/><circle class="d" cx="203.84" cy="575.18" r="1.15"/><circle class="d" cx="207.57" cy="598.71" r="1.15"/><circle class="d" cx="207.42" cy="595.09" r="1.15"/><circle class="d" cx="206.54" cy="587.77" r="1.15"/><circle class="d" cx="207.56" cy="582.62" r="1.15"/><circle class="d" cx="207.67" cy="578.3" r="1.15"/><circle class="d" cx="206.58" cy="573.1" r="1.15"/><circle class="d" cx="210.46" cy="594.84" r="1.15"/><circle class="d" cx="211.22" cy="593.3" r="1.15"/><circle class="d" cx="211.66" cy="592.01" r="1.15"/><circle class="d" cx="210.79" cy="590.43" r="1.15"/><circle class="d" cx="210.76" cy="588.15" r="1.15"/><circle class="d" cx="214.8" cy="591.96" r="1.15"/><circle class="d" cx="215.57" cy="579.96" r="1.15"/><circle class="d" cx="214.86" cy="579.79" r="1.15"/><circle class="d" cx="218.96" cy="587.38" r="1.15"/><circle class="d" cx="218.19" cy="587.03" r="1.15"/><circle class="d" cx="218.25" cy="582.37" r="1.15"/><circle class="d" cx="218.39" cy="580.07" r="1.15"/><circle class="d" cx="218.89" cy="578.41" r="1.15"/><circle class="d" cx="219.26" cy="574.67" r="1.15"/><circle class="d" cx="221.98" cy="590.61" r="1.15"/><circle class="d" cx="223.22" cy="587.05" r="1.15"/><circle class="d" cx="222.39" cy="584.57" r="1.15"/><circle class="d" cx="223.36" cy="581.93" r="1.15"/><circle class="d" cx="223.21" cy="581.12" r="1.15"/><circle class="d" cx="222.83" cy="577.95" r="1.15"/><circle class="d" cx="222.57" cy="572.23" r="1.15"/><circle class="d" cx="226.35" cy="591.96" r="1.15"/><circle class="d" cx="226.49" cy="566.89" r="1.15"/><circle class="d" cx="227.3" cy="558.77" r="1.15"/><circle class="d" cx="231.11" cy="585.47" r="1.15"/><circle class="d" cx="229.94" cy="585.04" r="1.15"/><circle class="d" cx="229.98" cy="577.71" r="1.15"/><circle class="d" cx="229.8" cy="574.61" r="1.15"/><circle class="d" cx="231.16" cy="573.25" r="1.15"/><circle class="d" cx="230.65" cy="567.6" r="1.15"/><circle class="d" cx="233.94" cy="587.09" r="1.15"/><circle class="d" cx="234.9" cy="570.61" r="1.15"/><circle class="d" cx="234.22" cy="567.71" r="1.15"/><circle class="d" cx="235" cy="566.64" r="1.15"/><circle class="d" cx="235.06" cy="564.77" r="1.15"/><circle class="d" cx="235.04" cy="559.3" r="1.15"/><circle class="d" cx="234.56" cy="556.34" r="1.15"/><circle class="d" cx="238.13" cy="577.09" r="1.15"/><circle class="d" cx="237.6" cy="571.83" r="1.15"/><circle class="d" cx="238.54" cy="571.51" r="1.15"/><circle class="d" cx="238.21" cy="558.21" r="1.15"/><circle class="d" cx="237.76" cy="556.61" r="1.15"/><circle class="d" cx="237.92" cy="530.54" r="1.15"/><circle class="d" cx="242.38" cy="578.21" r="1.15"/><circle class="d" cx="242.08" cy="578.14" r="1.15"/><circle class="d" cx="242.85" cy="575.14" r="1.15"/><circle class="d" cx="241.91" cy="571.26" r="1.15"/><circle class="d" cx="241.82" cy="570.79" r="1.15"/><circle class="d" cx="241.49" cy="566.27" r="1.15"/><circle class="d" cx="241.62" cy="563.81" r="1.15"/><circle class="d" cx="242.78" cy="538.48" r="1.15"/><circle class="d" cx="246.49" cy="598.3" r="1.15"/><circle class="d" cx="245.84" cy="538.18" r="1.15"/><circle class="d" cx="245.74" cy="534.53" r="1.15"/><circle class="d" cx="245.72" cy="532.71" r="1.15"/><circle class="d" cx="246.7" cy="529.68" r="1.15"/><circle class="d" cx="245.33" cy="512.06" r="1.15"/></g><path d="M29.9 507.8V611.2H249" fill="none" stroke="#1a1a1a" stroke-width="0.9"/><text x="28.5" y="608.55" font-size="6.5" text-anchor="end" font-weight="normal" font-style="normal" fill="#222" letter-spacing="0.28">0</text><text x="28.5" y="578.18" font-size="6.5" text-anchor="end" font-weight="normal" font-style="normal" fill="#222" letter-spacing="0.28">50000</text><text x="28.5" y="547.82" font-size="6.5" text-anchor="end" font-weight="normal" font-style="normal" fill="#222" letter-spacing="0.28">100000</text><text x="28.5" y="517.45" font-size="6.5" text-anchor="end" font-weight="normal" font-style="normal" fill="#222" letter-spacing="0.28">150000</text><path class="tk" d="M33 613.1v4.3M35.8 613.1v4.3M38.61 613.1v4.3M41.41 613.1v3.9M44.21 613.1v3.4M47.01 613.1v4.3M49.82 613.1v3.9M52.62 613.1v3.4M55.42 613.1v3.4M58.22 613.1v4.3M61.03 613.1v4.3M63.83 613.1v3.9M66.63 613.1v3.4M69.43 613.1v4.3M72.24 613.1v4.3M75.04 613.1v3.4M77.84 613.1v3.9M80.64 613.1v3.4M83.45 613.1v3.4M86.25 613.1v3.9M89.05 613.1v3.9M91.86 613.1v3.9M94.66 613.1v4.3M97.46 613.1v4.3M100.26 613.1v3.9M103.07 613.1v3.9M105.87 613.1v3.4M108.67 613.1v4.3M111.47 613.1v4.3M114.28 613.1v4.3M117.08 613.1v3.9M119.88 613.1v4.3M122.68 613.1v3.9M125.49 613.1v3.4M128.29 613.1v3.9M131.09 613.1v4.3M133.89 613.1v3.4M136.7 613.1v3.4M139.5 613.1v3.9M142.3 613.1v3.9M145.11 613.1v3.9M147.91 613.1v4.3M150.71 613.1v3.9M153.51 613.1v3.4M156.32 613.1v3.9M159.12 613.1v3.4M161.92 613.1v3.4M164.72 613.1v4.3M167.53 613.1v4.3M170.33 613.1v4.3M173.13 613.1v3.9M175.93 613.1v4.3M178.74 613.1v3.9M181.54 613.1v3.4M184.34 613.1v3.9M187.14 613.1v3.9M189.95 613.1v3.4M192.75 613.1v4.3M195.55 613.1v3.4M198.36 613.1v4.3M201.16 613.1v3.4M203.96 613.1v4.3M206.76 613.1v3.4M209.57 613.1v3.9M212.37 613.1v3.4M215.17 613.1v4.3M217.97 613.1v3.4M220.78 613.1v3.4M223.58 613.1v3.9M226.38 613.1v3.9M229.18 613.1v3.9M231.99 613.1v4.3M234.79 613.1v4.3M237.59 613.1v3.4M240.39 613.1v3.4M243.2 613.1v3.4M246 613.1v4.3"/><text x="149" y="506.2" font-size="7.0" text-anchor="middle" font-weight="normal" font-style="normal" fill="#111" >CD8+ EM CD45RA- CD27-</text><text x="149.7" y="622.3" font-size="7.0" text-anchor="middle" font-weight="normal" font-style="normal" fill="#111" >volunteers ordered by median</text><text x="26.9" y="530.3" font-size="6.8" text-anchor="middle" fill="#111"  transform="rotate(-90 26.9 530.3)">value</text><text x="63" y="509" font-size="6.6" text-anchor="middle" font-weight="bold" font-style="italic" fill="#111" >Effector</text><text x="63" y="518" font-size="6.6" text-anchor="middle" font-weight="bold" font-style="italic" fill="#111" >Memory</text><path d="M63.2 524.7A22.1 22.1 0 1 1 52.15 527.66L53.9 530.68A18.61 18.61 0 1 0 63.2 528.19Z" fill="#4cba3c"/><path d="M52.15 527.66A22.1 22.1 0 0 1 63.2 524.7L63.2 528.19A18.61 18.61 0 0 0 53.9 530.68Z" fill="#6b3a9e"/><circle cx="63.2" cy="546.8" r="21.9" fill="none" stroke="#1a1a1a" stroke-width="0.55"/><circle cx="63.2" cy="546.8" r="18.61" fill="#fff" stroke="#1a1a1a" stroke-width="0.5"/><circle cx="63.2" cy="546.8" r="17.5" fill="#fff" stroke="#8e8e8e" stroke-width="0.6"/><path class="pw" d="M63.2 546.8L63.2 530.18A16.62 16.62 0 1 1 46.94 543.34Z" fill="#2c7fc1"/><path class="pw" d="M63.2 546.8L46.94 543.34A16.62 16.62 0 0 1 52.97 533.7Z" fill="#66c49c"/><path class="pw" d="M63.2 546.8L52.97 533.7A16.62 16.62 0 0 1 54.89 532.41Z" fill="#c6c6c6"/><path class="pw" d="M63.2 546.8L54.89 532.41A16.62 16.62 0 0 1 63.2 530.18Z" fill="#e0555a"/><circle cx="63.2" cy="546.8" r="16.62" fill="none" stroke="#111" stroke-width="0.5"/><clipPath id="c402"><rect x="288.5" y="504" width="223.5" height="106.4"/></clipPath><g clip-path="url(#c402)"><path class="w" d="M291.5 604.58V604.7M291.5 604.85V604.87"/><path class="w" d="M295.42 604.55V605.01M295.42 605.38V605.4"/><path class="w" d="M299.34 604.17V604.29M299.34 604.93V605.2"/><path class="w" d="M303.25 604.47V604.69M303.25 605.11V605.2"/><path class="w" d="M307.17 604.65V604.37M307.17 604.91V605.17"/><path class="w" d="M311.09 603.24V603.72M311.09 604.84V605.48"/><path class="w" d="M315.01 602.75V603.03M315.01 604.35V605.01"/><path class="w" d="M318.93 603.45V603.82M318.93 604.69V605.63"/><path class="w" d="M322.85 603.44V603.44M322.85 603.49V603.49"/><path class="w" d="M326.76 602.45V603.32M326.76 603.92V604.32"/><path class="w" d="M330.68 602.61V603.42M330.68 604.25V604.26"/><path class="w" d="M334.6 602.15V602.6M334.6 603.86V603.93"/><path class="w" d="M338.52 602.05V602.89M338.52 603.7V604.18"/><path class="w" d="M342.44 601.86V602.13M342.44 602.8V602.8"/><path class="w" d="M346.35 601.05V601.14M346.35 603.28V603.33"/><path class="w" d="M350.27 600.74V601.45M350.27 602V602"/><path class="w" d="M354.19 599.74V600.82M354.19 602.07V602.88"/><path class="w" d="M358.11 600.17V600.49M358.11 601.76V603.43"/><path class="w" d="M362.03 600.65V600.84M362.03 601.78V602.53"/><path class="w" d="M365.95 599.12V599.47M365.95 600.51V600.78"/><path class="w" d="M369.86 597.48V598.11M369.86 601.21V601.56"/><path class="w" d="M373.78 595.14V596.83M373.78 600.69V602.62"/><path class="w" d="M377.7 598.49V598.49M377.7 599.2V599.2"/><path class="w" d="M381.62 592.23V594.32M381.62 599.12V599.68"/><path class="w" d="M385.54 596.06V596.09M385.54 598.98V601.83"/><path class="w" d="M389.45 594.88V594.9M389.45 597.1V597.1"/><path class="w" d="M393.37 595.98V595.98M393.37 598.58V598.87"/><path class="w" d="M397.29 592.26V593.45M397.29 598.5V602.06"/><path class="w" d="M401.21 594.7V594.91M401.21 596.86V599.33"/><path class="w" d="M405.13 591.64V592.34M405.13 595.05V597.47"/><path class="w" d="M409.05 591.94V592.66M409.05 596.72V597.39"/><path class="w" d="M412.96 591.58V592.65M412.96 596.09V598.45"/><path class="w" d="M416.88 590.71V592.02M416.88 596.91V599.81"/><path class="w" d="M420.8 592.61V591.17M420.8 593.35V593.51"/><path class="w" d="M424.72 582.3V587.45M424.72 595.09V596.53"/><path class="w" d="M428.64 592.31V592.31M428.64 593.61V593.76"/><path class="w" d="M432.55 588.83V590.99M432.55 592.76V593.19"/><path class="w" d="M436.47 586.11V589.46M436.47 593.56V596.39"/><path class="w" d="M440.39 585.54V587.85M440.39 591.29V592.42"/><path class="w" d="M444.31 577.66V586.47M444.31 595.37V597.91"/><path class="w" d="M448.23 582.52V585.62M448.23 593.91V595.17"/><path class="w" d="M452.15 586.42V589.46M452.15 593.28V594.97"/><path class="w" d="M456.06 575.77V579.1M456.06 586.11V595.59"/><path class="w" d="M459.98 582.24V584.41M459.98 588.93V595.64"/><path class="w" d="M463.9 579.44V579.44M463.9 583.79V583.79"/><path class="w" d="M467.82 579.31V579.66M467.82 587.16V589.79"/><path class="w" d="M471.74 560.54V576.26M471.74 586.76V590.13"/><path class="w" d="M475.65 575.84V578.95M475.65 585.69V587.56"/><path class="w" d="M479.57 572.59V577.06M479.57 586.57V591.13"/><path class="w" d="M483.49 543.21V562.51M483.49 577.01V581.42"/><path class="w" d="M487.41 554.54V559.2M487.41 571.04V574.79"/><path class="w" d="M491.33 546.42V552.86M491.33 562.61V564.42"/><path class="w" d="M495.25 543.91V544.71M495.25 555.36V565.22"/><path class="w" d="M499.16 540.34V530.27M499.16 547V548.42"/><path class="w" d="M503.08 514.01V516.21M503.08 523.41V528.39"/><path class="w" d="M507 506.14V512.51M507 527.7V546.7"/><rect class="b" x="289.85" y="604.7" width="3.3" height="0.8"/><path class="m" d="M289.85 604.79h3.3"/><rect class="b" x="293.77" y="605.01" width="3.3" height="0.8"/><path class="m" d="M293.77 605.22h3.3"/><rect class="b" x="297.69" y="604.29" width="3.3" height="0.8"/><path class="m" d="M297.69 604.59h3.3"/><rect class="b" x="301.6" y="604.69" width="3.3" height="0.8"/><path class="m" d="M301.6 604.91h3.3"/><rect class="b" x="305.52" y="604.37" width="3.3" height="0.8"/><path class="m" d="M305.52 604.74h3.3"/><rect class="b" x="309.44" y="603.72" width="3.3" height="1.12"/><path class="m" d="M309.44 604.21h3.3"/><rect class="b" x="313.36" y="603.03" width="3.3" height="1.32"/><path class="m" d="M313.36 603.67h3.3"/><rect class="b" x="317.28" y="603.82" width="3.3" height="0.88"/><path class="m" d="M317.28 604.01h3.3"/><rect class="b" x="321.2" y="603.44" width="3.3" height="0.8"/><path class="m" d="M321.2 603.48h3.3"/><rect class="b" x="325.11" y="603.32" width="3.3" height="0.8"/><path class="m" d="M325.11 603.78h3.3"/><rect class="b" x="329.03" y="603.42" width="3.3" height="0.83"/><path class="m" d="M329.03 604.24h3.3"/><rect class="b" x="332.95" y="602.6" width="3.3" height="1.26"/><path class="m" d="M332.95 603.29h3.3"/><rect class="b" x="336.87" y="602.89" width="3.3" height="0.81"/><path class="m" d="M336.87 603.04h3.3"/><rect class="b" x="340.79" y="602.13" width="3.3" height="0.8"/><path class="m" d="M340.79 602.67h3.3"/><rect class="b" x="344.7" y="601.14" width="3.3" height="2.14"/><path class="m" d="M344.7 601.55h3.3"/><rect class="b" x="348.62" y="601.45" width="3.3" height="0.8"/><path class="m" d="M348.62 601.92h3.3"/><rect class="b" x="352.54" y="600.82" width="3.3" height="1.25"/><path class="m" d="M352.54 601.29h3.3"/><rect class="b" x="356.46" y="600.49" width="3.3" height="1.27"/><path class="m" d="M356.46 601.01h3.3"/><rect class="b" x="360.38" y="600.84" width="3.3" height="0.94"/><path class="m" d="M360.38 601.03h3.3"/><rect class="b" x="364.3" y="599.47" width="3.3" height="1.05"/><path class="m" d="M364.3 600.14h3.3"/><rect class="b" x="368.21" y="598.11" width="3.3" height="3.11"/><path class="m" d="M368.21 600.1h3.3"/><rect class="b" x="372.13" y="596.83" width="3.3" height="3.86"/><path class="m" d="M372.13 598.92h3.3"/><rect class="b" x="376.05" y="598.49" width="3.3" height="0.8"/><path class="m" d="M376.05 598.77h3.3"/><rect class="b" x="379.97" y="594.32" width="3.3" height="4.8"/><path class="m" d="M379.97 597.81h3.3"/><rect class="b" x="383.89" y="596.09" width="3.3" height="2.89"/><path class="m" d="M383.89 596.13h3.3"/><rect class="b" x="387.8" y="594.9" width="3.3" height="2.2"/><path class="m" d="M387.8 595.68h3.3"/><rect class="b" x="391.72" y="595.98" width="3.3" height="2.6"/><path class="m" d="M391.72 596.8h3.3"/><rect class="b" x="395.64" y="593.45" width="3.3" height="5.04"/><path class="m" d="M395.64 595.03h3.3"/><rect class="b" x="399.56" y="594.91" width="3.3" height="1.96"/><path class="m" d="M399.56 596.14h3.3"/><rect class="b" x="403.48" y="592.34" width="3.3" height="2.71"/><path class="m" d="M403.48 593.41h3.3"/><rect class="b" x="407.4" y="592.66" width="3.3" height="4.06"/><path class="m" d="M407.4 594.5h3.3"/><rect class="b" x="411.31" y="592.65" width="3.3" height="3.44"/><path class="m" d="M411.31 593.73h3.3"/><rect class="b" x="415.23" y="592.02" width="3.3" height="4.9"/><path class="m" d="M415.23 593.61h3.3"/><rect class="b" x="419.15" y="591.17" width="3.3" height="2.18"/><path class="m" d="M419.15 592.95h3.3"/><rect class="b" x="423.07" y="587.45" width="3.3" height="7.64"/><path class="m" d="M423.07 593.05h3.3"/><rect class="b" x="426.99" y="592.31" width="3.3" height="1.3"/><path class="m" d="M426.99 593.54h3.3"/><rect class="b" x="430.9" y="590.99" width="3.3" height="1.77"/><path class="m" d="M430.9 591.99h3.3"/><rect class="b" x="434.82" y="589.46" width="3.3" height="4.1"/><path class="m" d="M434.82 592.53h3.3"/><rect class="b" x="438.74" y="587.85" width="3.3" height="3.44"/><path class="m" d="M438.74 590.16h3.3"/><rect class="b" x="442.66" y="586.47" width="3.3" height="8.9"/><path class="m" d="M442.66 594.45h3.3"/><rect class="b" x="446.58" y="585.62" width="3.3" height="8.29"/><path class="m" d="M446.58 590.07h3.3"/><rect class="b" x="450.5" y="589.46" width="3.3" height="3.82"/><path class="m" d="M450.5 591.36h3.3"/><rect class="b" x="454.41" y="579.1" width="3.3" height="7.01"/><path class="m" d="M454.41 581.34h3.3"/><rect class="b" x="458.33" y="584.41" width="3.3" height="4.52"/><path class="m" d="M458.33 586.53h3.3"/><rect class="b" x="462.25" y="579.44" width="3.3" height="4.35"/><path class="m" d="M462.25 581.03h3.3"/><rect class="b" x="466.17" y="579.66" width="3.3" height="7.5"/><path class="m" d="M466.17 584.7h3.3"/><rect class="b" x="470.09" y="576.26" width="3.3" height="10.5"/><path class="m" d="M470.09 583.57h3.3"/><rect class="b" x="474" y="578.95" width="3.3" height="6.73"/><path class="m" d="M474 581.15h3.3"/><rect class="b" x="477.92" y="577.06" width="3.3" height="9.51"/><path class="m" d="M477.92 582.39h3.3"/><rect class="b" x="481.84" y="562.51" width="3.3" height="14.5"/><path class="m" d="M481.84 575.73h3.3"/><rect class="b" x="485.76" y="559.2" width="3.3" height="11.85"/><path class="m" d="M485.76 567.12h3.3"/><rect class="b" x="489.68" y="552.86" width="3.3" height="9.75"/><path class="m" d="M489.68 559.76h3.3"/><rect class="b" x="493.6" y="544.71" width="3.3" height="10.65"/><path class="m" d="M493.6 545.51h3.3"/><rect class="b" x="497.51" y="530.27" width="3.3" height="16.73"/><path class="m" d="M497.51 543.43h3.3"/><rect class="b" x="501.43" y="516.21" width="3.3" height="7.19"/><path class="m" d="M501.43 518.42h3.3"/><rect class="b" x="505.35" y="512.51" width="3.3" height="15.19"/><path class="m" d="M505.35 522.63h3.3"/><circle class="d" cx="291.81" cy="605.29" r="1.15"/><circle class="d" cx="291.91" cy="604.87" r="1.15"/><circle class="d" cx="291.81" cy="604.79" r="1.15"/><circle class="d" cx="291.48" cy="604.78" r="1.15"/><circle class="d" cx="292.02" cy="604.68" r="1.15"/><circle class="d" cx="291.94" cy="604.58" r="1.15"/><circle class="d" cx="294.95" cy="605.4" r="1.15"/><circle class="d" cx="294.87" cy="605.38" r="1.15"/><circle class="d" cx="295.81" cy="605.37" r="1.15"/><circle class="d" cx="295.91" cy="605.07" r="1.15"/><circle class="d" cx="294.95" cy="604.99" r="1.15"/><circle class="d" cx="295.3" cy="604.55" r="1.15"/><circle class="d" cx="298.83" cy="605.2" r="1.15"/><circle class="d" cx="298.69" cy="604.84" r="1.15"/><circle class="d" cx="298.66" cy="604.33" r="1.15"/><circle class="d" cx="299.18" cy="604.17" r="1.15"/><circle class="d" cx="303.07" cy="605.2" r="1.15"/><circle class="d" cx="303.31" cy="605.16" r="1.15"/><circle class="d" cx="302.46" cy="605.06" r="1.15"/><circle class="d" cx="303.95" cy="604.91" r="1.15"/><circle class="d" cx="303.12" cy="604.7" r="1.15"/><circle class="d" cx="302.74" cy="604.69" r="1.15"/><circle class="d" cx="303.64" cy="604.47" r="1.15"/><circle class="d" cx="306.79" cy="605.17" r="1.15"/><circle class="d" cx="307.65" cy="604.82" r="1.15"/><circle class="d" cx="306.57" cy="604.65" r="1.15"/><circle class="d" cx="307.48" cy="603.52" r="1.15"/><circle class="d" cx="311.53" cy="605.48" r="1.15"/><circle class="d" cx="311.3" cy="604.21" r="1.15"/><circle class="d" cx="311.24" cy="603.24" r="1.15"/><circle class="d" cx="314.83" cy="605.01" r="1.15"/><circle class="d" cx="315.59" cy="604.42" r="1.15"/><circle class="d" cx="315.39" cy="604.33" r="1.15"/><circle class="d" cx="315.8" cy="603.89" r="1.15"/><circle class="d" cx="315.4" cy="603.45" r="1.15"/><circle class="d" cx="315.79" cy="603.07" r="1.15"/><circle class="d" cx="314.31" cy="602.9" r="1.15"/><circle class="d" cx="315.75" cy="602.75" r="1.15"/><circle class="d" cx="318.92" cy="605.63" r="1.15"/><circle class="d" cx="319.55" cy="605" r="1.15"/><circle class="d" cx="318.5" cy="604.39" r="1.15"/><circle class="d" cx="318.31" cy="604.01" r="1.15"/><circle class="d" cx="318.62" cy="603.99" r="1.15"/><circle class="d" cx="318.91" cy="603.64" r="1.15"/><circle class="d" cx="319.13" cy="603.45" r="1.15"/><circle class="d" cx="323.11" cy="604.6" r="1.15"/><circle class="d" cx="323.02" cy="603.49" r="1.15"/><circle class="d" cx="323.05" cy="603.48" r="1.15"/><circle class="d" cx="323.16" cy="603.44" r="1.15"/><circle class="d" cx="322.13" cy="601.91" r="1.15"/><circle class="d" cx="327.19" cy="604.32" r="1.15"/><circle class="d" cx="326.34" cy="604.05" r="1.15"/><circle class="d" cx="326.43" cy="603.78" r="1.15"/><circle class="d" cx="326.47" cy="603.78" r="1.15"/><circle class="d" cx="327.18" cy="603.63" r="1.15"/><circle class="d" cx="326.54" cy="603.01" r="1.15"/><circle class="d" cx="327.37" cy="602.45" r="1.15"/><circle class="d" cx="330.05" cy="604.26" r="1.15"/><circle class="d" cx="331.04" cy="604.24" r="1.15"/><circle class="d" cx="330.4" cy="602.61" r="1.15"/><circle class="d" cx="334.28" cy="603.93" r="1.15"/><circle class="d" cx="335.31" cy="603.83" r="1.15"/><circle class="d" cx="334.85" cy="602.75" r="1.15"/><circle class="d" cx="335.26" cy="602.15" r="1.15"/><circle class="d" cx="338.81" cy="604.18" r="1.15"/><circle class="d" cx="337.97" cy="603.74" r="1.15"/><circle class="d" cx="339.03" cy="603.68" r="1.15"/><circle class="d" cx="338.78" cy="603.06" r="1.15"/><circle class="d" cx="338.52" cy="603.02" r="1.15"/><circle class="d" cx="338.06" cy="602.95" r="1.15"/><circle class="d" cx="338.82" cy="602.7" r="1.15"/><circle class="d" cx="338.93" cy="602.05" r="1.15"/><circle class="d" cx="342.15" cy="604.43" r="1.15"/><circle class="d" cx="342.42" cy="602.8" r="1.15"/><circle class="d" cx="342.73" cy="602.67" r="1.15"/><circle class="d" cx="341.73" cy="602.13" r="1.15"/><circle class="d" cx="342.79" cy="601.86" r="1.15"/><circle class="d" cx="345.8" cy="603.33" r="1.15"/><circle class="d" cx="346.94" cy="603.28" r="1.15"/><circle class="d" cx="345.83" cy="601.55" r="1.15"/><circle class="d" cx="346.52" cy="601.14" r="1.15"/><circle class="d" cx="345.57" cy="601.05" r="1.15"/><circle class="d" cx="350.4" cy="602.95" r="1.15"/><circle class="d" cx="350.87" cy="602" r="1.15"/><circle class="d" cx="349.72" cy="601.92" r="1.15"/><circle class="d" cx="350.84" cy="601.45" r="1.15"/><circle class="d" cx="349.57" cy="600.74" r="1.15"/><circle class="d" cx="354.16" cy="602.88" r="1.15"/><circle class="d" cx="354.23" cy="602.07" r="1.15"/><circle class="d" cx="354.99" cy="601.29" r="1.15"/><circle class="d" cx="354.76" cy="600.82" r="1.15"/><circle class="d" cx="354.54" cy="599.74" r="1.15"/><circle class="d" cx="358.02" cy="603.43" r="1.15"/><circle class="d" cx="357.97" cy="602.37" r="1.15"/><circle class="d" cx="357.77" cy="601.14" r="1.15"/><circle class="d" cx="358.77" cy="601.01" r="1.15"/><circle class="d" cx="357.83" cy="600.81" r="1.15"/><circle class="d" cx="357.44" cy="600.17" r="1.15"/><circle class="d" cx="358.79" cy="598.13" r="1.15"/><circle class="d" cx="361.45" cy="602.53" r="1.15"/><circle class="d" cx="362.4" cy="601.03" r="1.15"/><circle class="d" cx="362.33" cy="600.65" r="1.15"/><circle class="d" cx="366.09" cy="602.72" r="1.15"/><circle class="d" cx="365.35" cy="600.78" r="1.15"/><circle class="d" cx="365.76" cy="600.24" r="1.15"/><circle class="d" cx="365.95" cy="600.14" r="1.15"/><circle class="d" cx="366.66" cy="599.81" r="1.15"/><circle class="d" cx="365.76" cy="599.12" r="1.15"/><circle class="d" cx="365.37" cy="597.85" r="1.15"/><circle class="d" cx="369.74" cy="601.56" r="1.15"/><circle class="d" cx="369.37" cy="601.32" r="1.15"/><circle class="d" cx="370.5" cy="601.18" r="1.15"/><circle class="d" cx="370.16" cy="600.58" r="1.15"/><circle class="d" cx="370.31" cy="599.61" r="1.15"/><circle class="d" cx="370.2" cy="598.16" r="1.15"/><circle class="d" cx="369.65" cy="597.93" r="1.15"/><circle class="d" cx="369.74" cy="597.48" r="1.15"/><circle class="d" cx="373.38" cy="602.62" r="1.15"/><circle class="d" cx="373.46" cy="600.85" r="1.15"/><circle class="d" cx="374.14" cy="600.53" r="1.15"/><circle class="d" cx="374.42" cy="598.92" r="1.15"/><circle class="d" cx="373.79" cy="597.35" r="1.15"/><circle class="d" cx="373.64" cy="596.31" r="1.15"/><circle class="d" cx="373.21" cy="595.14" r="1.15"/><circle class="d" cx="378.39" cy="600.49" r="1.15"/><circle class="d" cx="377.5" cy="599.2" r="1.15"/><circle class="d" cx="377.31" cy="598.77" r="1.15"/><circle class="d" cx="377.58" cy="598.49" r="1.15"/><circle class="d" cx="378.14" cy="593.38" r="1.15"/><circle class="d" cx="381.2" cy="599.68" r="1.15"/><circle class="d" cx="381.5" cy="599.43" r="1.15"/><circle class="d" cx="381" cy="598.81" r="1.15"/><circle class="d" cx="381.75" cy="597.81" r="1.15"/><circle class="d" cx="381.03" cy="595.7" r="1.15"/><circle class="d" cx="381.42" cy="592.94" r="1.15"/><circle class="d" cx="382.1" cy="592.23" r="1.15"/><circle class="d" cx="385.86" cy="601.83" r="1.15"/><circle class="d" cx="385.99" cy="596.13" r="1.15"/><circle class="d" cx="385.54" cy="596.06" r="1.15"/><circle class="d" cx="388.78" cy="602.11" r="1.15"/><circle class="d" cx="389.54" cy="597.1" r="1.15"/><circle class="d" cx="388.73" cy="595.68" r="1.15"/><circle class="d" cx="389.88" cy="594.9" r="1.15"/><circle class="d" cx="390.08" cy="594.88" r="1.15"/><circle class="d" cx="392.73" cy="598.87" r="1.15"/><circle class="d" cx="392.78" cy="598.58" r="1.15"/><circle class="d" cx="394.02" cy="596.8" r="1.15"/><circle class="d" cx="392.97" cy="595.98" r="1.15"/><circle class="d" cx="393.55" cy="590.25" r="1.15"/><circle class="d" cx="397.92" cy="602.06" r="1.15"/><circle class="d" cx="397.44" cy="600.37" r="1.15"/><circle class="d" cx="397.43" cy="596.62" r="1.15"/><circle class="d" cx="397.63" cy="595.03" r="1.15"/><circle class="d" cx="397.74" cy="594.03" r="1.15"/><circle class="d" cx="397.17" cy="592.87" r="1.15"/><circle class="d" cx="397.79" cy="592.26" r="1.15"/><circle class="d" cx="401.86" cy="599.33" r="1.15"/><circle class="d" cx="400.72" cy="596.9" r="1.15"/><circle class="d" cx="401.84" cy="596.77" r="1.15"/><circle class="d" cx="400.44" cy="595.51" r="1.15"/><circle class="d" cx="401.83" cy="594.7" r="1.15"/><circle class="d" cx="401.91" cy="587.64" r="1.15"/><circle class="d" cx="404.61" cy="597.47" r="1.15"/><circle class="d" cx="405.41" cy="594.24" r="1.15"/><circle class="d" cx="404.78" cy="592.58" r="1.15"/><circle class="d" cx="404.97" cy="591.64" r="1.15"/><circle class="d" cx="408.62" cy="597.39" r="1.15"/><circle class="d" cx="408.38" cy="597.3" r="1.15"/><circle class="d" cx="409.24" cy="596.53" r="1.15"/><circle class="d" cx="409.3" cy="595.39" r="1.15"/><circle class="d" cx="409.8" cy="593.62" r="1.15"/><circle class="d" cx="408.76" cy="592.66" r="1.15"/><circle class="d" cx="409.18" cy="592.65" r="1.15"/><circle class="d" cx="408.33" cy="591.94" r="1.15"/><circle class="d" cx="412.71" cy="598.45" r="1.15"/><circle class="d" cx="413.25" cy="593.73" r="1.15"/><circle class="d" cx="412.56" cy="591.58" r="1.15"/><circle class="d" cx="416.9" cy="599.81" r="1.15"/><circle class="d" cx="417.54" cy="597.79" r="1.15"/><circle class="d" cx="416.58" cy="594.27" r="1.15"/><circle class="d" cx="416.48" cy="592.94" r="1.15"/><circle class="d" cx="417.52" cy="591.71" r="1.15"/><circle class="d" cx="416.34" cy="590.71" r="1.15"/><circle class="d" cx="420.63" cy="593.51" r="1.15"/><circle class="d" cx="421.15" cy="593.29" r="1.15"/><circle class="d" cx="421.12" cy="592.61" r="1.15"/><circle class="d" cx="420.14" cy="586.85" r="1.15"/><circle class="d" cx="425.51" cy="596.53" r="1.15"/><circle class="d" cx="424.03" cy="596.28" r="1.15"/><circle class="d" cx="425.13" cy="594.69" r="1.15"/><circle class="d" cx="424.21" cy="594.33" r="1.15"/><circle class="d" cx="424.72" cy="591.78" r="1.15"/><circle class="d" cx="424.81" cy="588.93" r="1.15"/><circle class="d" cx="425.49" cy="582.99" r="1.15"/><circle class="d" cx="424.92" cy="582.3" r="1.15"/><circle class="d" cx="428.7" cy="593.76" r="1.15"/><circle class="d" cx="427.99" cy="593.61" r="1.15"/><circle class="d" cx="428.63" cy="593.54" r="1.15"/><circle class="d" cx="428.8" cy="592.31" r="1.15"/><circle class="d" cx="429.16" cy="583.88" r="1.15"/><circle class="d" cx="432.04" cy="596.42" r="1.15"/><circle class="d" cx="432.95" cy="593.19" r="1.15"/><circle class="d" cx="433.2" cy="592.34" r="1.15"/><circle class="d" cx="433.07" cy="591.99" r="1.15"/><circle class="d" cx="432.73" cy="591.55" r="1.15"/><circle class="d" cx="432.5" cy="590.43" r="1.15"/><circle class="d" cx="432.7" cy="588.83" r="1.15"/><circle class="d" cx="436.87" cy="596.39" r="1.15"/><circle class="d" cx="435.83" cy="594" r="1.15"/><circle class="d" cx="436.33" cy="593.41" r="1.15"/><circle class="d" cx="436.67" cy="593" r="1.15"/><circle class="d" cx="436.3" cy="592.07" r="1.15"/><circle class="d" cx="436.97" cy="589.85" r="1.15"/><circle class="d" cx="436.66" cy="588.28" r="1.15"/><circle class="d" cx="436.86" cy="586.11" r="1.15"/><circle class="d" cx="441.18" cy="592.42" r="1.15"/><circle class="d" cx="440.35" cy="590.16" r="1.15"/><circle class="d" cx="439.88" cy="585.54" r="1.15"/><circle class="d" cx="444.44" cy="597.91" r="1.15"/><circle class="d" cx="443.75" cy="595.37" r="1.15"/><circle class="d" cx="443.69" cy="594.45" r="1.15"/><circle class="d" cx="444.77" cy="586.47" r="1.15"/><circle class="d" cx="444.7" cy="577.66" r="1.15"/><circle class="d" cx="448.22" cy="595.17" r="1.15"/><circle class="d" cx="447.82" cy="593.49" r="1.15"/><circle class="d" cx="447.56" cy="586.65" r="1.15"/><circle class="d" cx="448.35" cy="582.52" r="1.15"/><circle class="d" cx="452.02" cy="594.97" r="1.15"/><circle class="d" cx="451.45" cy="593.64" r="1.15"/><circle class="d" cx="452.79" cy="592.19" r="1.15"/><circle class="d" cx="452.84" cy="590.53" r="1.15"/><circle class="d" cx="452.91" cy="589.1" r="1.15"/><circle class="d" cx="452.61" cy="586.42" r="1.15"/><circle class="d" cx="455.95" cy="595.59" r="1.15"/><circle class="d" cx="456.07" cy="587.17" r="1.15"/><circle class="d" cx="455.77" cy="582.92" r="1.15"/><circle class="d" cx="456.33" cy="579.77" r="1.15"/><circle class="d" cx="455.36" cy="578.87" r="1.15"/><circle class="d" cx="455.63" cy="575.77" r="1.15"/><circle class="d" cx="459.93" cy="595.64" r="1.15"/><circle class="d" cx="460.21" cy="589.59" r="1.15"/><circle class="d" cx="459.87" cy="586.93" r="1.15"/><circle class="d" cx="460.73" cy="586.13" r="1.15"/><circle class="d" cx="459.57" cy="583.84" r="1.15"/><circle class="d" cx="460.24" cy="582.24" r="1.15"/><circle class="d" cx="463.2" cy="595.7" r="1.15"/><circle class="d" cx="464.62" cy="583.79" r="1.15"/><circle class="d" cx="464.22" cy="581.03" r="1.15"/><circle class="d" cx="464.27" cy="579.44" r="1.15"/><circle class="d" cx="463.98" cy="571.89" r="1.15"/><circle class="d" cx="468.34" cy="589.79" r="1.15"/><circle class="d" cx="467.14" cy="588.44" r="1.15"/><circle class="d" cx="467.9" cy="585.89" r="1.15"/><circle class="d" cx="468.14" cy="584.7" r="1.15"/><circle class="d" cx="468.06" cy="580.01" r="1.15"/><circle class="d" cx="467.4" cy="579.31" r="1.15"/><circle class="d" cx="467.6" cy="563.39" r="1.15"/><circle class="d" cx="471.95" cy="590.13" r="1.15"/><circle class="d" cx="471.87" cy="585.64" r="1.15"/><circle class="d" cx="472.46" cy="581.5" r="1.15"/><circle class="d" cx="471.5" cy="560.54" r="1.15"/><circle class="d" cx="475.6" cy="587.56" r="1.15"/><circle class="d" cx="475.9" cy="586.47" r="1.15"/><circle class="d" cx="476.22" cy="583.35" r="1.15"/><circle class="d" cx="475.81" cy="578.96" r="1.15"/><circle class="d" cx="475.52" cy="578.95" r="1.15"/><circle class="d" cx="475.47" cy="575.84" r="1.15"/><circle class="d" cx="478.79" cy="591.13" r="1.15"/><circle class="d" cx="480.35" cy="586.95" r="1.15"/><circle class="d" cx="479.01" cy="585.43" r="1.15"/><circle class="d" cx="480.29" cy="579.35" r="1.15"/><circle class="d" cx="480.37" cy="576.29" r="1.15"/><circle class="d" cx="480.11" cy="572.59" r="1.15"/><circle class="d" cx="482.75" cy="581.42" r="1.15"/><circle class="d" cx="483.07" cy="578.15" r="1.15"/><circle class="d" cx="483.16" cy="576.64" r="1.15"/><circle class="d" cx="482.73" cy="576.29" r="1.15"/><circle class="d" cx="483.25" cy="575.17" r="1.15"/><circle class="d" cx="483.58" cy="562.63" r="1.15"/><circle class="d" cx="484.15" cy="562.17" r="1.15"/><circle class="d" cx="483.55" cy="543.21" r="1.15"/><circle class="d" cx="488.13" cy="574.79" r="1.15"/><circle class="d" cx="487.2" cy="571.81" r="1.15"/><circle class="d" cx="487.5" cy="568.75" r="1.15"/><circle class="d" cx="486.85" cy="565.5" r="1.15"/><circle class="d" cx="487.09" cy="557.1" r="1.15"/><circle class="d" cx="487.96" cy="554.54" r="1.15"/><circle class="d" cx="491" cy="580.13" r="1.15"/><circle class="d" cx="491.34" cy="564.42" r="1.15"/><circle class="d" cx="491.88" cy="560.79" r="1.15"/><circle class="d" cx="491.34" cy="559.76" r="1.15"/><circle class="d" cx="490.84" cy="554.54" r="1.15"/><circle class="d" cx="490.88" cy="551.18" r="1.15"/><circle class="d" cx="491.15" cy="546.42" r="1.15"/><circle class="d" cx="495.97" cy="565.22" r="1.15"/><circle class="d" cx="495.83" cy="545.51" r="1.15"/><circle class="d" cx="495.89" cy="543.91" r="1.15"/><circle class="d" cx="498.67" cy="548.42" r="1.15"/><circle class="d" cx="499.36" cy="546.53" r="1.15"/><circle class="d" cx="499.81" cy="540.34" r="1.15"/><circle class="d" cx="503.09" cy="528.39" r="1.15"/><circle class="d" cx="502.66" cy="518.42" r="1.15"/><circle class="d" cx="503.57" cy="514.01" r="1.15"/><circle class="d" cx="506.71" cy="546.7" r="1.15"/><circle class="d" cx="506.71" cy="529.77" r="1.15"/><circle class="d" cx="506.22" cy="525.63" r="1.15"/><circle class="d" cx="506.42" cy="522.63" r="1.15"/><circle class="d" cx="507.38" cy="518.87" r="1.15"/><circle class="d" cx="507" cy="506.14" r="1.15"/></g><path d="M288.5 507V610.4H510" fill="none" stroke="#1a1a1a" stroke-width="0.9"/><text x="286.6" y="608.55" font-size="6.5" text-anchor="end" font-weight="normal" font-style="normal" fill="#222" letter-spacing="0.28">0</text><text x="286.6" y="579.38" font-size="6.5" text-anchor="end" font-weight="normal" font-style="normal" fill="#222" letter-spacing="0.28">50000</text><text x="286.6" y="550.22" font-size="6.5" text-anchor="end" font-weight="normal" font-style="normal" fill="#222" letter-spacing="0.28">100000</text><text x="286.6" y="521.05" font-size="6.5" text-anchor="end" font-weight="normal" font-style="normal" fill="#222" letter-spacing="0.28">150000</text><path class="tk" d="M291.5 612.3v4.3M294.3 612.3v4.3M297.1 612.3v3.9M299.9 612.3v4.3M302.69 612.3v3.9M305.49 612.3v3.9M308.29 612.3v3.9M311.09 612.3v3.9M313.89 612.3v3.9M316.69 612.3v3.4M319.49 612.3v3.9M322.29 612.3v3.4M325.08 612.3v3.9M327.88 612.3v3.4M330.68 612.3v3.4M333.48 612.3v3.9M336.28 612.3v3.9M339.08 612.3v3.4M341.88 612.3v3.4M344.68 612.3v3.9M347.47 612.3v3.9M350.27 612.3v3.9M353.07 612.3v3.9M355.87 612.3v3.9M358.67 612.3v4.3M361.47 612.3v3.4M364.27 612.3v3.4M367.06 612.3v3.4M369.86 612.3v4.3M372.66 612.3v4.3M375.46 612.3v4.3M378.26 612.3v4.3M381.06 612.3v3.9M383.86 612.3v4.3M386.66 612.3v3.9M389.45 612.3v3.4M392.25 612.3v4.3M395.05 612.3v4.3M397.85 612.3v4.3M400.65 612.3v4.3M403.45 612.3v4.3M406.25 612.3v3.9M409.05 612.3v3.9M411.84 612.3v3.4M414.64 612.3v3.9M417.44 612.3v3.4M420.24 612.3v4.3M423.04 612.3v4.3M425.84 612.3v3.4M428.64 612.3v3.9M431.44 612.3v3.4M434.23 612.3v3.9M437.03 612.3v3.9M439.83 612.3v3.9M442.63 612.3v3.9M445.43 612.3v3.4M448.23 612.3v4.3M451.03 612.3v4.3M453.82 612.3v3.9M456.62 612.3v3.9M459.42 612.3v3.9M462.22 612.3v3.4M465.02 612.3v4.3M467.82 612.3v3.9M470.62 612.3v3.9M473.42 612.3v4.3M476.21 612.3v4.3M479.01 612.3v3.9M481.81 612.3v3.9M484.61 612.3v3.4M487.41 612.3v4.3M490.21 612.3v3.9M493.01 612.3v3.4M495.81 612.3v3.4M498.6 612.3v3.9M501.4 612.3v3.4M504.2 612.3v4.3M507 612.3v3.9"/><text x="409" y="506.2" font-size="7.0" text-anchor="middle" font-weight="normal" font-style="normal" fill="#111" >CD8+ Eff CD45RA+ CD27-</text><text x="409.5" y="622.3" font-size="7.0" text-anchor="middle" font-weight="normal" font-style="normal" fill="#111" >volunteers ordered by median</text><text x="285.3" y="533.4" font-size="6.8" text-anchor="middle" fill="#111"  transform="rotate(-90 285.3 533.4)">value</text><text x="323" y="519" font-size="6.6" text-anchor="middle" font-weight="bold" font-style="italic" fill="#111" >Effector</text><path d="M323.2 524.7A22.1 22.1 0 1 1 316.74 525.67L317.76 529A18.61 18.61 0 1 0 323.2 528.19Z" fill="#4cba3c"/><path d="M316.74 525.67A22.1 22.1 0 0 1 323.2 524.7L323.2 528.19A18.61 18.61 0 0 0 317.76 529Z" fill="#6b3a9e"/><circle cx="323.2" cy="546.8" r="21.9" fill="none" stroke="#1a1a1a" stroke-width="0.55"/><circle cx="323.2" cy="546.8" r="18.61" fill="#fff" stroke="#1a1a1a" stroke-width="0.5"/><circle cx="323.2" cy="546.8" r="17.5" fill="#fff" stroke="#8e8e8e" stroke-width="0.6"/><path class="pw" d="M323.2 546.8L323.2 530.18A16.62 16.62 0 1 1 308.81 538.49Z" fill="#2c7fc1"/><path class="pw" d="M323.2 546.8L308.81 538.49A16.62 16.62 0 0 1 317.52 531.18Z" fill="#66c49c"/><path class="pw" d="M323.2 546.8L317.52 531.18A16.62 16.62 0 0 1 318.34 530.91Z" fill="#c6c6c6"/><path class="pw" d="M323.2 546.8L318.34 530.91A16.62 16.62 0 0 1 323.2 530.18Z" fill="#e0555a"/><circle cx="323.2" cy="546.8" r="16.62" fill="none" stroke="#111" stroke-width="0.5"/><text x="5.2" y="653.1" font-size="14.4" text-anchor="start" font-weight="normal" font-style="normal" fill="#111" >C</text><clipPath id="c602"><rect x="31.1" y="649" width="219.9" height="104.2"/></clipPath><g clip-path="url(#c602)"><path class="w" d="M34 747.89V747.92M34 748.07V748.08"/><path class="w" d="M37.85 747.53V747.66M37.85 747.84V747.97"/><path class="w" d="M41.71 747.77V748.01M41.71 748.53V748.83"/><path class="w" d="M45.56 747.62V748.04M45.56 748.55V748.65"/><path class="w" d="M49.42 747.65V747.71M49.42 748.09V748.42"/><path class="w" d="M53.27 747.27V747.53M53.27 747.84V747.89"/><path class="w" d="M57.13 747.42V747.54M57.13 747.73V747.8"/><path class="w" d="M60.98 746.92V747.29M60.98 747.63V747.99"/><path class="w" d="M64.84 746.75V746.81M64.84 747.09V747.09"/><path class="w" d="M68.69 746.48V746.83M68.69 747.21V747.23"/><path class="w" d="M72.55 746.17V746.21M72.55 746.36V746.47"/><path class="w" d="M76.4 746.1V746.13M76.4 746.75V747.05"/><path class="w" d="M80.25 745.2V745.23M80.25 746.13V746.13"/><path class="w" d="M84.11 746.06V746.16M84.11 746.52V746.32"/><path class="w" d="M87.96 744.63V744.81M87.96 745.76V746.55"/><path class="w" d="M91.82 746.17V746.26M91.82 746.57V746.8"/><path class="w" d="M95.67 745.95V746.03M95.67 746.92V747.48"/><path class="w" d="M99.53 744.28V744.76M99.53 745.51V745.73"/><path class="w" d="M103.38 743.94V744.22M103.38 745.97V746.38"/><path class="w" d="M107.24 741.46V743.23M107.24 745.26V745.51"/><path class="w" d="M111.09 743.87V744.37M111.09 744.91V744.91"/><path class="w" d="M114.95 741.32V742.75M114.95 744.89V745.18"/><path class="w" d="M118.8 740.31V741.18M118.8 744.39V745.58"/><path class="w" d="M122.65 741.82V742.01M122.65 742.99V743.77"/><path class="w" d="M126.51 740.74V741.45M126.51 744.55V744.61"/><path class="w" d="M130.36 740.02V740.36M130.36 741.22V742.33"/><path class="w" d="M134.22 740.26V740.96M134.22 743.45V744.76"/><path class="w" d="M138.07 734.59V737.87M138.07 740.69V741.42"/><path class="w" d="M141.93 739.06V739.31M141.93 741.62V741.74"/><path class="w" d="M145.78 735.87V738.55M145.78 742.46V743.1"/><path class="w" d="M149.64 738.88V740.13M149.64 740.97V741"/><path class="w" d="M153.49 735.54V736.9M153.49 741.87V745.73"/><path class="w" d="M157.35 735.8V737.44M157.35 743.63V745.49"/><path class="w" d="M161.2 736.69V738.79M161.2 741.12V742.78"/><path class="w" d="M165.05 734.87V735.39M165.05 740.43V744.94"/><path class="w" d="M168.91 737.7V737.09M168.91 738.22V738.27"/><path class="w" d="M172.76 737.57V737.76M172.76 738.69V739.9"/><path class="w" d="M176.62 736.78V737.06M176.62 738.82V740.3"/><path class="w" d="M180.47 728.32V731.01M180.47 735.9V738.11"/><path class="w" d="M184.33 737.16V736.02M184.33 737.66V738.7"/><path class="w" d="M188.18 734.34V736.19M188.18 738.71V739.36"/><path class="w" d="M192.04 725.82V727.11M192.04 731.57V734.72"/><path class="w" d="M195.89 732.94V733.39M195.89 734.1V734.36"/><path class="w" d="M199.75 732.44V732.72M199.75 735.66V736.92"/><path class="w" d="M203.6 723.3V729.79M203.6 734.19V739.25"/><path class="w" d="M207.45 733.72V734.05M207.45 736.71V739.03"/><path class="w" d="M211.31 729.08V730.37M211.31 733.59V738.13"/><path class="w" d="M215.16 718.96V722.28M215.16 731.94V738.29"/><path class="w" d="M219.02 726.18V728.52M219.02 734.43V738.97"/><path class="w" d="M222.87 725.58V726.89M222.87 729.29V730.56"/><path class="w" d="M226.73 728.69V725.12M226.73 731.74V732.49"/><path class="w" d="M230.58 722.72V723.14M230.58 735.31V741.63"/><path class="w" d="M234.44 727.15V728.25M234.44 730.04V730.75"/><path class="w" d="M238.29 712.08V715.5M238.29 719.6V719.6"/><path class="w" d="M242.15 702.3V705.46M242.15 720.24V732.53"/><path class="w" d="M246 686.46V687.97M246 703.91V713.78"/><rect class="b" x="32.35" y="747.92" width="3.3" height="0.8"/><path class="m" d="M32.35 748.03h3.3"/><rect class="b" x="36.2" y="747.66" width="3.3" height="0.8"/><path class="m" d="M36.2 747.75h3.3"/><rect class="b" x="40.06" y="748.01" width="3.3" height="0.8"/><path class="m" d="M40.06 748.03h3.3"/><rect class="b" x="43.91" y="748.04" width="3.3" height="0.8"/><path class="m" d="M43.91 748.46h3.3"/><rect class="b" x="47.77" y="747.71" width="3.3" height="0.8"/><path class="m" d="M47.77 747.77h3.3"/><rect class="b" x="51.62" y="747.53" width="3.3" height="0.8"/><path class="m" d="M51.62 747.78h3.3"/><rect class="b" x="55.48" y="747.54" width="3.3" height="0.8"/><path class="m" d="M55.48 747.65h3.3"/><rect class="b" x="59.33" y="747.29" width="3.3" height="0.8"/><path class="m" d="M59.33 747.46h3.3"/><rect class="b" x="63.19" y="746.81" width="3.3" height="0.8"/><path class="m" d="M63.19 746.94h3.3"/><rect class="b" x="67.04" y="746.83" width="3.3" height="0.8"/><path class="m" d="M67.04 747.18h3.3"/><rect class="b" x="70.9" y="746.21" width="3.3" height="0.8"/><path class="m" d="M70.9 746.25h3.3"/><rect class="b" x="74.75" y="746.13" width="3.3" height="0.8"/><path class="m" d="M74.75 746.44h3.3"/><rect class="b" x="78.6" y="745.23" width="3.3" height="0.89"/><path class="m" d="M78.6 745.95h3.3"/><rect class="b" x="82.46" y="746.16" width="3.3" height="0.8"/><path class="m" d="M82.46 746.26h3.3"/><rect class="b" x="86.31" y="744.81" width="3.3" height="0.95"/><path class="m" d="M86.31 745.48h3.3"/><rect class="b" x="90.17" y="746.26" width="3.3" height="0.8"/><path class="m" d="M90.17 746.34h3.3"/><rect class="b" x="94.02" y="746.03" width="3.3" height="0.89"/><path class="m" d="M94.02 746.39h3.3"/><rect class="b" x="97.88" y="744.76" width="3.3" height="0.8"/><path class="m" d="M97.88 745.18h3.3"/><rect class="b" x="101.73" y="744.22" width="3.3" height="1.75"/><path class="m" d="M101.73 745.07h3.3"/><rect class="b" x="105.59" y="743.23" width="3.3" height="2.02"/><path class="m" d="M105.59 745h3.3"/><rect class="b" x="109.44" y="744.37" width="3.3" height="0.8"/><path class="m" d="M109.44 744.86h3.3"/><rect class="b" x="113.3" y="742.75" width="3.3" height="2.14"/><path class="m" d="M113.3 743.62h3.3"/><rect class="b" x="117.15" y="741.18" width="3.3" height="3.21"/><path class="m" d="M117.15 742.64h3.3"/><rect class="b" x="121" y="742.01" width="3.3" height="0.98"/><path class="m" d="M121 742.2h3.3"/><rect class="b" x="124.86" y="741.45" width="3.3" height="3.11"/><path class="m" d="M124.86 743.18h3.3"/><rect class="b" x="128.71" y="740.36" width="3.3" height="0.85"/><path class="m" d="M128.71 740.66h3.3"/><rect class="b" x="132.57" y="740.96" width="3.3" height="2.49"/><path class="m" d="M132.57 742.62h3.3"/><rect class="b" x="136.42" y="737.87" width="3.3" height="2.83"/><path class="m" d="M136.42 739.71h3.3"/><rect class="b" x="140.28" y="739.31" width="3.3" height="2.3"/><path class="m" d="M140.28 740.39h3.3"/><rect class="b" x="144.13" y="738.55" width="3.3" height="3.91"/><path class="m" d="M144.13 739h3.3"/><rect class="b" x="147.99" y="740.13" width="3.3" height="0.84"/><path class="m" d="M147.99 740.73h3.3"/><rect class="b" x="151.84" y="736.9" width="3.3" height="4.97"/><path class="m" d="M151.84 739.99h3.3"/><rect class="b" x="155.7" y="737.44" width="3.3" height="6.19"/><path class="m" d="M155.7 738.55h3.3"/><rect class="b" x="159.55" y="738.79" width="3.3" height="2.33"/><path class="m" d="M159.55 739.6h3.3"/><rect class="b" x="163.4" y="735.39" width="3.3" height="5.03"/><path class="m" d="M163.4 735.91h3.3"/><rect class="b" x="167.26" y="737.09" width="3.3" height="1.12"/><path class="m" d="M167.26 737.95h3.3"/><rect class="b" x="171.11" y="737.76" width="3.3" height="0.93"/><path class="m" d="M171.11 738.5h3.3"/><rect class="b" x="174.97" y="737.06" width="3.3" height="1.76"/><path class="m" d="M174.97 737.34h3.3"/><rect class="b" x="178.82" y="731.01" width="3.3" height="4.89"/><path class="m" d="M178.82 733.7h3.3"/><rect class="b" x="182.68" y="736.02" width="3.3" height="1.64"/><path class="m" d="M182.68 737.24h3.3"/><rect class="b" x="186.53" y="736.19" width="3.3" height="2.51"/><path class="m" d="M186.53 738.05h3.3"/><rect class="b" x="190.39" y="727.11" width="3.3" height="4.45"/><path class="m" d="M190.39 728.41h3.3"/><rect class="b" x="194.24" y="733.39" width="3.3" height="0.8"/><path class="m" d="M194.24 733.85h3.3"/><rect class="b" x="198.1" y="732.72" width="3.3" height="2.95"/><path class="m" d="M198.1 734.02h3.3"/><rect class="b" x="201.95" y="729.79" width="3.3" height="4.4"/><path class="m" d="M201.95 731.79h3.3"/><rect class="b" x="205.8" y="734.05" width="3.3" height="2.65"/><path class="m" d="M205.8 734.38h3.3"/><rect class="b" x="209.66" y="730.37" width="3.3" height="3.22"/><path class="m" d="M209.66 731.44h3.3"/><rect class="b" x="213.51" y="722.28" width="3.3" height="9.67"/><path class="m" d="M213.51 725.6h3.3"/><rect class="b" x="217.37" y="728.52" width="3.3" height="5.91"/><path class="m" d="M217.37 731.11h3.3"/><rect class="b" x="221.22" y="726.89" width="3.3" height="2.4"/><path class="m" d="M221.22 728.09h3.3"/><rect class="b" x="225.08" y="725.12" width="3.3" height="6.62"/><path class="m" d="M225.08 730.09h3.3"/><rect class="b" x="228.93" y="723.14" width="3.3" height="12.16"/><path class="m" d="M228.93 730.54h3.3"/><rect class="b" x="232.79" y="728.25" width="3.3" height="1.8"/><path class="m" d="M232.79 729.34h3.3"/><rect class="b" x="236.64" y="715.5" width="3.3" height="4.1"/><path class="m" d="M236.64 719.53h3.3"/><rect class="b" x="240.5" y="705.46" width="3.3" height="14.79"/><path class="m" d="M240.5 712.06h3.3"/><rect class="b" x="244.35" y="687.97" width="3.3" height="15.94"/><path class="m" d="M244.35 695.56h3.3"/><circle class="d" cx="34.23" cy="749.02" r="1.15"/><circle class="d" cx="34.71" cy="748.08" r="1.15"/><circle class="d" cx="34.01" cy="748.06" r="1.15"/><circle class="d" cx="33.41" cy="748" r="1.15"/><circle class="d" cx="34.01" cy="747.89" r="1.15"/><circle class="d" cx="33.98" cy="747.44" r="1.15"/><circle class="d" cx="38.11" cy="747.97" r="1.15"/><circle class="d" cx="37.66" cy="747.8" r="1.15"/><circle class="d" cx="37.16" cy="747.7" r="1.15"/><circle class="d" cx="37.85" cy="747.53" r="1.15"/><circle class="d" cx="42.45" cy="748.83" r="1.15"/><circle class="d" cx="41.1" cy="748.53" r="1.15"/><circle class="d" cx="41.46" cy="748.03" r="1.15"/><circle class="d" cx="41.75" cy="748.01" r="1.15"/><circle class="d" cx="42.04" cy="747.77" r="1.15"/><circle class="d" cx="46.1" cy="748.65" r="1.15"/><circle class="d" cx="45.84" cy="748.46" r="1.15"/><circle class="d" cx="45.32" cy="747.62" r="1.15"/><circle class="d" cx="49.13" cy="748.42" r="1.15"/><circle class="d" cx="48.78" cy="747.77" r="1.15"/><circle class="d" cx="49.76" cy="747.65" r="1.15"/><circle class="d" cx="53.81" cy="747.89" r="1.15"/><circle class="d" cx="53.95" cy="747.78" r="1.15"/><circle class="d" cx="53.59" cy="747.27" r="1.15"/><circle class="d" cx="57.16" cy="747.8" r="1.15"/><circle class="d" cx="57.14" cy="747.65" r="1.15"/><circle class="d" cx="56.91" cy="747.42" r="1.15"/><circle class="d" cx="60.9" cy="747.99" r="1.15"/><circle class="d" cx="61.69" cy="747.51" r="1.15"/><circle class="d" cx="61.37" cy="747.42" r="1.15"/><circle class="d" cx="60.57" cy="746.92" r="1.15"/><circle class="d" cx="65.27" cy="747.75" r="1.15"/><circle class="d" cx="64.89" cy="747.09" r="1.15"/><circle class="d" cx="65.16" cy="746.94" r="1.15"/><circle class="d" cx="64.56" cy="746.81" r="1.15"/><circle class="d" cx="64.1" cy="746.75" r="1.15"/><circle class="d" cx="67.92" cy="747.23" r="1.15"/><circle class="d" cx="69.39" cy="747.18" r="1.15"/><circle class="d" cx="67.97" cy="746.48" r="1.15"/><circle class="d" cx="71.98" cy="746.47" r="1.15"/><circle class="d" cx="72.14" cy="746.25" r="1.15"/><circle class="d" cx="72.23" cy="746.17" r="1.15"/><circle class="d" cx="77.04" cy="747.05" r="1.15"/><circle class="d" cx="76.55" cy="746.78" r="1.15"/><circle class="d" cx="76.72" cy="746.67" r="1.15"/><circle class="d" cx="76.28" cy="746.21" r="1.15"/><circle class="d" cx="75.98" cy="746.1" r="1.15"/><circle class="d" cx="76.26" cy="744.08" r="1.15"/><circle class="d" cx="79.95" cy="746.13" r="1.15"/><circle class="d" cx="80.24" cy="746.13" r="1.15"/><circle class="d" cx="79.93" cy="745.95" r="1.15"/><circle class="d" cx="80.76" cy="745.23" r="1.15"/><circle class="d" cx="80.87" cy="745.2" r="1.15"/><circle class="d" cx="84.25" cy="747.1" r="1.15"/><circle class="d" cx="84.68" cy="746.32" r="1.15"/><circle class="d" cx="84.57" cy="746.2" r="1.15"/><circle class="d" cx="84.56" cy="746.06" r="1.15"/><circle class="d" cx="87.56" cy="746.55" r="1.15"/><circle class="d" cx="88.37" cy="745.81" r="1.15"/><circle class="d" cx="88.3" cy="745.64" r="1.15"/><circle class="d" cx="87.24" cy="745.32" r="1.15"/><circle class="d" cx="87.64" cy="744.64" r="1.15"/><circle class="d" cx="88.69" cy="744.63" r="1.15"/><circle class="d" cx="91.8" cy="746.8" r="1.15"/><circle class="d" cx="91.32" cy="746.34" r="1.15"/><circle class="d" cx="91.98" cy="746.17" r="1.15"/><circle class="d" cx="96.37" cy="747.48" r="1.15"/><circle class="d" cx="95.98" cy="746.73" r="1.15"/><circle class="d" cx="94.93" cy="746.06" r="1.15"/><circle class="d" cx="95" cy="745.95" r="1.15"/><circle class="d" cx="99.09" cy="745.73" r="1.15"/><circle class="d" cx="99.95" cy="745.44" r="1.15"/><circle class="d" cx="98.76" cy="744.92" r="1.15"/><circle class="d" cx="99.56" cy="744.28" r="1.15"/><circle class="d" cx="102.93" cy="746.38" r="1.15"/><circle class="d" cx="103.01" cy="745.83" r="1.15"/><circle class="d" cx="102.69" cy="744.31" r="1.15"/><circle class="d" cx="102.9" cy="743.94" r="1.15"/><circle class="d" cx="107.49" cy="745.51" r="1.15"/><circle class="d" cx="106.86" cy="745" r="1.15"/><circle class="d" cx="107.37" cy="741.46" r="1.15"/><circle class="d" cx="111.75" cy="746.54" r="1.15"/><circle class="d" cx="110.67" cy="744.91" r="1.15"/><circle class="d" cx="110.76" cy="744.86" r="1.15"/><circle class="d" cx="111.8" cy="744.37" r="1.15"/><circle class="d" cx="111.55" cy="743.87" r="1.15"/><circle class="d" cx="114.31" cy="745.18" r="1.15"/><circle class="d" cx="115.27" cy="745.02" r="1.15"/><circle class="d" cx="115.26" cy="744.49" r="1.15"/><circle class="d" cx="115.21" cy="742.75" r="1.15"/><circle class="d" cx="115.32" cy="742.74" r="1.15"/><circle class="d" cx="114.31" cy="741.32" r="1.15"/><circle class="d" cx="119.26" cy="745.58" r="1.15"/><circle class="d" cx="119.52" cy="744.62" r="1.15"/><circle class="d" cx="118.77" cy="743.72" r="1.15"/><circle class="d" cx="118.42" cy="741.57" r="1.15"/><circle class="d" cx="119.53" cy="741.06" r="1.15"/><circle class="d" cx="118.41" cy="740.31" r="1.15"/><circle class="d" cx="121.93" cy="743.77" r="1.15"/><circle class="d" cx="123.14" cy="742.2" r="1.15"/><circle class="d" cx="122.94" cy="741.82" r="1.15"/><circle class="d" cx="126.37" cy="744.61" r="1.15"/><circle class="d" cx="125.77" cy="744.55" r="1.15"/><circle class="d" cx="126.67" cy="743.18" r="1.15"/><circle class="d" cx="126" cy="741.45" r="1.15"/><circle class="d" cx="125.9" cy="740.74" r="1.15"/><circle class="d" cx="130.84" cy="742.33" r="1.15"/><circle class="d" cx="130.76" cy="740.84" r="1.15"/><circle class="d" cx="130.06" cy="740.48" r="1.15"/><circle class="d" cx="130.68" cy="740.02" r="1.15"/><circle class="d" cx="134.45" cy="744.76" r="1.15"/><circle class="d" cx="134.09" cy="743.68" r="1.15"/><circle class="d" cx="134.59" cy="742.74" r="1.15"/><circle class="d" cx="134.54" cy="742.5" r="1.15"/><circle class="d" cx="133.9" cy="740.44" r="1.15"/><circle class="d" cx="134.34" cy="740.26" r="1.15"/><circle class="d" cx="137.6" cy="741.42" r="1.15"/><circle class="d" cx="137.57" cy="740.45" r="1.15"/><circle class="d" cx="138.15" cy="738.96" r="1.15"/><circle class="d" cx="137.53" cy="734.59" r="1.15"/><circle class="d" cx="142" cy="741.74" r="1.15"/><circle class="d" cx="142" cy="741.7" r="1.15"/><circle class="d" cx="142.64" cy="741.37" r="1.15"/><circle class="d" cx="141.63" cy="739.4" r="1.15"/><circle class="d" cx="142.39" cy="739.29" r="1.15"/><circle class="d" cx="142.5" cy="739.06" r="1.15"/><circle class="d" cx="145.78" cy="743.1" r="1.15"/><circle class="d" cx="145.23" cy="742.46" r="1.15"/><circle class="d" cx="145.65" cy="739" r="1.15"/><circle class="d" cx="146.09" cy="738.55" r="1.15"/><circle class="d" cx="146.37" cy="735.87" r="1.15"/><circle class="d" cx="149.37" cy="742.61" r="1.15"/><circle class="d" cx="150.08" cy="741" r="1.15"/><circle class="d" cx="149.67" cy="740.86" r="1.15"/><circle class="d" cx="150.4" cy="740.59" r="1.15"/><circle class="d" cx="149.39" cy="739.97" r="1.15"/><circle class="d" cx="149.08" cy="738.88" r="1.15"/><circle class="d" cx="153.23" cy="745.73" r="1.15"/><circle class="d" cx="153.16" cy="741.87" r="1.15"/><circle class="d" cx="152.75" cy="739.99" r="1.15"/><circle class="d" cx="154.19" cy="736.9" r="1.15"/><circle class="d" cx="154.25" cy="735.54" r="1.15"/><circle class="d" cx="156.6" cy="745.49" r="1.15"/><circle class="d" cx="157.15" cy="744.98" r="1.15"/><circle class="d" cx="157.59" cy="739.59" r="1.15"/><circle class="d" cx="156.73" cy="737.52" r="1.15"/><circle class="d" cx="156.8" cy="737.42" r="1.15"/><circle class="d" cx="157.63" cy="735.8" r="1.15"/><circle class="d" cx="161.49" cy="742.78" r="1.15"/><circle class="d" cx="161.6" cy="741.12" r="1.15"/><circle class="d" cx="161.04" cy="739.6" r="1.15"/><circle class="d" cx="161.06" cy="738.79" r="1.15"/><circle class="d" cx="161.51" cy="736.69" r="1.15"/><circle class="d" cx="165.55" cy="744.94" r="1.15"/><circle class="d" cx="165.32" cy="735.91" r="1.15"/><circle class="d" cx="165.78" cy="734.87" r="1.15"/><circle class="d" cx="169.7" cy="738.27" r="1.15"/><circle class="d" cx="168.34" cy="738.2" r="1.15"/><circle class="d" cx="169.58" cy="737.7" r="1.15"/><circle class="d" cx="169.33" cy="735.26" r="1.15"/><circle class="d" cx="172.12" cy="739.9" r="1.15"/><circle class="d" cx="172.82" cy="738.69" r="1.15"/><circle class="d" cx="173.27" cy="738.68" r="1.15"/><circle class="d" cx="173.51" cy="738.33" r="1.15"/><circle class="d" cx="172.93" cy="737.58" r="1.15"/><circle class="d" cx="172.83" cy="737.57" r="1.15"/><circle class="d" cx="176.19" cy="740.3" r="1.15"/><circle class="d" cx="176.56" cy="737.34" r="1.15"/><circle class="d" cx="176.57" cy="736.78" r="1.15"/><circle class="d" cx="180.4" cy="738.11" r="1.15"/><circle class="d" cx="180.51" cy="733.7" r="1.15"/><circle class="d" cx="180.45" cy="728.32" r="1.15"/><circle class="d" cx="184.5" cy="738.7" r="1.15"/><circle class="d" cx="183.73" cy="737.31" r="1.15"/><circle class="d" cx="184.36" cy="737.16" r="1.15"/><circle class="d" cx="184.05" cy="732.6" r="1.15"/><circle class="d" cx="188.89" cy="739.36" r="1.15"/><circle class="d" cx="188.55" cy="738.05" r="1.15"/><circle class="d" cx="188.46" cy="734.34" r="1.15"/><circle class="d" cx="191.62" cy="734.72" r="1.15"/><circle class="d" cx="191.63" cy="728.41" r="1.15"/><circle class="d" cx="192.61" cy="725.82" r="1.15"/><circle class="d" cx="196.44" cy="734.36" r="1.15"/><circle class="d" cx="195.9" cy="733.85" r="1.15"/><circle class="d" cx="195.37" cy="732.94" r="1.15"/><circle class="d" cx="199.36" cy="736.92" r="1.15"/><circle class="d" cx="199.03" cy="735.24" r="1.15"/><circle class="d" cx="200.14" cy="732.81" r="1.15"/><circle class="d" cx="200.32" cy="732.44" r="1.15"/><circle class="d" cx="203.27" cy="739.25" r="1.15"/><circle class="d" cx="203.21" cy="734.19" r="1.15"/><circle class="d" cx="202.86" cy="731.79" r="1.15"/><circle class="d" cx="203.51" cy="729.79" r="1.15"/><circle class="d" cx="203.25" cy="723.3" r="1.15"/><circle class="d" cx="207.02" cy="739.03" r="1.15"/><circle class="d" cx="207.98" cy="734.38" r="1.15"/><circle class="d" cx="208.14" cy="733.72" r="1.15"/><circle class="d" cx="210.77" cy="738.13" r="1.15"/><circle class="d" cx="211.05" cy="732.08" r="1.15"/><circle class="d" cx="210.98" cy="730.8" r="1.15"/><circle class="d" cx="212.11" cy="729.08" r="1.15"/><circle class="d" cx="215.02" cy="738.29" r="1.15"/><circle class="d" cx="214.97" cy="725.6" r="1.15"/><circle class="d" cx="215.92" cy="718.96" r="1.15"/><circle class="d" cx="218.63" cy="738.97" r="1.15"/><circle class="d" cx="219.03" cy="732.92" r="1.15"/><circle class="d" cx="219.7" cy="729.3" r="1.15"/><circle class="d" cx="219.07" cy="726.18" r="1.15"/><circle class="d" cx="222.27" cy="730.56" r="1.15"/><circle class="d" cx="222.38" cy="728.86" r="1.15"/><circle class="d" cx="222.34" cy="727.32" r="1.15"/><circle class="d" cx="222.41" cy="725.58" r="1.15"/><circle class="d" cx="226.06" cy="732.49" r="1.15"/><circle class="d" cx="227.03" cy="731.49" r="1.15"/><circle class="d" cx="227.41" cy="728.69" r="1.15"/><circle class="d" cx="226.49" cy="714.4" r="1.15"/><circle class="d" cx="230.42" cy="741.63" r="1.15"/><circle class="d" cx="231.1" cy="735.31" r="1.15"/><circle class="d" cx="230.39" cy="730.54" r="1.15"/><circle class="d" cx="230.88" cy="723.14" r="1.15"/><circle class="d" cx="230.52" cy="722.72" r="1.15"/><circle class="d" cx="234.52" cy="730.75" r="1.15"/><circle class="d" cx="233.8" cy="729.34" r="1.15"/><circle class="d" cx="234.32" cy="727.15" r="1.15"/><circle class="d" cx="238.19" cy="728.15" r="1.15"/><circle class="d" cx="237.95" cy="719.6" r="1.15"/><circle class="d" cx="238.87" cy="719.53" r="1.15"/><circle class="d" cx="238.35" cy="715.5" r="1.15"/><circle class="d" cx="238.05" cy="712.08" r="1.15"/><circle class="d" cx="241.77" cy="732.53" r="1.15"/><circle class="d" cx="241.43" cy="722.39" r="1.15"/><circle class="d" cx="241.98" cy="713.81" r="1.15"/><circle class="d" cx="242.16" cy="710.3" r="1.15"/><circle class="d" cx="241.58" cy="703.84" r="1.15"/><circle class="d" cx="242.19" cy="702.3" r="1.15"/><circle class="d" cx="246.36" cy="713.78" r="1.15"/><circle class="d" cx="245.49" cy="705.68" r="1.15"/><circle class="d" cx="246.76" cy="698.6" r="1.15"/><circle class="d" cx="245.89" cy="692.53" r="1.15"/><circle class="d" cx="245.54" cy="686.46" r="1.15"/><circle class="d" cx="246.05" cy="656.1" r="1.15"/></g><path d="M31.1 652V753.2H249" fill="none" stroke="#1a1a1a" stroke-width="0.9"/><text x="23.4" y="751.55" font-size="6.5" text-anchor="end" font-weight="normal" font-style="normal" fill="#222" letter-spacing="0.28">0</text><text x="28.8" y="726.25" font-size="6.5" text-anchor="end" font-weight="normal" font-style="normal" fill="#222" letter-spacing="0.28">250000</text><text x="28.8" y="700.95" font-size="6.5" text-anchor="end" font-weight="normal" font-style="normal" fill="#222" letter-spacing="0.28">500000</text><text x="28.8" y="675.65" font-size="6.5" text-anchor="end" font-weight="normal" font-style="normal" fill="#222" letter-spacing="0.28">750000</text><path class="tk" d="M34 755.1v3.9M36.79 755.1v3.4M39.58 755.1v4.3M42.37 755.1v3.4M45.16 755.1v3.4M47.95 755.1v3.4M50.74 755.1v4.3M53.53 755.1v3.4M56.32 755.1v3.9M59.11 755.1v3.4M61.89 755.1v3.9M64.68 755.1v3.9M67.47 755.1v3.9M70.26 755.1v3.9M73.05 755.1v4.3M75.84 755.1v3.4M78.63 755.1v3.9M81.42 755.1v4.3M84.21 755.1v4.3M87 755.1v3.9M89.79 755.1v3.4M92.58 755.1v4.3M95.37 755.1v4.3M98.16 755.1v4.3M100.95 755.1v3.9M103.74 755.1v3.9M106.53 755.1v4.3M109.32 755.1v4.3M112.11 755.1v4.3M114.89 755.1v4.3M117.68 755.1v3.4M120.47 755.1v3.4M123.26 755.1v3.9M126.05 755.1v3.4M128.84 755.1v4.3M131.63 755.1v3.4M134.42 755.1v3.9M137.21 755.1v3.9M140 755.1v3.4M142.79 755.1v4.3M145.58 755.1v3.4M148.37 755.1v4.3M151.16 755.1v4.3M153.95 755.1v4.3M156.74 755.1v3.4M159.53 755.1v3.9M162.32 755.1v3.9M165.11 755.1v4.3M167.89 755.1v3.4M170.68 755.1v3.4M173.47 755.1v3.4M176.26 755.1v3.9M179.05 755.1v3.9M181.84 755.1v3.9M184.63 755.1v3.9M187.42 755.1v3.9M190.21 755.1v3.9M193 755.1v3.9M195.79 755.1v4.3M198.58 755.1v4.3M201.37 755.1v3.4M204.16 755.1v3.9M206.95 755.1v3.9M209.74 755.1v3.4M212.53 755.1v4.3M215.32 755.1v3.4M218.11 755.1v4.3M220.89 755.1v3.4M223.68 755.1v4.3M226.47 755.1v3.4M229.26 755.1v3.9M232.05 755.1v4.3M234.84 755.1v3.4M237.63 755.1v3.4M240.42 755.1v4.3M243.21 755.1v4.3M246 755.1v3.4"/><text x="137" y="648.6" font-size="7.0" text-anchor="middle" font-weight="normal" font-style="normal" fill="#111" >CD3+ CD56+ cells</text><text x="150" y="766" font-size="7.0" text-anchor="middle" font-weight="normal" font-style="normal" fill="#111" >volunteers ordered by median</text><text x="26.3" y="711.2" font-size="6.8" text-anchor="middle" fill="#111"  transform="rotate(-90 26.3 711.2)">value</text><text x="259.5" y="653.2" font-size="14.2" text-anchor="start" font-weight="normal" font-style="normal" fill="#111" >D</text><path d="M291 701.8L292.55 702.02L294.1 702.34L295.65 702.73L297.2 703.14L298.75 703.53L300.3 703.88L301.85 704.12L303.4 704.24L304.95 704.19L306.5 704.06L308.05 703.86L309.6 703.61L311.15 703.3L312.7 702.94L314.25 702.55L315.8 702.12L317.35 701.67L318.9 701.21L320.45 700.73L322 700.25L323.55 699.77L325.1 699.31L326.65 698.85L328.2 698.33L329.75 697.76L331.3 697.15L332.85 696.53L334.4 695.89L335.95 695.26L337.5 694.65L339.05 694L340.6 693.39L342.15 692.85L343.7 692.39L345.25 692.02L346.8 691.76L348.35 691.6L349.9 691.55L351.45 691.61L353 691.76L354.55 691.98L356.1 692.26L357.65 692.58L359.2 692.94L360.75 693.31L362.3 693.69L363.85 694.06L365.4 694.4L366.95 694.76L368.5 695.18L370.05 695.64L371.6 696.14L373.15 696.65L374.7 697.17L376.25 697.67L377.8 698.15L379.35 698.59L380.9 698.98L382.45 699.3L384 699.54L384 705.57L382.45 705.24L380.9 704.84L379.35 704.37L377.8 703.84L376.25 703.28L374.7 702.69L373.15 702.09L371.6 701.49L370.05 700.91L368.5 700.36L366.95 699.86L365.4 699.42L363.85 698.99L362.3 698.54L360.75 698.08L359.2 697.62L357.65 697.18L356.1 696.77L354.55 696.41L353 696.11L351.45 695.88L349.9 695.74L348.35 695.7L346.8 695.78L345.25 695.95L343.7 696.24L342.15 696.62L340.6 697.07L339.05 697.6L337.5 698.17L335.95 698.86L334.4 699.57L332.85 700.29L331.3 701L329.75 701.69L328.2 702.35L326.65 702.95L325.1 703.49L323.55 704.04L322 704.6L320.45 705.16L318.9 705.72L317.35 706.28L315.8 706.81L314.25 707.32L312.7 707.8L311.15 708.24L309.6 708.63L308.05 708.97L306.5 709.25L304.95 709.46L303.4 709.6L301.85 709.56L300.3 709.4L298.75 709.14L297.2 708.83L295.65 708.5L294.1 708.2L292.55 707.96L291 707.83Z" fill="#cfcfcf" fill-opacity="0.7"/><path d="M291 701.3H384" stroke="#b5b5b5" stroke-width="0.8"/><circle class="d" cx="292.81" cy="700.99" r="1.1"/><circle class="d" cx="291.4" cy="699.23" r="1.1"/><circle class="d" cx="293.99" cy="706.34" r="1.1"/><circle class="d" cx="293.83" cy="703.98" r="1.1"/><circle class="d" cx="291.21" cy="706.49" r="1.1"/><circle class="d" cx="291.51" cy="704.12" r="1.1"/><circle class="d" cx="293.37" cy="703.99" r="1.1"/><circle class="d" cx="292.25" cy="707.12" r="1.1"/><circle class="d" cx="294.5" cy="699.43" r="1.1"/><circle class="d" cx="293.21" cy="707.12" r="1.1"/><circle class="d" cx="296.45" cy="696.77" r="1.1"/><circle class="d" cx="292.62" cy="702.28" r="1.1"/><circle class="d" cx="291.8" cy="701.87" r="1.1"/><circle class="d" cx="295.55" cy="702.83" r="1.1"/><circle class="d" cx="301.64" cy="712.75" r="1.1"/><circle class="d" cx="303.07" cy="710.25" r="1.1"/><circle class="d" cx="304.38" cy="705.34" r="1.1"/><circle class="d" cx="301.83" cy="706.2" r="1.1"/><circle class="d" cx="305.36" cy="710.5" r="1.1"/><circle class="d" cx="304.66" cy="705.04" r="1.1"/><circle class="d" cx="303.67" cy="709.52" r="1.1"/><circle class="d" cx="305.5" cy="698.7" r="1.1"/><circle class="d" cx="302.12" cy="712.06" r="1.1"/><circle class="d" cx="306.81" cy="709.23" r="1.1"/><circle class="d" cx="305.73" cy="709.9" r="1.1"/><circle class="d" cx="301.18" cy="693.79" r="1.1"/><circle class="d" cx="303.41" cy="706.8" r="1.1"/><circle class="d" cx="303.94" cy="709.64" r="1.1"/><circle class="d" cx="300.59" cy="710.67" r="1.1"/><circle class="d" cx="304.56" cy="713.93" r="1.1"/><circle class="d" cx="306.81" cy="709.48" r="1.1"/><circle class="d" cx="304.72" cy="700.08" r="1.1"/><circle class="d" cx="304.61" cy="715.65" r="1.1"/><circle class="d" cx="307.33" cy="704.05" r="1.1"/><circle class="d" cx="303.83" cy="707.78" r="1.1"/><circle class="d" cx="305.52" cy="708.22" r="1.1"/><circle class="d" cx="305.11" cy="697.96" r="1.1"/><circle class="d" cx="302.42" cy="707.27" r="1.1"/><circle class="d" cx="314.33" cy="705.41" r="1.1"/><circle class="d" cx="314.9" cy="705.63" r="1.1"/><circle class="d" cx="312.71" cy="704.13" r="1.1"/><circle class="d" cx="317.18" cy="702.92" r="1.1"/><circle class="d" cx="312.42" cy="705.37" r="1.1"/><circle class="d" cx="317.94" cy="699.03" r="1.1"/><circle class="d" cx="312.06" cy="711.26" r="1.1"/><circle class="d" cx="318.03" cy="701.86" r="1.1"/><circle class="d" cx="317.56" cy="701.38" r="1.1"/><circle class="d" cx="314.55" cy="707.75" r="1.1"/><circle class="d" cx="314.13" cy="696.01" r="1.1"/><circle class="d" cx="312.58" cy="713.38" r="1.1"/><circle class="d" cx="312.77" cy="704.96" r="1.1"/><circle class="d" cx="315.07" cy="701.24" r="1.1"/><circle class="d" cx="315.84" cy="704.49" r="1.1"/><circle class="d" cx="314.58" cy="704.41" r="1.1"/><circle class="d" cx="314.21" cy="715.73" r="1.1"/><circle class="d" cx="316.6" cy="708.99" r="1.1"/><circle class="d" cx="324.58" cy="706.86" r="1.1"/><circle class="d" cx="321.58" cy="707.39" r="1.1"/><circle class="d" cx="327.08" cy="698.93" r="1.1"/><circle class="d" cx="326.42" cy="710.52" r="1.1"/><circle class="d" cx="323.78" cy="703.63" r="1.1"/><circle class="d" cx="325.35" cy="700" r="1.1"/><circle class="d" cx="321.63" cy="699.57" r="1.1"/><circle class="d" cx="322.28" cy="700.99" r="1.1"/><circle class="d" cx="323.44" cy="701.85" r="1.1"/><circle class="d" cx="322.21" cy="702.32" r="1.1"/><circle class="d" cx="321.89" cy="703.17" r="1.1"/><circle class="d" cx="326.92" cy="699.99" r="1.1"/><circle class="d" cx="325.22" cy="699.2" r="1.1"/><circle class="d" cx="323.49" cy="699" r="1.1"/><circle class="d" cx="323.6" cy="695.25" r="1.1"/><circle class="d" cx="327.69" cy="694.06" r="1.1"/><circle class="d" cx="324.26" cy="703.68" r="1.1"/><circle class="d" cx="321.89" cy="702.26" r="1.1"/><circle class="d" cx="333.39" cy="699" r="1.1"/><circle class="d" cx="331.88" cy="689.91" r="1.1"/><circle class="d" cx="330.72" cy="693.75" r="1.1"/><circle class="d" cx="331.75" cy="700.66" r="1.1"/><circle class="d" cx="335.07" cy="691.68" r="1.1"/><circle class="d" cx="338.72" cy="694.94" r="1.1"/><circle class="d" cx="337.75" cy="697.54" r="1.1"/><circle class="d" cx="333.59" cy="701.58" r="1.1"/><circle class="d" cx="331.92" cy="698" r="1.1"/><circle class="d" cx="337.05" cy="702.42" r="1.1"/><circle class="d" cx="333.28" cy="696.75" r="1.1"/><circle class="d" cx="338.77" cy="687.32" r="1.1"/><circle class="d" cx="337.66" cy="693.3" r="1.1"/><circle class="d" cx="336.72" cy="705" r="1.1"/><circle class="d" cx="332.42" cy="703.04" r="1.1"/><circle class="d" cx="330.77" cy="699.8" r="1.1"/><circle class="d" cx="330.76" cy="699.99" r="1.1"/><circle class="d" cx="336.32" cy="693.27" r="1.1"/><circle class="d" cx="338.53" cy="706.6" r="1.1"/><circle class="d" cx="338.79" cy="692.24" r="1.1"/><circle class="d" cx="338.52" cy="698.22" r="1.1"/><circle class="d" cx="332.42" cy="696.06" r="1.1"/><circle class="d" cx="332.17" cy="696.82" r="1.1"/><circle class="d" cx="338.06" cy="689.78" r="1.1"/><circle class="d" cx="348.72" cy="700.52" r="1.1"/><circle class="d" cx="348.38" cy="692.76" r="1.1"/><circle class="d" cx="342.39" cy="700.23" r="1.1"/><circle class="d" cx="348.23" cy="702.51" r="1.1"/><circle class="d" cx="347.96" cy="696.63" r="1.1"/><circle class="d" cx="348.29" cy="693.24" r="1.1"/><circle class="d" cx="344.47" cy="690.14" r="1.1"/><circle class="d" cx="345" cy="706.12" r="1.1"/><circle class="d" cx="345.04" cy="686.79" r="1.1"/><circle class="d" cx="343.11" cy="696.98" r="1.1"/><circle class="d" cx="342.75" cy="688.54" r="1.1"/><circle class="d" cx="348.44" cy="685.23" r="1.1"/><circle class="d" cx="342.91" cy="688.34" r="1.1"/><circle class="d" cx="347.19" cy="705.58" r="1.1"/><circle class="d" cx="344.62" cy="696.52" r="1.1"/><circle class="d" cx="341.8" cy="695.6" r="1.1"/><circle class="d" cx="349.81" cy="697.08" r="1.1"/><circle class="d" cx="349.5" cy="698.35" r="1.1"/><circle class="d" cx="345.32" cy="687.8" r="1.1"/><circle class="d" cx="343.45" cy="700.81" r="1.1"/><circle class="d" cx="343.79" cy="695.24" r="1.1"/><circle class="d" cx="346.59" cy="690.38" r="1.1"/><circle class="d" cx="343.86" cy="696.48" r="1.1"/><circle class="d" cx="349.3" cy="692.4" r="1.1"/><circle class="d" cx="344.65" cy="700.2" r="1.1"/><circle class="d" cx="349.25" cy="691.99" r="1.1"/><circle class="d" cx="356.44" cy="689.7" r="1.1"/><circle class="d" cx="357.27" cy="697.57" r="1.1"/><circle class="d" cx="357.2" cy="689.67" r="1.1"/><circle class="d" cx="354.67" cy="693.62" r="1.1"/><circle class="d" cx="353.34" cy="693.09" r="1.1"/><circle class="d" cx="356.83" cy="697.48" r="1.1"/><circle class="d" cx="358.71" cy="699.12" r="1.1"/><circle class="d" cx="357.17" cy="696.24" r="1.1"/><circle class="d" cx="357.44" cy="694.35" r="1.1"/><circle class="d" cx="357.48" cy="697.05" r="1.1"/><circle class="d" cx="355.16" cy="695.69" r="1.1"/><circle class="d" cx="357.09" cy="686.66" r="1.1"/><circle class="d" cx="357.49" cy="694.18" r="1.1"/><circle class="d" cx="356.61" cy="705.14" r="1.1"/><circle class="d" cx="357.87" cy="700.65" r="1.1"/><circle class="d" cx="358.46" cy="695.29" r="1.1"/><circle class="d" cx="356.68" cy="699.97" r="1.1"/><circle class="d" cx="360.31" cy="696.71" r="1.1"/><circle class="d" cx="358.51" cy="686.97" r="1.1"/><circle class="d" cx="355.24" cy="702.3" r="1.1"/><circle class="d" cx="357.47" cy="686.28" r="1.1"/><circle class="d" cx="354.33" cy="697.34" r="1.1"/><circle class="d" cx="363.87" cy="698.26" r="1.1"/><circle class="d" cx="364.64" cy="696.07" r="1.1"/><circle class="d" cx="363.55" cy="700.49" r="1.1"/><circle class="d" cx="368.91" cy="705.2" r="1.1"/><circle class="d" cx="364.08" cy="698.06" r="1.1"/><circle class="d" cx="364.01" cy="703.41" r="1.1"/><circle class="d" cx="368.82" cy="694.58" r="1.1"/><circle class="d" cx="369.28" cy="698.7" r="1.1"/><circle class="d" cx="365.67" cy="711.38" r="1.1"/><circle class="d" cx="368.49" cy="696.61" r="1.1"/><circle class="d" cx="364.13" cy="701.81" r="1.1"/><circle class="d" cx="365.28" cy="694.48" r="1.1"/><circle class="d" cx="364.35" cy="699.84" r="1.1"/><circle class="d" cx="363.2" cy="689.42" r="1.1"/><circle class="d" cx="366.68" cy="698.08" r="1.1"/><circle class="d" cx="365.23" cy="696.53" r="1.1"/><circle class="d" cx="367.14" cy="699.09" r="1.1"/><circle class="d" cx="369.49" cy="698.22" r="1.1"/><circle class="d" cx="379.9" cy="699.43" r="1.1"/><circle class="d" cx="375.53" cy="700.62" r="1.1"/><circle class="d" cx="373.64" cy="698.86" r="1.1"/><circle class="d" cx="374.39" cy="703.54" r="1.1"/><circle class="d" cx="376.84" cy="693.19" r="1.1"/><circle class="d" cx="375.47" cy="704.86" r="1.1"/><circle class="d" cx="374.56" cy="694.46" r="1.1"/><circle class="d" cx="379.17" cy="704.44" r="1.1"/><circle class="d" cx="374.05" cy="692.88" r="1.1"/><circle class="d" cx="376.86" cy="698.11" r="1.1"/><circle class="d" cx="373.91" cy="693.38" r="1.1"/><circle class="d" cx="380.01" cy="704.23" r="1.1"/><circle class="d" cx="374.01" cy="698.58" r="1.1"/><circle class="d" cx="380.53" cy="703.2" r="1.1"/><circle class="d" cx="377.1" cy="703.98" r="1.1"/><circle class="d" cx="381.06" cy="696.83" r="1.1"/><circle class="d" cx="375.55" cy="696.21" r="1.1"/><circle class="d" cx="375.3" cy="695.91" r="1.1"/><circle class="d" cx="374.22" cy="698.95" r="1.1"/><circle class="d" cx="374.99" cy="698.73" r="1.1"/><circle class="d" cx="375.92" cy="703.09" r="1.1"/><circle class="d" cx="375.73" cy="692.72" r="1.1"/><circle class="d" cx="377.49" cy="698.97" r="1.1"/><circle class="d" cx="373.46" cy="695.52" r="1.1"/><circle class="d" cx="302.16" cy="717.62" r="1.1"/><circle class="d" cx="304.02" cy="721.38" r="1.1"/><circle class="d" cx="304.95" cy="715.1" r="1.1"/><circle class="d" cx="305.88" cy="720.12" r="1.1"/><circle class="d" cx="306.81" cy="723.26" r="1.1"/><circle class="d" cx="303.09" cy="716.36" r="1.1"/><circle class="d" cx="295.65" cy="715.1" r="1.1"/><circle class="d" cx="301.23" cy="712.59" r="1.1"/><circle class="d" cx="351.45" cy="664.9" r="1.1"/><circle class="d" cx="365.4" cy="665.53" r="1.1"/><circle class="d" cx="344.94" cy="681.22" r="1.1"/><circle class="d" cx="342.15" cy="684.98" r="1.1"/><circle class="d" cx="348.66" cy="679.34" r="1.1"/><circle class="d" cx="337.5" cy="686.24" r="1.1"/><path d="M291 704.81L292.55 704.99L294.1 705.27L295.65 705.61L297.2 705.98L298.75 706.34L300.3 706.64L301.85 706.84L303.4 706.92L304.95 706.82L306.5 706.65L308.05 706.42L309.6 706.12L311.15 705.77L312.7 705.37L314.25 704.93L315.8 704.47L317.35 703.97L318.9 703.47L320.45 702.95L322 702.42L323.55 701.91L325.1 701.4L326.65 700.9L328.2 700.34L329.75 699.73L331.3 699.08L332.85 698.41L334.4 697.73L335.95 697.06L337.5 696.41L339.05 695.8L340.6 695.23L342.15 694.73L343.7 694.31L345.25 693.99L346.8 693.77L348.35 693.65L349.9 693.65L351.45 693.75L353 693.93L354.55 694.19L356.1 694.52L357.65 694.88L359.2 695.28L360.75 695.7L362.3 696.12L363.85 696.52L365.4 696.91L366.95 697.31L368.5 697.77L370.05 698.28L371.6 698.81L373.15 699.37L374.7 699.93L376.25 700.48L377.8 701L379.35 701.48L380.9 701.91L382.45 702.27L384 702.55" fill="none" stroke="#e8737d" stroke-width="1.5"/><path d="M286.7 659.7V742H386" fill="none" stroke="#1a1a1a" stroke-width="0.9"/><text x="284.1" y="676.2" font-size="6.5" text-anchor="middle" fill="#222"  transform="rotate(-90 284.1 676.2)">2</text><text x="284.1" y="701.3" font-size="6.5" text-anchor="middle" fill="#222"  transform="rotate(-90 284.1 701.3)">0</text><text x="284.1" y="726.4" font-size="6.5" text-anchor="middle" fill="#222"  transform="rotate(-90 284.1 726.4)">-2</text><path d="M303 742v1.5" stroke="#1a1a1a" stroke-width="0.5"/><text x="305.2" y="747.4" font-size="7.4" text-anchor="end" fill="#222" transform="rotate(-45 305.2 747.4)">Apr 2016</text><path d="M325 742v1.5" stroke="#1a1a1a" stroke-width="0.5"/><text x="327.2" y="747.4" font-size="7.4" text-anchor="end" fill="#222" transform="rotate(-45 327.2 747.4)">Jul 2016</text><path d="M349.8 742v1.5" stroke="#1a1a1a" stroke-width="0.5"/><text x="352" y="747.4" font-size="7.4" text-anchor="end" fill="#222" transform="rotate(-45 352 747.4)">Oct 2016</text><path d="M373 742v1.5" stroke="#1a1a1a" stroke-width="0.5"/><text x="375.2" y="747.4" font-size="7.4" text-anchor="end" fill="#222" transform="rotate(-45 375.2 747.4)">Jan 2017</text><text x="343.5" y="657.6" font-size="7.3" text-anchor="middle" font-weight="normal" font-style="normal" fill="#111" >CD4+ CD25high Treg</text><text x="340.7" y="770" font-size="7.1" text-anchor="middle" font-weight="normal" font-style="normal" fill="#111" >date</text><text x="277.7" y="698" font-size="6.5" text-anchor="middle" fill="#111"  transform="rotate(-90 277.7 698)">Normalized difference from median</text><path d="M343.6 664.7H359.7" stroke="#666" stroke-width="0.5"/><text x="387.5" y="653.2" font-size="14.2" text-anchor="start" font-weight="normal" font-style="normal" fill="#111" >E</text><path d="M416 703.81L417.57 703.81L419.13 703.82L420.7 703.82L422.27 703.82L423.83 703.79L425.4 703.73L426.97 703.61L428.53 703.43L430.1 703.18L431.67 702.9L433.23 702.56L434.8 702.17L436.37 701.74L437.93 701.27L439.5 700.78L441.07 700.29L442.63 699.79L444.2 699.3L445.77 698.83L447.33 698.36L448.9 697.82L450.47 697.25L452.03 696.65L453.6 696.06L455.17 695.49L456.73 694.97L458.3 694.52L459.87 694.17L461.43 693.93L463 693.82L464.57 693.78L466.13 693.87L467.7 694.06L469.27 694.32L470.83 694.62L472.4 694.93L473.97 695.23L475.53 695.47L477.1 695.66L478.67 695.86L480.23 696.08L481.8 696.31L483.37 696.54L484.93 696.75L486.5 696.93L488.07 697.06L489.63 697.14L491.2 697.16L492.77 697.1L494.33 696.99L495.9 696.84L497.47 696.66L499.03 696.44L500.6 696.22L502.17 695.98L503.73 695.75L505.3 695.53L506.87 695.33L508.43 695.16L510 695.02L510 701.05L508.43 701.1L506.87 701.18L505.3 701.3L503.73 701.44L502.17 701.59L500.6 701.74L499.03 701.88L497.47 702.01L495.9 702.11L494.33 702.18L492.77 702.21L491.2 702.18L489.63 702.08L488.07 701.91L486.5 701.69L484.93 701.43L483.37 701.14L481.8 700.83L480.23 700.52L478.67 700.21L477.1 699.93L475.53 699.66L473.97 699.32L472.4 698.95L470.83 698.55L469.27 698.17L467.7 697.82L466.13 697.55L464.57 697.38L463 697.34L461.43 697.53L459.87 697.85L458.3 698.29L456.73 698.82L455.17 699.42L453.6 700.07L452.03 700.75L450.47 701.43L448.9 702.09L447.33 702.71L445.77 703.26L444.2 703.82L442.63 704.39L441.07 704.97L439.5 705.55L437.93 706.12L436.37 706.67L434.8 707.19L433.23 707.67L431.67 708.09L430.1 708.45L428.53 708.79L426.97 709.05L425.4 709.25L423.83 709.4L422.27 709.51L420.7 709.6L419.13 709.67L417.57 709.75L416 709.83Z" fill="#cfcfcf" fill-opacity="0.7"/><path d="M416 701.3H510" stroke="#b5b5b5" stroke-width="0.8"/><circle class="d" cx="418.61" cy="709.15" r="1.1"/><circle class="d" cx="420.89" cy="704.26" r="1.1"/><circle class="d" cx="416.04" cy="720.24" r="1.1"/><circle class="d" cx="416.46" cy="707.04" r="1.1"/><circle class="d" cx="419.13" cy="708.09" r="1.1"/><circle class="d" cx="418.14" cy="707.98" r="1.1"/><circle class="d" cx="419.97" cy="716.36" r="1.1"/><circle class="d" cx="416.89" cy="703.8" r="1.1"/><circle class="d" cx="417.34" cy="701.07" r="1.1"/><circle class="d" cx="421.21" cy="701.91" r="1.1"/><circle class="d" cx="419.33" cy="705.8" r="1.1"/><circle class="d" cx="420.21" cy="712.82" r="1.1"/><circle class="d" cx="416.57" cy="709.21" r="1.1"/><circle class="d" cx="420.09" cy="697.64" r="1.1"/><circle class="d" cx="428.5" cy="701.91" r="1.1"/><circle class="d" cx="426.71" cy="703.77" r="1.1"/><circle class="d" cx="427.31" cy="704.76" r="1.1"/><circle class="d" cx="432.43" cy="709.21" r="1.1"/><circle class="d" cx="432.37" cy="699.57" r="1.1"/><circle class="d" cx="429.09" cy="703.95" r="1.1"/><circle class="d" cx="425.13" cy="718.67" r="1.1"/><circle class="d" cx="425.88" cy="700.22" r="1.1"/><circle class="d" cx="429.98" cy="699.87" r="1.1"/><circle class="d" cx="432.5" cy="699.61" r="1.1"/><circle class="d" cx="426.65" cy="703.75" r="1.1"/><circle class="d" cx="429.5" cy="705.8" r="1.1"/><circle class="d" cx="425.08" cy="700.18" r="1.1"/><circle class="d" cx="432.72" cy="701.51" r="1.1"/><circle class="d" cx="428.48" cy="713.3" r="1.1"/><circle class="d" cx="425.72" cy="701.11" r="1.1"/><circle class="d" cx="429.84" cy="701.85" r="1.1"/><circle class="d" cx="433.04" cy="697.57" r="1.1"/><circle class="d" cx="425.39" cy="714.55" r="1.1"/><circle class="d" cx="426.19" cy="709.32" r="1.1"/><circle class="d" cx="427.2" cy="684.22" r="1.1"/><circle class="d" cx="425.96" cy="707.15" r="1.1"/><circle class="d" cx="430.9" cy="701.27" r="1.1"/><circle class="d" cx="430.1" cy="707.22" r="1.1"/><circle class="d" cx="425.29" cy="712.75" r="1.1"/><circle class="d" cx="429.92" cy="698.84" r="1.1"/><circle class="d" cx="431.48" cy="700.58" r="1.1"/><circle class="d" cx="432.24" cy="702.36" r="1.1"/><circle class="d" cx="443.89" cy="707.73" r="1.1"/><circle class="d" cx="446.92" cy="698.76" r="1.1"/><circle class="d" cx="443.82" cy="690.51" r="1.1"/><circle class="d" cx="441.97" cy="701.02" r="1.1"/><circle class="d" cx="442.76" cy="700.5" r="1.1"/><circle class="d" cx="441.94" cy="695.71" r="1.1"/><circle class="d" cx="440.17" cy="704.95" r="1.1"/><circle class="d" cx="445.4" cy="703.29" r="1.1"/><circle class="d" cx="439.69" cy="700.92" r="1.1"/><circle class="d" cx="443.24" cy="713.06" r="1.1"/><circle class="d" cx="444.84" cy="701.23" r="1.1"/><circle class="d" cx="442.7" cy="691.8" r="1.1"/><circle class="d" cx="441.24" cy="696.38" r="1.1"/><circle class="d" cx="442.3" cy="703.62" r="1.1"/><circle class="d" cx="445.97" cy="707.33" r="1.1"/><circle class="d" cx="440.79" cy="695.91" r="1.1"/><circle class="d" cx="445.84" cy="701.13" r="1.1"/><circle class="d" cx="446.83" cy="698.69" r="1.1"/><circle class="d" cx="440.8" cy="685.39" r="1.1"/><circle class="d" cx="444.06" cy="707.66" r="1.1"/><circle class="d" cx="439.59" cy="699.16" r="1.1"/><circle class="d" cx="442.42" cy="700.56" r="1.1"/><circle class="d" cx="444.1" cy="695.85" r="1.1"/><circle class="d" cx="440.56" cy="704.03" r="1.1"/><circle class="d" cx="456" cy="695.41" r="1.1"/><circle class="d" cx="455.95" cy="695.14" r="1.1"/><circle class="d" cx="457.14" cy="690.46" r="1.1"/><circle class="d" cx="457.2" cy="693.98" r="1.1"/><circle class="d" cx="457.71" cy="706.3" r="1.1"/><circle class="d" cx="452.68" cy="689.64" r="1.1"/><circle class="d" cx="457.3" cy="694.95" r="1.1"/><circle class="d" cx="455.43" cy="710.16" r="1.1"/><circle class="d" cx="452.09" cy="691.33" r="1.1"/><circle class="d" cx="452.72" cy="696.11" r="1.1"/><circle class="d" cx="456.58" cy="687.52" r="1.1"/><circle class="d" cx="453.13" cy="692.74" r="1.1"/><circle class="d" cx="451.36" cy="695.86" r="1.1"/><circle class="d" cx="455.98" cy="690.96" r="1.1"/><circle class="d" cx="454.53" cy="694.35" r="1.1"/><circle class="d" cx="459.26" cy="689.78" r="1.1"/><circle class="d" cx="455.78" cy="695.81" r="1.1"/><circle class="d" cx="459.65" cy="696.6" r="1.1"/><circle class="d" cx="458.77" cy="703.62" r="1.1"/><circle class="d" cx="455.79" cy="699.33" r="1.1"/><circle class="d" cx="458.94" cy="687.98" r="1.1"/><circle class="d" cx="455.84" cy="693.6" r="1.1"/><circle class="d" cx="453.79" cy="699.56" r="1.1"/><circle class="d" cx="452.12" cy="708.56" r="1.1"/><circle class="d" cx="469.39" cy="703.24" r="1.1"/><circle class="d" cx="468.86" cy="694.06" r="1.1"/><circle class="d" cx="463.92" cy="700.4" r="1.1"/><circle class="d" cx="470.9" cy="700.25" r="1.1"/><circle class="d" cx="465.43" cy="691.14" r="1.1"/><circle class="d" cx="468.76" cy="705.23" r="1.1"/><circle class="d" cx="470.88" cy="688.35" r="1.1"/><circle class="d" cx="468.66" cy="694.22" r="1.1"/><circle class="d" cx="469.21" cy="698.21" r="1.1"/><circle class="d" cx="465.07" cy="694.3" r="1.1"/><circle class="d" cx="468.61" cy="695.15" r="1.1"/><circle class="d" cx="466.47" cy="693.66" r="1.1"/><circle class="d" cx="467.45" cy="697.3" r="1.1"/><circle class="d" cx="470.03" cy="696.72" r="1.1"/><circle class="d" cx="466.29" cy="695.56" r="1.1"/><circle class="d" cx="471.54" cy="697.55" r="1.1"/><circle class="d" cx="468.46" cy="677.9" r="1.1"/><circle class="d" cx="470.52" cy="699.23" r="1.1"/><circle class="d" cx="464.37" cy="698.22" r="1.1"/><circle class="d" cx="470.07" cy="692.71" r="1.1"/><circle class="d" cx="465.1" cy="695.06" r="1.1"/><circle class="d" cx="464.49" cy="692.59" r="1.1"/><circle class="d" cx="471.41" cy="690.72" r="1.1"/><circle class="d" cx="469.74" cy="697.24" r="1.1"/><circle class="d" cx="467.43" cy="701.86" r="1.1"/><circle class="d" cx="468.84" cy="696.99" r="1.1"/><circle class="d" cx="476.75" cy="698.04" r="1.1"/><circle class="d" cx="476.42" cy="690.12" r="1.1"/><circle class="d" cx="478.47" cy="696.76" r="1.1"/><circle class="d" cx="475.62" cy="698.04" r="1.1"/><circle class="d" cx="481.52" cy="694.06" r="1.1"/><circle class="d" cx="481.95" cy="696.9" r="1.1"/><circle class="d" cx="479.87" cy="697.84" r="1.1"/><circle class="d" cx="477.08" cy="695.65" r="1.1"/><circle class="d" cx="477.29" cy="692.51" r="1.1"/><circle class="d" cx="481.4" cy="714.75" r="1.1"/><circle class="d" cx="482.38" cy="687.04" r="1.1"/><circle class="d" cx="482.53" cy="704.12" r="1.1"/><circle class="d" cx="482.94" cy="694.22" r="1.1"/><circle class="d" cx="476.84" cy="694.69" r="1.1"/><circle class="d" cx="479.86" cy="704.02" r="1.1"/><circle class="d" cx="481.83" cy="698.28" r="1.1"/><circle class="d" cx="478.13" cy="696.66" r="1.1"/><circle class="d" cx="478.66" cy="693.16" r="1.1"/><circle class="d" cx="479.91" cy="704.39" r="1.1"/><circle class="d" cx="476.33" cy="700.5" r="1.1"/><circle class="d" cx="478.15" cy="699.7" r="1.1"/><circle class="d" cx="479.35" cy="694.73" r="1.1"/><circle class="d" cx="476.35" cy="699.88" r="1.1"/><circle class="d" cx="475.91" cy="706.56" r="1.1"/><circle class="d" cx="480.04" cy="701.85" r="1.1"/><circle class="d" cx="479.88" cy="692.42" r="1.1"/><circle class="d" cx="493.17" cy="692.05" r="1.1"/><circle class="d" cx="489.03" cy="706.39" r="1.1"/><circle class="d" cx="491.52" cy="700.3" r="1.1"/><circle class="d" cx="491.59" cy="698.61" r="1.1"/><circle class="d" cx="490.98" cy="695.95" r="1.1"/><circle class="d" cx="493.71" cy="703.74" r="1.1"/><circle class="d" cx="491.31" cy="691.57" r="1.1"/><circle class="d" cx="489.58" cy="693.79" r="1.1"/><circle class="d" cx="491.45" cy="698.84" r="1.1"/><circle class="d" cx="494.37" cy="699.19" r="1.1"/><circle class="d" cx="487.76" cy="697.24" r="1.1"/><circle class="d" cx="488.16" cy="696.48" r="1.1"/><circle class="d" cx="493.64" cy="690.55" r="1.1"/><circle class="d" cx="490.41" cy="699.92" r="1.1"/><circle class="d" cx="494.12" cy="702.97" r="1.1"/><circle class="d" cx="492.63" cy="699.79" r="1.1"/><circle class="d" cx="490.14" cy="700.33" r="1.1"/><circle class="d" cx="490.34" cy="694.17" r="1.1"/><circle class="d" cx="488.81" cy="709.16" r="1.1"/><circle class="d" cx="491.73" cy="707.88" r="1.1"/><circle class="d" cx="487.51" cy="699.94" r="1.1"/><circle class="d" cx="491.04" cy="700.82" r="1.1"/><circle class="d" cx="493.95" cy="705.67" r="1.1"/><circle class="d" cx="493.11" cy="711.95" r="1.1"/><circle class="d" cx="501.5" cy="694.61" r="1.1"/><circle class="d" cx="504.94" cy="693.06" r="1.1"/><circle class="d" cx="501.15" cy="703.99" r="1.1"/><circle class="d" cx="502.13" cy="689.69" r="1.1"/><circle class="d" cx="504.27" cy="712.38" r="1.1"/><circle class="d" cx="499.41" cy="703.18" r="1.1"/><circle class="d" cx="500.77" cy="697.29" r="1.1"/><circle class="d" cx="500.01" cy="708.23" r="1.1"/><circle class="d" cx="500.33" cy="697.1" r="1.1"/><circle class="d" cx="506.82" cy="690.64" r="1.1"/><circle class="d" cx="501.02" cy="696.14" r="1.1"/><circle class="d" cx="502.77" cy="689.58" r="1.1"/><circle class="d" cx="506.35" cy="683.59" r="1.1"/><circle class="d" cx="505.24" cy="698.52" r="1.1"/><circle class="d" cx="503.39" cy="688.06" r="1.1"/><circle class="d" cx="502.56" cy="694.48" r="1.1"/><circle class="d" cx="503.11" cy="709.59" r="1.1"/><circle class="d" cx="503.89" cy="710.52" r="1.1"/><circle class="d" cx="506.96" cy="695.67" r="1.1"/><circle class="d" cx="502.19" cy="699.37" r="1.1"/><circle class="d" cx="506.71" cy="696.47" r="1.1"/><circle class="d" cx="500.77" cy="715.41" r="1.1"/><circle class="d" cx="503.68" cy="691.47" r="1.1"/><circle class="d" cx="504.86" cy="701.66" r="1.1"/><circle class="d" cx="507.44" cy="697.21" r="1.1"/><circle class="d" cx="506.41" cy="696.4" r="1.1"/><circle class="d" cx="427.28" cy="731.04" r="1.1"/><circle class="d" cx="467.7" cy="670.3" r="1.1"/><circle class="d" cx="491.2" cy="675.57" r="1.1"/><circle class="d" cx="458.3" cy="681.22" r="1.1"/><circle class="d" cx="444.2" cy="684.98" r="1.1"/><circle class="d" cx="417.88" cy="684.98" r="1.1"/><circle class="d" cx="500.6" cy="682.47" r="1.1"/><circle class="d" cx="506.24" cy="681.22" r="1.1"/><circle class="d" cx="430.1" cy="722.63" r="1.1"/><circle class="d" cx="432.92" cy="720.12" r="1.1"/><path d="M416 706.82L417.57 706.78L419.13 706.74L420.7 706.71L422.27 706.66L423.83 706.59L425.4 706.49L426.97 706.33L428.53 706.11L430.1 705.82L431.67 705.5L433.23 705.11L434.8 704.68L436.37 704.2L437.93 703.7L439.5 703.17L441.07 702.63L442.63 702.09L444.2 701.56L445.77 701.04L447.33 700.53L448.9 699.96L450.47 699.34L452.03 698.7L453.6 698.06L455.17 697.46L456.73 696.89L458.3 696.41L459.87 696.01L461.43 695.73L463 695.58L464.57 695.58L466.13 695.71L467.7 695.94L469.27 696.24L470.83 696.58L472.4 696.94L473.97 697.28L475.53 697.56L477.1 697.79L478.67 698.04L480.23 698.3L481.8 698.57L483.37 698.84L484.93 699.09L486.5 699.31L488.07 699.49L489.63 699.61L491.2 699.67L492.77 699.65L494.33 699.59L495.9 699.48L497.47 699.33L499.03 699.16L500.6 698.98L502.17 698.79L503.73 698.59L505.3 698.42L506.87 698.26L508.43 698.13L510 698.04" fill="none" stroke="#e8737d" stroke-width="1.5"/><path d="M412.3 659.7V742H513.5" fill="none" stroke="#1a1a1a" stroke-width="0.9"/><text x="409.7" y="676.2" font-size="6.5" text-anchor="middle" fill="#222"  transform="rotate(-90 409.7 676.2)">2</text><text x="409.7" y="701.3" font-size="6.5" text-anchor="middle" fill="#222"  transform="rotate(-90 409.7 701.3)">0</text><text x="409.7" y="726.4" font-size="6.5" text-anchor="middle" fill="#222"  transform="rotate(-90 409.7 726.4)">-2</text><path d="M427.8 742v1.5" stroke="#1a1a1a" stroke-width="0.5"/><text x="430" y="747.4" font-size="7.4" text-anchor="end" fill="#222" transform="rotate(-45 430 747.4)">Apr 2016</text><path d="M451.2 742v1.5" stroke="#1a1a1a" stroke-width="0.5"/><text x="453.4" y="747.4" font-size="7.4" text-anchor="end" fill="#222" transform="rotate(-45 453.4 747.4)">Jul 2016</text><path d="M474.6 742v1.5" stroke="#1a1a1a" stroke-width="0.5"/><text x="476.8" y="747.4" font-size="7.4" text-anchor="end" fill="#222" transform="rotate(-45 476.8 747.4)">Oct 2016</text><path d="M498 742v1.5" stroke="#1a1a1a" stroke-width="0.5"/><text x="500.2" y="747.4" font-size="7.4" text-anchor="end" fill="#222" transform="rotate(-45 500.2 747.4)">Jan 2017</text><text x="466" y="657.6" font-size="7.3" text-anchor="middle" font-weight="normal" font-style="normal" fill="#111" >B cells CD19+</text><text x="466.3" y="770" font-size="7.1" text-anchor="middle" font-weight="normal" font-style="normal" fill="#111" >date</text><text x="403.3" y="698" font-size="6.5" text-anchor="middle" fill="#111"  transform="rotate(-90 403.3 698)">Normalized difference from median</text>
</g>
</svg>
</body></html>
